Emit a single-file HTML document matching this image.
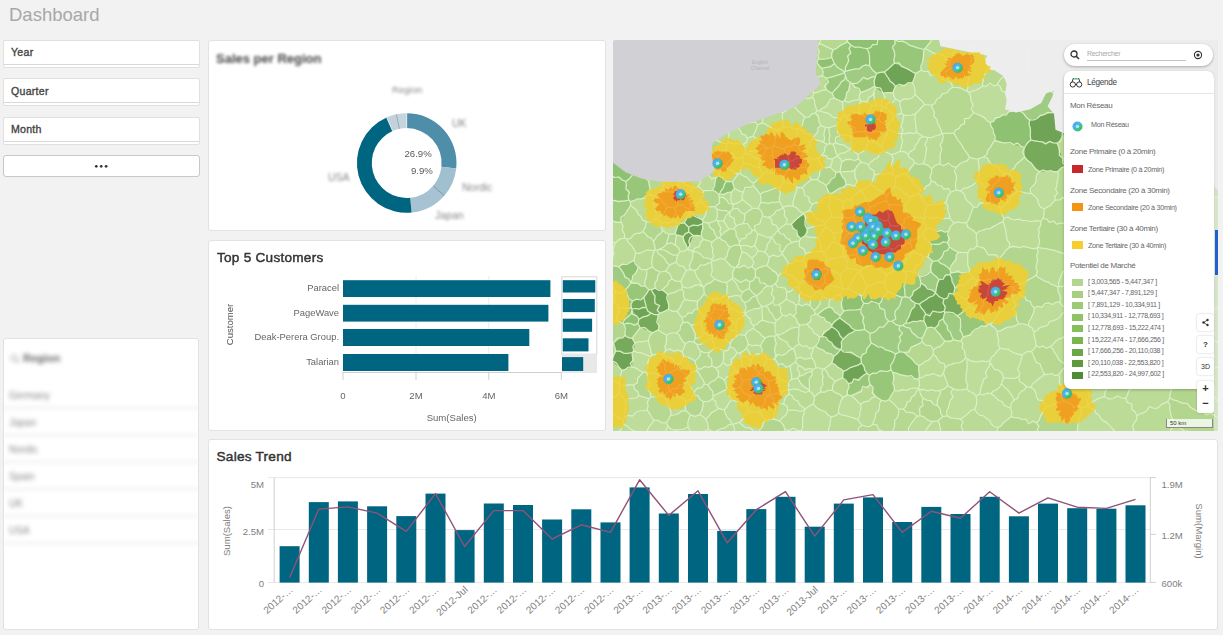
<!DOCTYPE html>
<html><head><meta charset="utf-8">
<style>
*{margin:0;padding:0;box-sizing:border-box}
html,body{width:1223px;height:635px;overflow:hidden;background:#f2f2f2;font-family:"Liberation Sans",sans-serif;position:relative}
.a{position:absolute}
.panel{position:absolute;background:#fff;box-shadow:inset 0 0 0 1px #e2e2e2;border-radius:3px}
.filt{position:absolute;left:3px;width:197px;height:28px;background:#fff;border:1px solid #e0e0e0;border-radius:2px}
.filt .ln{position:absolute;left:0;right:0;top:23px;height:1px;background:#d8d8d8}
.filt span{position:absolute;left:7px;top:5.5px;font-size:10.6px;font-weight:normal;color:#444;-webkit-text-stroke:0.35px #444;letter-spacing:0.25px}
.blur{filter:blur(1.6px)}
.t{position:absolute;white-space:nowrap}
.lg{position:absolute;white-space:nowrap;font-size:8px;color:#666;letter-spacing:-0.3px}
.sw{position:absolute;width:11px;height:8px}
.btn{position:absolute;left:1197px;width:17px;background:#fff;border-radius:2px;box-shadow:0 0 2px rgba(0,0,0,.25);text-align:center;font-weight:bold;color:#333}
</style></head><body>
<div class="t" style="left:9px;top:4px;font-size:18.5px;color:#a8a8a8">Dashboard</div>

<div class="filt" style="top:39.5px"><div class="ln"></div><span>Year</span></div>
<div class="filt" style="top:78px"><div class="ln"></div><span>Quarter</span></div>
<div class="filt" style="top:116.5px"><div class="ln"></div><span>Month</span></div>
<div class="a" style="left:3px;top:154.5px;width:197px;height:22px;background:#fff;border:1px solid #c8c8c8;border-radius:3px"><svg class="a" style="left:0;top:0" width="195" height="20"><g fill="#333"><circle cx="92.3" cy="10.3" r="1.35"/><circle cx="97.2" cy="10.3" r="1.35"/><circle cx="102.1" cy="10.3" r="1.35"/></g></svg></div>

<!-- Region listbox -->
<div class="panel" style="left:3px;top:338px;width:196px;height:292px">
  <div style="filter:blur(1.9px)">
  <svg class="a" style="left:7px;top:16px" width="10" height="10"><circle cx="4" cy="4" r="3" fill="none" stroke="#aaa" stroke-width="1.2"/><line x1="6" y1="6" x2="9" y2="9" stroke="#aaa" stroke-width="1.3"/></svg>
  <div class="t" style="left:20px;top:14px;font-size:11px;font-weight:bold;color:#666">Region</div>
  <div class="t" style="left:6px;top:52px;font-size:10px;color:#8a8a8a">Germany</div>
  <div class="t" style="left:6px;top:79px;font-size:10px;color:#8a8a8a">Japan</div>
  <div class="t" style="left:6px;top:106px;font-size:10px;color:#8a8a8a">Nordic</div>
  <div class="t" style="left:6px;top:133px;font-size:10px;color:#8a8a8a">Spain</div>
  <div class="t" style="left:6px;top:160px;font-size:10px;color:#8a8a8a">UK</div>
  <div class="t" style="left:6px;top:187px;font-size:10px;color:#8a8a8a">USA</div>
  <div class="a" style="left:0;right:0;top:69px;height:2px;background:#ececec"></div>
  <div class="a" style="left:0;right:0;top:96px;height:2px;background:#ececec"></div>
  <div class="a" style="left:0;right:0;top:123px;height:2px;background:#ececec"></div>
  <div class="a" style="left:0;right:0;top:150px;height:2px;background:#ececec"></div>
  <div class="a" style="left:0;right:0;top:177px;height:2px;background:#ececec"></div>
  <div class="a" style="left:0;right:0;top:204px;height:2px;background:#ececec"></div>
  </div>
</div>

<!-- Sales per Region -->
<div class="panel" style="left:208px;top:40px;width:398px;height:191px">
  <div class="blur">
    <div class="t" style="left:8px;top:11px;font-size:13px;font-weight:bold;color:#444">Sales per Region</div>
    <div class="t" style="left:184px;top:44px;font-size:9.6px;color:#888">Region</div>
    <div class="t" style="left:244px;top:77px;font-size:10.5px;color:#888">UK</div>
    <div class="t" style="left:254px;top:141px;font-size:10.5px;color:#888">Nordic</div>
    <div class="t" style="left:227px;top:169px;font-size:10.5px;color:#888">Japan</div>
    <div class="t" style="left:120px;top:131px;font-size:10.5px;color:#888">USA</div>
  </div>
  <svg class="a" style="left:0;top:0" width="399" height="192">
    <g transform="translate(198.7 123)">
      <path id="d" d="" />
    </g>
    <path fill="#4e8ea9" d="M198.70 73.20A49.8 49.8 0 0 1 248.21 128.38L233.40 126.77A34.9 34.9 0 0 0 198.70 88.10Z"/><path fill="#a0bfcf" d="M248.21 128.38A49.8 49.8 0 0 1 236.28 155.67L225.04 145.90A34.9 34.9 0 0 0 233.40 126.77Z"/><path fill="#a7c3d3" d="M236.28 155.67A49.8 49.8 0 0 1 203.65 172.55L202.17 157.73A34.9 34.9 0 0 0 225.04 145.90Z"/><path fill="#006580" d="M203.65 172.55A49.8 49.8 0 0 1 178.60 77.44L184.62 91.07A34.9 34.9 0 0 0 202.17 157.73Z"/><path fill="#c3d1dc" d="M178.60 77.44A49.8 49.8 0 0 1 188.35 74.29L191.44 88.86A34.9 34.9 0 0 0 184.62 91.07Z"/><path fill="#c6d4de" d="M188.35 74.29A49.8 49.8 0 0 1 198.70 73.20L198.70 88.10A34.9 34.9 0 0 0 191.44 88.86Z"/><line x1="225.04" y1="145.90" x2="236.28" y2="155.67" stroke="#6f8a98" stroke-width="0.8"/><line x1="191.44" y1="88.86" x2="188.35" y2="74.29" stroke="#8a9aa6" stroke-width="0.8"/><line x1="184.62" y1="91.07" x2="178.60" y2="77.44" stroke="#e8eef2" stroke-width="0.8"/><line x1="198.70" y1="88.10" x2="198.70" y2="73.20" stroke="#e8eef2" stroke-width="0.8"/>
  </svg>
  <div class="t" style="left:196.5px;top:108px;font-size:9.6px;color:#595959">26.9%</div>
  <div class="t" style="left:203px;top:124.5px;font-size:9.6px;color:#595959">9.9%</div>
</div>

<!-- Top 5 Customers -->
<div class="panel" style="left:208px;top:240px;width:398px;height:191px">
  <div class="t" style="left:9px;top:10px;font-size:13.6px;font-weight:normal;color:#333;-webkit-text-stroke:0.45px #333;letter-spacing:0.25px">Top 5 Customers</div>
  <svg class="a" style="left:0;top:0" width="399" height="192">
    <g stroke="#ececec"><line x1="208" y1="36" x2="208" y2="132"/><line x1="280.8" y1="36" x2="280.8" y2="132"/></g>
    <g fill="#006580">
      <rect x="135" y="40.2" width="207.4" height="16.8"/>
      <rect x="135" y="64.8" width="205.4" height="16.8"/>
      <rect x="135" y="89" width="186.3" height="17"/>
      <rect x="135" y="114" width="165.4" height="17"/>
    </g>
    <g stroke="#cfcfcf"><line x1="135" y1="132.5" x2="353.5" y2="132.5"/><line x1="135" y1="132" x2="135" y2="140"/><line x1="208" y1="132" x2="208" y2="140"/><line x1="280.8" y1="132" x2="280.8" y2="140"/><line x1="353.3" y1="132" x2="353.3" y2="140"/></g>
    <rect x="353.8" y="36.8" width="35" height="77.4" fill="none" stroke="#d8d8d8"/>
    <rect x="354" y="114" width="35" height="19" fill="#e8e8e8"/>
    <g fill="#006580">
      <rect x="354.8" y="40.2" width="32.5" height="12.3"/>
      <rect x="354.8" y="59" width="32" height="13.1"/>
      <rect x="354.8" y="78.7" width="29.3" height="13.1"/>
      <rect x="354.8" y="98.3" width="25.7" height="13.1"/>
      <rect x="354" y="117.1" width="21.2" height="13.9"/>
    </g>
    <g font-size="10" fill="#666" font-family="Liberation Sans">
      <text x="131" y="51" text-anchor="end" font-size="9.4">Paracel</text>
      <text x="131" y="76" text-anchor="end" font-size="9.4">PageWave</text>
      <text x="131" y="100" text-anchor="end" font-size="9.4">Deak-Perera Group.</text>
      <text x="131" y="124.5" text-anchor="end" font-size="9.4">Talarian</text>
      <text x="135" y="158.8" text-anchor="middle" font-size="9.6">0</text>
      <text x="208" y="158.8" text-anchor="middle" font-size="9.6">2M</text>
      <text x="280.8" y="158.8" text-anchor="middle" font-size="9.6">4M</text>
      <text x="353.3" y="158.8" text-anchor="middle" font-size="9.6">6M</text>
      <text x="243.7" y="180.5" text-anchor="middle" font-size="9.6">Sum(Sales)</text>
      <text transform="translate(24.5 84.5) rotate(-90)" text-anchor="middle" font-size="9.6" fill="#555">Customer</text>
    </g>
  </svg>
</div>

<!-- Sales Trend -->
<div class="panel" style="left:208px;top:439px;width:1010px;height:191px">
  <div class="t" style="left:8.5px;top:10px;font-size:13.6px;font-weight:normal;color:#333;-webkit-text-stroke:0.45px #333;letter-spacing:0.25px">Sales Trend</div>
  <svg class="a" style="left:0;top:0" width="1010" height="191">
<g stroke="#e8e8e8" stroke-width="1"><line x1="60" y1="38.6" x2="942" y2="38.6"/><line x1="60" y1="90.5" x2="942" y2="90.5"/><line x1="60" y1="143.5" x2="942" y2="143.5"/></g>
<g stroke="#d0d0d0" stroke-width="1"><line x1="66.2" y1="38.5" x2="66.2" y2="143.5"/><line x1="942.3" y1="38.5" x2="942.3" y2="143.5"/><line x1="942" y1="38.6" x2="948" y2="38.6"/><line x1="942" y1="95.3" x2="948" y2="95.3"/><line x1="942" y1="143.4" x2="948" y2="143.4"/></g>
<g fill="#006580"><rect x="71.6" y="107.2" width="20" height="36.4"/><rect x="100.8" y="63.1" width="20" height="80.5"/><rect x="129.9" y="62.4" width="20" height="81.2"/><rect x="159.1" y="67.3" width="20" height="76.3"/><rect x="188.3" y="77.1" width="20" height="66.5"/><rect x="217.5" y="54.6" width="20" height="89.0"/><rect x="246.6" y="91.1" width="20" height="52.5"/><rect x="275.8" y="64.5" width="20" height="79.1"/><rect x="305.0" y="66.0" width="20" height="77.6"/><rect x="334.1" y="80.5" width="20" height="63.1"/><rect x="363.3" y="70.3" width="20" height="73.3"/><rect x="392.5" y="83.4" width="20" height="60.2"/><rect x="421.6" y="48.4" width="20" height="95.2"/><rect x="450.8" y="74.5" width="20" height="69.1"/><rect x="480.0" y="55.0" width="20" height="88.6"/><rect x="509.2" y="91.9" width="20" height="51.7"/><rect x="538.3" y="70.1" width="20" height="73.5"/><rect x="567.5" y="57.8" width="20" height="85.8"/><rect x="596.7" y="87.7" width="20" height="55.9"/><rect x="625.8" y="64.6" width="20" height="79.0"/><rect x="655.0" y="58.4" width="20" height="85.2"/><rect x="684.2" y="83.0" width="20" height="60.6"/><rect x="713.3" y="67.9" width="20" height="75.7"/><rect x="742.5" y="75.0" width="20" height="68.6"/><rect x="771.7" y="57.8" width="20" height="85.8"/><rect x="800.9" y="77.3" width="20" height="66.3"/><rect x="830.0" y="64.6" width="20" height="79.0"/><rect x="859.2" y="69.2" width="20" height="74.4"/><rect x="888.4" y="69.7" width="20" height="73.9"/><rect x="917.5" y="66.3" width="20" height="77.3"/></g>
<polyline fill="none" stroke="#8f5278" stroke-width="1.4" stroke-linejoin="round" points="81.6,138.7 110.8,70.1 139.9,67.9 169.1,74.1 198.3,92.4 227.5,54.6 256.6,107.5 285.8,71.6 315.0,71.6 344.1,100.0 373.3,85.8 402.5,93.4 431.6,40.8 460.8,76.4 490.0,51.8 519.2,103.8 548.3,70.7 577.5,52.7 606.7,97.1 635.8,60.9 665.0,55.6 694.2,93.4 723.3,72.2 752.5,79.2 781.7,52.7 810.9,74.1 840.0,58.8 869.2,68.2 898.4,69.4 927.5,60.3"/>
<g font-size="10" fill="#808080" font-family="Liberation Sans"><text transform="translate(85.6 151.5) rotate(-42)" text-anchor="end">2012-…</text><text transform="translate(114.8 151.5) rotate(-42)" text-anchor="end">2012-…</text><text transform="translate(143.9 151.5) rotate(-42)" text-anchor="end">2012-…</text><text transform="translate(173.1 151.5) rotate(-42)" text-anchor="end">2012-…</text><text transform="translate(202.3 151.5) rotate(-42)" text-anchor="end">2012-…</text><text transform="translate(231.5 151.5) rotate(-42)" text-anchor="end">2012-…</text><text transform="translate(260.6 151.5) rotate(-42)" text-anchor="end">2012-Jul</text><text transform="translate(289.8 151.5) rotate(-42)" text-anchor="end">2012-…</text><text transform="translate(319.0 151.5) rotate(-42)" text-anchor="end">2012-…</text><text transform="translate(348.1 151.5) rotate(-42)" text-anchor="end">2012-…</text><text transform="translate(377.3 151.5) rotate(-42)" text-anchor="end">2012-…</text><text transform="translate(406.5 151.5) rotate(-42)" text-anchor="end">2012-…</text><text transform="translate(435.6 151.5) rotate(-42)" text-anchor="end">2013-…</text><text transform="translate(464.8 151.5) rotate(-42)" text-anchor="end">2013-…</text><text transform="translate(494.0 151.5) rotate(-42)" text-anchor="end">2013-…</text><text transform="translate(523.2 151.5) rotate(-42)" text-anchor="end">2013-…</text><text transform="translate(552.3 151.5) rotate(-42)" text-anchor="end">2013-…</text><text transform="translate(581.5 151.5) rotate(-42)" text-anchor="end">2013-…</text><text transform="translate(610.7 151.5) rotate(-42)" text-anchor="end">2013-Jul</text><text transform="translate(639.8 151.5) rotate(-42)" text-anchor="end">2013-…</text><text transform="translate(669.0 151.5) rotate(-42)" text-anchor="end">2013-…</text><text transform="translate(698.2 151.5) rotate(-42)" text-anchor="end">2013-…</text><text transform="translate(727.3 151.5) rotate(-42)" text-anchor="end">2013-…</text><text transform="translate(756.5 151.5) rotate(-42)" text-anchor="end">2013-…</text><text transform="translate(785.7 151.5) rotate(-42)" text-anchor="end">2014-…</text><text transform="translate(814.9 151.5) rotate(-42)" text-anchor="end">2014-…</text><text transform="translate(844.0 151.5) rotate(-42)" text-anchor="end">2014-…</text><text transform="translate(873.2 151.5) rotate(-42)" text-anchor="end">2014-…</text><text transform="translate(902.4 151.5) rotate(-42)" text-anchor="end">2014-…</text><text transform="translate(931.5 151.5) rotate(-42)" text-anchor="end">2014-…</text></g>
<g font-size="9.6" fill="#808080" font-family="Liberation Sans"><text x="56" y="48.5" text-anchor="end">5M</text><text x="56" y="96" text-anchor="end">2.5M</text><text x="56" y="147.5" text-anchor="end">0</text>
<text x="953.5" y="48.5">1.9M</text><text x="953.5" y="99.5">1.2M</text><text x="953.5" y="147.5">600k</text>
<text transform="translate(21.5 92) rotate(-90)" text-anchor="middle">Sum(Sales)</text>
<text transform="translate(987.5 92) rotate(90)" text-anchor="middle">Sum(Margin)</text></g>
</svg>
</div>

<!-- Map -->
<div class="a" style="left:613px;top:40px;width:605px;height:391px;overflow:hidden;border-radius:3px 0 0 0;background:#bad997">
<svg width="605" height="391" viewBox="0 0 605 391" style="position:absolute;left:0;top:0">
<rect width="605" height="391" fill="#badb95"/>
<path fill="#bfdd9a" d="M72 14.9L51.5 12.2L49.7 32.5L56.9 40.3L75.9 28.5ZM567.6 172.2L572.6 179.7L591.8 179.6L601 156.7L595.5 150.8L579.4 149.7ZM578.6 283.5L578.7 303.5L605 300.9L605 267.3ZM218.2 376.9L200.2 363.9L192.1 369L191.5 369.7L188.2 390.7L188.5 391L215.5 391ZM474.5 365.5L468.6 368.3L463.3 391L503.1 391ZM409.2 315.1L418.5 311.3L423.1 305.6L420.8 292.1L415.4 285.5L405.8 283.8L384.3 291.4L387.2 308.2ZM334.1 375.9L347.5 379.1L361.9 369.2L363 356.1L353.5 349L340.5 348.9ZM230.7 216.4L230.1 208.6L226.8 204.6L221 202.2L209.5 211.6L213.9 220.6ZM109.9 322.6L118.7 324.7L124 312.6L116.8 306.5L110.2 310.3ZM230.6 177L230.7 162L216.6 156.5L216.2 157L218.3 177.5L228.6 178.5ZM238.5 108.9L224.5 115.7L224.5 115.9L228.9 121.9L245.7 118.8L244.7 114.2L238.7 108.8ZM41.1 380.4L34 370L11.6 377.8L10.5 379.3L10.6 384.5L20.8 391L32.5 391ZM513.1 251.4L542 232.8L541.9 232.1L516.2 216.1L488.4 230.8L488.3 233.1ZM65.2 183.6L61.5 180.4L48 182.9L49.7 190.4L56.2 194.3L62.2 193.6ZM55.2 386.4L53.4 382.5L41.1 380.4L32.5 391L53.2 391ZM6 352.9L6.4 344.3L6 343.6L0 342.7L0 356.5ZM22 303L20.8 310.9L38.2 316.3L39.3 315.3L35.4 300.5ZM170.5 140.7L167.6 145.7L166.6 161.7L169.8 167.3L169.9 167.3L179.8 166.1L184.1 147.6ZM376.9 322.4L390.5 337.8L405.9 336.7L409.2 315.1L387.2 308.2L376.5 321.2ZM79.7 211.6L79.6 211.4L74.5 209.1L67.2 211.4L64.7 214.8L63.2 222.2L73.1 230.7L77.6 229.4ZM102.6 327.8L105.1 336.7L111.4 340.2L123.3 331L118.7 324.7L109.9 322.6ZM33.4 79.7L41.8 83.2L49.5 68.6L38.4 61.1ZM248.1 61L254.1 61.9L261.2 51.5L262.3 47.2L261.7 45.9L247.7 52.6L247 59.7ZM229.5 62.1L221.3 58.1L206.3 70.7L227.3 78.2L230.9 75.8ZM123.3 291.2L125.2 294.5L132.1 295.4L140.5 288.3L140.7 285.7L132.4 273.7L123.1 284.1ZM234.4 354.9L229.9 357.4L225.6 373.1L244.7 379.8L247.6 364.2L238 355.6ZM520.3 88.4L514.9 87.9L509.5 114.5L536.7 117.6L538.4 112.5ZM206.3 70.7L203.6 71.2L202.3 73L207.9 85.7L212.6 87.3L216.2 87.7L223.8 85L227.3 78.2ZM464.6 189.5L460.8 210.9L486.1 226.9L493.3 190.8L476.9 179.5ZM19.1 312.5L19.3 327.1L30.2 332.3L32.8 332.1L38.2 316.3L20.8 310.9ZM446.2 56.2L463.5 41.5L445.9 19.2L421 37L422 42.6ZM431.3 169L442.2 160.1L445 131.3L426.6 131.6L417.7 153.3ZM134.3 98.2L119.6 83.1L115.3 85.8L115.2 102.3L130.5 104.2ZM242 129.9L227.2 132L233.1 144.3L241.7 146ZM44.3 120.4L44.1 117.7L22 112.2L24.2 131.2L33 134ZM206.4 297.3L209.1 296.3L218.7 286.7L218.9 285.2L204.7 274.5L202.4 274.2L193.9 284ZM182.3 33.6L180.1 27L169.6 20L161.7 26.7L159.4 33.7L163.2 41.1L174.2 44.4L180 41.9ZM105.6 368.4L111.2 370L119.1 359.4L117.5 351.1L114.5 349.1L100.1 355.9L99.2 359.1ZM205.8 249.8L205.7 248.4L192.1 240.4L187.3 243.1L185.7 247L187.4 252L197.9 257.6ZM181.1 105.1L170.7 109.1L175.9 121.7L192.9 112.9ZM282.6 59.1L287.1 61.4L302.2 54.6L299.5 42.8L282.4 46.3L280 52.3ZM204.8 118L209.4 126.9L217.2 126.9L219.4 118.9L209.2 115ZM224.5 115.9L219.4 118.9L217.2 126.9L223.2 132.4L227 131.9L228.9 121.9ZM405.4 67.5L405.4 65.9L384.3 44.6L369.7 45.9L356 52.6L360.7 72.7L377.3 82.4ZM139.9 96.2L134.3 98.2L130.5 104.2L131.5 113.8L134.1 113.9L153.5 107.4ZM517.8 22.1L526.2 15.2L524.5 0L486.7 0L484.5 10.9L484.6 11L515.2 22.6ZM278.1 209.1L283.3 228.5L288.5 229.4L300.4 211.1L297.3 202.6ZM282.5 136.9L278.9 133.7L261.2 135.3L258.1 144.4L273.3 155.8L281.8 146.1ZM353.5 349L363 356.1L366.6 354L376.9 322.4L376.5 321.2L354.4 318.9ZM165.3 189.7L154.9 177.3L149.7 176L142 190.3L144.7 193.9L157.9 197.4L158.8 197.1L165.2 189.8ZM53.4 335.6L56.4 351.1L56.8 351.2L73.8 342L75.2 335.2L64.2 329.5ZM414.2 8.1L425.3 0L389.6 0ZM76.9 57.1L58.1 45.6L56 68.3L60.6 71.5L68.8 69.2L76.8 58.1ZM303.8 92.5L302.4 73.8L290.8 74.9L289.2 93.3ZM175.6 349.9L196.5 351L196.3 350.1L184.7 338.2L178.7 339.2L175.1 342.3L175.4 349.6ZM226.8 255.1L229.8 249.7L211.3 243.2L205.7 248.4L205.8 249.8L210.4 256.3L216.8 259.3ZM210.6 102.2L212.6 87.3L207.9 85.7L200 98L200.2 98.5ZM39.9 156.1L42.5 179.2L44.4 179.6L55.2 167.3L43.7 155.4ZM269.9 53L269.3 66.3L270.1 67L272.1 67.2L282.6 59.1L280 52.3ZM211.5 184.8L211.7 183.7L196.4 170.3L190.8 173.3L190.6 173.8L194.1 188.9ZM377.9 353.5L366.6 354L363 356.1L361.9 369.2L384.9 387.7L398.1 376.7L397.6 368.3ZM603.4 195L605 194.8L605 157.1L601 156.7L591.8 179.6ZM345 8.1L359.8 7.2L372.3 0L337.2 0ZM76 90.2L74.4 98.1L79.6 108.4L95.3 102.3L96.3 99.8L94.5 84.7L92.9 83.1L82.1 85.2ZM53.3 295L52.6 310.6L69.2 311.7L72.5 303.7L63.5 292.8ZM257.9 193.7L260.6 209.6L261.7 210.6L275.7 207.6L274.5 190.2L258.8 191.7ZM79.4 147.9L66.4 141L60.8 151.6L64.7 157.9L76.7 152.8ZM450.9 361.3L445.7 334.6L431.6 334.2L418 347.4L433.4 366.6ZM310.2 96.6L303.8 92.5L289.2 93.3L289 93.4L287 111.4L294.9 114.5ZM498.1 143L499.4 129.9L473.3 120.7L461.7 127.7L471.7 152.6ZM180.4 308.9L183.3 318.9L199.1 318L200.4 307.6L186.4 304.1ZM359.8 7.2L353.9 51.2L356 52.6L369.7 45.9L378.6 0L372.3 0ZM337.8 232.9L356 232.9L354.9 212.7L345.3 212.2L336.9 229.6ZM152.6 380.1L147.3 373L134.7 370.3L126.3 382.4L139.4 391L147 391ZM138.9 226.7L138.8 218.1L129 212.1L122.9 227.2ZM375.9 150.1L365.1 141L347.5 151.1L360.4 167.1L378 161.9ZM561.4 386.8L558.2 391L573.5 391ZM149.7 280.1L149.5 266.4L148.6 266.1L132.3 273.2L132.4 273.7L140.7 285.7ZM139.6 168.5L145.2 168.2L147.7 162.5L147.3 154.3L140.5 145.7L130.3 152.2L129.3 159.3ZM248.1 61L245.9 73L254.1 78.4L259.6 65.9L254.1 61.9ZM287.8 185.1L277.7 185.3L274.5 190.2L275.7 207.6L278.1 209.1L297.3 202.6L298.2 200.3ZM120.1 164.4L129.3 159.3L130.3 152.2L121.5 148.3L118.5 151.9L119.9 164.1ZM113.6 242.6L118.7 239L119.9 237.6L121.7 227.9L111.7 219.4L99.1 220.6L98.5 222.2L101.6 239.1ZM211.5 184.8L212 187L220.1 194.4L230.8 189.7L228.6 178.5L218.3 177.5L211.7 183.7ZM585.7 77.9L561.4 96.2L575.2 118.8L602.4 116.3L605 114.3L605 104.1ZM180.4 276.2L169.3 275L163.3 280.4L161.8 283.4L163.4 294.8L164.3 294.9L185.9 287L187 285.2ZM110.7 180.6L116.1 189.3L120.7 188.7L123.2 185.9L116.8 172.2ZM472 322.4L475.3 364.5L492 356.6L498.4 321.1L489.6 317.6ZM95.5 389.2L92.9 379.2L86.7 374.6L77.5 374.8L75 386.7L79.3 391L91.2 391ZM55.2 167.3L44.4 179.6L48 182.9L61.5 180.4L61.4 167.7ZM104.2 43.2L88.8 50.4L101.6 64.6L112.3 60.5L107.7 43.8ZM265.7 78.8L274.5 87.4L280.3 75.3L272.1 67.2L270.1 67ZM108.3 195.1L116.1 189.3L110.7 180.6L104.5 180.8ZM404.5 151.4L396.4 133.6L390.9 133.1L375.9 150.1L378 161.9L388.1 168.1ZM290.8 74.9L288.4 73.4L280.3 75.3L274.5 87.4L274.8 89.4L289 93.4L289.2 93.3ZM592.7 232.1L605 238.5L605 194.8L603.4 195L588.7 216ZM446.5 261.9L421.2 267.9L415.4 285.5L420.8 292.1L453.4 272.4L453.3 272ZM227.5 95.4L222.3 102.7L238.5 108.9L238.7 108.8L238.3 96.7ZM79.6 211.4L90.4 199.4L88.2 196L80.3 195.6L74.5 208.7L74.5 209.1ZM100 21.3L94.1 19L77.4 29.2L82.8 35.3L96 33.2L101.7 23.3ZM106.1 288L105 291.5L117.3 303.5L125.2 294.5L123.3 291.2L106.3 287.9ZM73.1 230.7L67.8 241.3L69.4 246.7L90 246.9L81.6 230.6L77.6 229.4ZM141.8 205.7L127.1 205.8L129 212.1L138.8 218.1L144.9 210.7ZM64.7 157.9L60.8 151.6L48.1 151.7L43.7 155.4L55.2 167.3L61.4 167.7L64.8 165.4ZM137.1 357L133.3 364.7L134.7 370.3L147.3 373L155.2 355.8L142.4 353.9ZM294.9 114.5L287 111.4L278.6 114.7L278.9 133.7L282.5 136.9L293.5 134.6L301.6 123ZM242.9 187.2L239.6 176.9L230.6 177L228.6 178.5L230.8 189.7L236.7 193.1L239.4 193.4ZM227.4 234.2L213.4 228.7L211.3 243.2L229.8 249.7L230.5 249.2ZM187.7 198.4L186.3 201.3L192.5 213.5L209.1 211.4L204.7 198.4L191.5 195.9ZM256.3 169.4L256.9 166.9L247.5 151.3L246.9 151.2L237.9 160.5L243 173.5L249.3 173.1ZM58.1 45.6L56.8 43.6L35.9 56.9L38.4 61.1L49.5 68.6L56 68.3Z"/>
<path fill="#b3d68e" d="M114 103.6L96.3 99.8L95.3 102.3L97.7 111.1L104.8 117.3L113.1 109.9ZM204.2 139.6L213 145.6L223.2 132.4L217.2 126.9L209.4 126.9ZM101 268.3L100 259.3L91.3 253.6L84.6 261.4L85.1 269L92.4 277L94.5 276.8ZM16.6 92.5L4.1 88.3L0 94.2L0 117.2L21.3 110.9L22.4 103.5ZM464.6 189.5L430.1 178.3L427.7 181.3L424.7 207.3L455.6 213.3L460.8 210.9ZM384.3 291.4L405.8 283.8L398.6 253.6L377.4 284.5ZM198.8 331.3L186.2 336.4L184.7 338.2L196.3 350.1ZM154.3 319.3L161.9 318.9L162.1 318.6L161.7 296.2L152.2 297.9L147.3 305.7L148.5 314ZM391.1 178.5L388.1 168.1L378 161.9L360.4 167.1L353.6 182.9L363.4 193.6L389.8 181.7ZM152.6 380.1L147 391L171.2 391L172.1 389.7L166.6 381.1L160.9 379.1ZM49.7 190.4L40.5 201.3L42.3 209.8L43.9 210L46.2 209.3L53.6 204.1L56.2 194.3ZM35.5 56.8L18.7 60.8L25.1 81.1L33.4 79.7L38.4 61.1L35.9 56.9ZM119.9 237.6L136.8 241.9L142.3 236.8L142.5 230L138.9 226.7L122.9 227.2L121.7 227.9ZM421.2 267.9L400.2 247.8L398.6 253.6L405.8 283.8L415.4 285.5ZM561.4 96.2L585.7 77.9L586.5 72.3L581.3 64.3L545.4 59.5L543.9 60.5L542.8 75.8L557.8 95.7ZM514.2 276.4L524.8 283.6L559.4 259.2L559.5 252.2L542 232.8L513.1 251.4ZM127.3 346.7L137.1 357L142.4 353.9L140.2 340.3L130 341ZM238.7 204.5L244.4 212.3L251.1 208.3L245.4 198L241.6 196.6ZM63.4 194.9L62.2 193.6L56.2 194.3L53.6 204.1L62.6 205.5ZM554.8 361.7L561.4 386.8L573.5 391L605 391L605 378.3L556.9 357.7ZM201.1 270.4L210.4 256.3L205.8 249.8L197.9 257.6L197.1 265.8ZM81.1 302.1L84.1 304.6L99 298.1L99.4 296.2L91.3 292L82.1 298.4ZM249.3 173.1L243 173.5L239.6 176.9L242.9 187.2L250.4 185.5ZM165.1 236.4L153.7 225.5L142.5 230L142.3 236.8L154.2 246L158.7 246.1L162.4 243.7ZM210.6 102.2L214.1 104.3L217 103.7L216.2 87.7L212.6 87.3ZM45.1 4.3L51.5 12.2L72 14.9L80.3 1.3L79.9 0L46.1 0ZM400.2 247.5L400.2 247.8L421.2 267.9L446.5 261.9L445 247.2L423 235.2ZM207.9 85.7L202.3 73L191.8 77L186 88.4L200 98ZM301.6 123L293.5 134.6L307.3 150.6L318.3 141L318.7 128.6L310.4 123.6ZM75.2 335.2L83.6 330.5L84.5 328.6L81.9 321.1L70.7 316L64.7 325.1L64.2 329.5ZM113.6 242.6L101.6 239.1L90.7 247.3L91.3 253.6L100 259.3L113.8 255.2ZM141.6 16.8L142.1 16.7L157.7 2.7L156.7 0L132 0L130.2 2.3L130.3 2.6ZM98.9 202.1L104.5 198.1L95.4 183.2L90.1 182.2L89.2 183.7L88.2 196L90.4 199.4ZM417.7 153.3L426.6 131.6L411.7 117L396.4 133.6L404.5 151.4ZM43.1 85.2L41.8 83.2L33.4 79.7L25.1 81.1L16.6 92.5L22.4 103.5L36.7 99.7ZM143.6 255.8L154.2 246L142.3 236.8L136.8 241.9L136.2 248.6L143.1 255.6ZM0.4 303.3L12 295.5L10.8 284.5L9.6 283.2L4.7 281.1L0 282.2L0 303ZM106.1 157.1L102 166.7L103.9 169L116.8 172L119.6 169L120.1 164.4L119.9 164.1ZM505.2 117.4L509.5 114.5L514.9 87.9L503.9 79.8L480.8 90.1ZM423.4 383L426.3 391L463.3 391L468.6 368.3L450.9 361.3L433.4 366.6ZM309.9 358L307 375.6L319.4 381.7L325 380.7L329.9 376.5L324.5 365.6ZM258.8 224.5L273.7 234.7L283.3 228.5L278.1 209.1L275.7 207.6L261.7 210.6ZM254.1 61.9L259.6 65.9L263.7 65.2L261.2 51.5ZM243.2 214.8L244.4 212.3L238.7 204.5L230.1 208.6L230.7 216.4L231.2 216.7ZM105 121.2L85.9 128.5L87.8 133.4L103.4 136.9L105.9 135.7L108.9 126.4ZM88.1 282.8L92.4 277L85.1 269L68.9 277.3L70.1 282.6L78.2 285.4ZM140.2 340.3L145.9 334.4L145.6 332.5L137.3 326.5L129 328.3L124.7 331.4L130 341ZM166.6 161.7L167.6 145.7L147.3 154.3L147.7 162.5ZM31.9 245.8L35.8 249.6L38.4 249.7L42.3 248.2L47.3 232L39.6 227.1L33.5 229.6ZM120.7 188.7L116.1 189.3L108.3 195.1L106.5 197.7L117.2 207.1L126 204.9L126.5 202ZM384.9 387.7L384.3 391L426.3 391L423.4 383L398.1 376.7ZM340.9 93.3L329.6 93.8L326.8 123.9L343.4 127.3L356.6 117.2ZM0 246L0 255.3L0 255.3L2.6 251.9ZM195.4 34.4L199.3 23L191.9 19L180.1 27L182.3 33.6ZM49.7 190.4L48 182.9L44.4 179.6L42.5 179.2L33.3 181.6L29.8 191.5L40.5 201.3ZM130.3 2.6L130.2 2.3L125.7 0L105.9 0L105.1 1.5L105.5 3L117.3 16.7ZM370.6 117L381.8 100.3L377.3 82.4L360.7 72.7L340.9 93.3L356.6 117.2L365.4 118.9ZM105.1 336.7L94.9 344.8L100.1 355.9L114.5 349.1L111.4 340.2ZM238.3 96.7L238.7 108.8L244.7 114.2L255.5 101.5L251.9 91L242.9 91.6ZM78.2 285.4L70.1 282.6L63.5 292.8L72.5 303.7L81.1 302.1L82.1 298.4ZM143.1 255.6L136.2 248.6L129.8 252.1L127.6 256.4L131.6 262.6ZM258.8 224.5L261.7 210.6L260.6 209.6L251.1 208.3L244.4 212.3L243.2 214.8L249.8 228.1ZM161.9 133.4L149.4 133.3L140.6 143.2L140.5 145.7L147.3 154.3L167.6 145.7L170.5 140.7L169.6 137.8ZM105.8 154.6L99.5 150.3L89.9 150.6L89.2 162.4L94.5 167.4L102 166.7L106.1 157.1ZM255.5 101.5L268.5 106.8L273.7 90.6L252.2 90.7L251.9 91ZM170.7 109.1L181.1 105.1L184.2 89.2L169.8 86.1L164 90.2L161.4 106ZM192.1 240.4L195.2 231L189.3 220.8L175.3 223.3L172.2 232.1L187.3 243.1ZM220.3 9.8L206 3.6L205.4 3.9L205.8 19L218.8 17.5ZM122.9 227.2L129 212.1L127.1 205.8L126 204.9L117.2 207.1L111.7 219.4L121.7 227.9ZM385.9 238.2L400.2 247.5L423 235.2L424.2 207.9L396 207.8L385.5 218.9ZM601 156.7L605 157.1L605 114.3L602.4 116.3L595.5 150.8ZM56.9 40.3L49.7 32.5L29.5 32.9L35.5 56.8L35.9 56.9L56.8 43.6ZM130.6 123.9L146.1 127.5L146.7 120.6L134.1 113.9L131.5 113.8L129.3 117.5ZM130.2 2.3L132 0L125.7 0ZM207.8 0L187.2 0L190.6 2.6L205.4 3.9L206 3.6ZM228.9 121.9L227 131.9L227.2 132L242 129.9L247.9 122.2L245.7 118.8ZM117.1 18.7L120.6 23.2L137.7 23.9L141.6 16.8L130.3 2.6L117.3 16.7ZM321.6 288.2L314.2 287.9L309 298.3L309.2 301.7L320.3 309.9L331.9 300.9ZM44.1 117.7L44.3 120.4L50.6 127.4L60.4 127.3L61.8 118.7L48.4 112.5ZM104.8 117.3L97.7 111.1L82.8 123L83.3 126L85.9 128.5L105 121.2ZM553.3 206.6L564.5 203.3L572.6 179.7L567.6 172.2L551 167.2L536.7 173L536.1 188.6ZM132.3 273.2L148.6 266.1L143.6 255.8L143.1 255.6L131.6 262.6L131.5 272.2ZM33.8 333L32.8 332.1L30.2 332.3L20.5 345L26 355.6L35.9 358.7L37.9 357ZM115.2 270.2L116.6 268.8L115.4 257L113.8 255.2L100 259.3L101 268.3L111.4 271ZM80.8 355.1L73 360.9L72.8 370.7L77.5 374.8L86.7 374.6L90.2 361.6ZM175.9 121.7L170.7 109.1L161.4 106L158.7 107.7L161.9 133.4L169.6 137.8L175.1 130.4ZM75.9 169.1L64.8 165.4L61.4 167.7L61.5 180.4L65.2 183.6L71.3 182.8L76.7 172ZM569.3 323.6L558.4 336.2L556.9 357.7L605 378.3L605 361.3ZM185.5 264.1L183.3 265.6L180.4 276.2L187 285.2L193.9 284L202.4 274.2L201.1 270.4L197.1 265.8ZM159.4 33.7L147 37L145.7 52.6L153.1 59.7L163.2 41.1ZM123.1 284.1L132.4 273.7L132.3 273.2L131.5 272.2L116.6 268.8L115.2 270.2L116.1 280.4ZM526.2 15.2L537.2 17.3L568.9 1L568.9 0L524.5 0ZM542 232.8L559.5 252.2L592.7 232.1L588.7 216L564.5 203.3L553.3 206.6L541.9 232.1ZM516.2 216.1L541.9 232.1L553.3 206.6L536.1 188.6L516.3 199.4ZM411.7 117L411.6 107.5L381.8 100.3L370.6 117L390.9 133.1L396.4 133.6Z"/>
<path fill="#78aa5c" d="M30.8 257.3L19.6 261L18.4 267.9L19 269L33.3 267.7ZM227.6 309.7L220.9 316.3L218.8 322.8L230.3 331.3L248.4 323.1L248 318.1L227.9 309.6ZM445 131.3L452.4 125.9L444.1 103.2L417.9 100L411.6 107.5L411.7 117L426.6 131.6ZM344.1 275.8L356.6 266.9L353.4 259.8L340.6 254.2L330.9 259L331.2 271.2L331.8 272.1ZM331.8 272.1L331.2 271.2L312.7 274.1L311 281.2L314.2 287.9L321.6 288.2L330.1 278.8ZM308 243.1L296.6 257.8L302.2 263L306.4 264.1L322.7 253L322.6 252.5ZM312.7 274.1L306.4 264.1L302.2 263L292.8 283.1L311 281.2ZM70.2 196.7L75.8 192.1L75.6 187.2L71.3 182.8L65.2 183.6L62.2 193.6L63.4 194.9ZM26 279.2L24.9 283.3L27.1 287.8L39.5 292.7L45.3 289.9L45.2 274.7L38.2 273.1ZM282.4 46.3L271.3 31.9L263.6 33.4L262.4 36.4L261.7 45.9L262.3 47.2L269.9 53L280 52.3ZM38.2 273.1L45.2 274.7L46.9 273.1L38.4 249.7L35.8 249.6L30.8 257.3L33.3 267.7ZM19.3 298.4L12 295.5L0.4 303.3L2.7 311.2L19.1 312.5L20.8 310.9L22 303Z"/>
<path fill="#98c77a" d="M11.6 250.3L19.6 261L30.8 257.3L35.8 249.6L31.9 245.8L17.8 243.1ZM232.5 35.9L219.1 53.5L221.3 58.1L229.5 62.1L231.3 60.6L237.4 42.7ZM300.3 232.9L292.3 232L292.2 256.6L296.6 257.8L308 243.1L306.6 237ZM11.6 250.3L2.6 251.9L0 255.3L0.9 262.5L5.5 267.8L18.4 267.9L19.6 261ZM375.2 283.8L367.2 271.5L356.6 266.9L344.1 275.8L350.2 297.2ZM232.5 35.9L231.5 32.6L213.4 38.2L213.5 49.9L219.1 53.5ZM247.7 52.6L261.7 45.9L262.4 36.4L239.5 43.5ZM336.4 206.9L334.3 202.5L318.3 204L315.1 217.1L320 221.3L324.9 220.6ZM330.1 278.8L321.6 288.2L331.9 300.9L340.6 299.6ZM256.4 335.2L254.2 333.3L235.5 343.7L234.4 354.9L238 355.6L257 344.3ZM281.4 350.5L279.8 332.4L278 329.9L256.4 335.2L257 344.3L262.8 356.5L268.3 360.2L275.8 359.7ZM223.2 132.4L213 145.6L216.7 153.9L233.1 144.3L227.2 132L227 131.9ZM218.9 285.2L226.6 277.9L227.2 275.6L215.8 267.1L204.7 274.5ZM231 271L227.2 275.6L226.6 277.9L242.5 290.3L251.5 289.4L247.7 269.2ZM24.9 283.3L10.8 284.5L12 295.5L19.3 298.4L27.1 287.8ZM33.3 134.2L33 134L24.2 131.2L13 141.4L15.9 160L17.4 161.7L38.5 155.8ZM311 9.5L283.3 0L281.7 0L281.4 23.3L302.6 33.6L308 30.2ZM221.4 23.5L231.7 31.9L232.2 31.4L238 5.2L234.6 1.8L220.3 9.8L218.8 17.5Z"/>
<path fill="#badb95" d="M173.8 252.1L162.4 243.7L158.7 246.1L159.4 262L166.2 264.5L173.3 259ZM188.2 390.7L172.1 389.7L171.2 391L188.5 391ZM128.6 315.5L137.6 320.4L140.9 316.2L133.4 308.2L126.9 312.9ZM445 247.2L445.6 246.6L455.6 213.3L424.7 207.3L424.2 207.9L423 235.2ZM103.9 23.7L111.9 39.3L118.8 36.9L120.6 23.2L117.1 18.7ZM363.4 193.6L363.7 206.2L385.5 218.9L396 207.8L389.8 181.7ZM189.3 220.8L192.5 213.5L186.3 201.3L178.7 202.8L169.4 212.6L169.1 213.9L175.3 223.3ZM38.5 155.8L17.4 161.7L17.6 165.6L33.3 181.6L42.5 179.2L39.9 156.1ZM198.2 46.4L199.7 39.3L195.4 34.4L182.3 33.6L180 41.9L182.8 44.6ZM61.8 118.7L60.4 127.3L64.9 134.9L83.3 126L82.8 123L78 115.1L65.3 115.5ZM384.9 387.7L361.9 369.2L347.5 379.1L349.5 391L384.3 391ZM81.2 352.2L73.8 342L56.8 351.2L73 360.9L80.8 355.1ZM484.5 10.9L455.1 4.5L446.6 10.8L445.9 19.2L463.5 41.5L472.1 41.3L484.6 11ZM427.7 181.3L430.1 178.3L431.3 169L417.7 153.3L404.5 151.4L388.1 168.1L391.1 178.5ZM472.7 85.2L478.5 47.1L472.1 41.3L463.5 41.5L446.2 56.2L446.1 69.7L458 84.5ZM13.7 34.7L26.1 30.7L29.4 10.6L12.5 0.9L0 12.2L0 18.7ZM256.6 187.6L250.4 185.5L242.9 187.2L239.4 193.4L241.6 196.6L245.4 198L257.9 193.7L258.8 191.7ZM388.4 343.7L390.5 337.8L376.9 322.4L366.6 354L377.9 353.5ZM294.7 176.9L291.7 165.4L276.1 164.3L275 180.1L277.7 185.3L287.8 185.1ZM486.1 226.9L488.4 230.8L516.2 216.1L516.3 199.4L501.7 190.3L493.3 190.8ZM91.6 344L83.6 330.5L75.2 335.2L73.8 342L81.2 352.2ZM512.2 171L535.1 171.7L527.9 149L503.6 151.4L503.3 159.1ZM174.6 370.3L166.6 381.1L172.1 389.7L188.2 390.7L191.5 369.7ZM30.2 332.3L19.3 327.1L8.9 330.3L6 343.6L6.4 344.3L20.5 345ZM213.9 220.6L209.5 211.6L209.1 211.4L192.5 213.5L189.3 220.8L195.2 231L212.9 227.9ZM227.2 275.6L231 271L226.8 255.1L216.8 259.3L215.8 267.1ZM569.4 34.4L552.4 39.4L545.4 59.5L581.3 64.3L582.3 43.3ZM305.7 338.9L279.8 332.4L281.4 350.5L305.6 348.7ZM169.4 10L157.7 2.7L142.1 16.7L161.7 26.7L169.6 20ZM48.4 105.3L48.4 112.5L61.8 118.7L65.3 115.5L61.8 103L55.4 100ZM118.5 151.9L106.3 154.2L105.8 154.6L106.1 157.1L119.9 164.1ZM236.7 193.1L226.8 204.6L230.1 208.6L238.7 204.5L241.6 196.6L239.4 193.4ZM179.8 66L191.8 77L202.3 73L203.6 71.2L199.4 57.1L185.9 57.7L180 63.9ZM0 180.6L0 202.2L2.4 203L11.6 198.2L8.1 182.1ZM234.3 0L233.7 0L234.3 0.2ZM10.6 384.5L5.1 391L20.8 391ZM175.3 223.3L169.1 213.9L156 217.4L153.7 225.5L165.1 236.4L172.2 232.1ZM90 246.9L90.7 247.3L101.6 239.1L98.5 222.2L81.6 230.6ZM10.6 384.5L10.5 379.3L0 374.1L0 391L5.1 391ZM127 133.4L140.6 143.2L149.4 133.3L146.1 127.5L130.6 123.9ZM231.3 60.6L247 59.7L247.7 52.6L239.5 43.5L237.4 42.7ZM157.9 197.4L144.7 193.9L141.8 205.7L144.9 210.7L151.3 212ZM103.9 23.7L117.1 18.7L117.3 16.7L105.5 3L100 21.3L101.7 23.3ZM311 9.5L308 30.2L335 40.5L336.5 20.3L312.2 8.5ZM60.6 71.5L59.4 85.4L76 90.2L82.1 85.2L68.8 69.2ZM4.1 88.3L0 82.4L0 94.2ZM302.4 73.8L311.6 64.5L302.2 54.6L287.1 61.4L288.4 73.4L290.8 74.9ZM112.5 126.3L125.5 133.9L127 133.4L130.6 123.9L129.3 117.5L121.9 117.3ZM103.9 169L102 166.7L94.5 167.4L89.4 180.1L90.1 182.2L95.4 183.2L103.3 180.2ZM39.5 292.7L27.1 287.8L19.3 298.4L22 303L35.4 300.5ZM571.1 319.1L569.3 323.6L605 361.3L605 327.5ZM413.5 346.7L405.9 336.7L390.5 337.8L388.4 343.7L401.2 360.1ZM572.8 142.9L579.4 149.7L595.5 150.8L602.4 116.3L575.2 118.8L572.8 122.8ZM137.6 320.4L137.3 326.5L145.6 332.5L154.3 319.3L148.5 314L140.9 316.2ZM155.2 355.8L147.3 373L152.6 380.1L160.9 379.1L161.8 362.3L155.4 355.7ZM157.7 2.7L169.4 10L183.3 0L156.7 0ZM103 391L120.7 391L119.8 384.3L118.9 384ZM180 41.9L174.2 44.4L171.8 55.5L180 63.9L185.9 57.7L182.8 44.6ZM85.9 128.5L83.3 126L64.9 134.9L64.8 135.4L66.4 141L79.4 147.9L85.2 146.4L87.8 133.4ZM592.6 10.7L571.2 3.5L569.4 34.4L582.3 43.3L598.6 32.7ZM105.5 3L105.1 1.5L88.1 4.3L94.1 19L100 21.3ZM80.3 1.3L88.1 4.3L105.1 1.5L105.9 0L79.9 0ZM176.2 353.9L192.1 369L200.2 363.9L201.3 356.9L196.5 351L175.6 349.9ZM64.8 135.4L49.7 140.5L48.1 151.7L60.8 151.6L66.4 141ZM116.8 172.2L123.2 185.9L130.1 183.7L131.7 174.2L119.6 169L116.8 172ZM572.8 122.8L575.2 118.8L561.4 96.2L557.8 95.7L538.4 112.5L536.7 117.6L539.6 129.7ZM488.4 230.8L486.1 226.9L460.8 210.9L455.6 213.3L445.6 246.6L487.1 234.5L488.3 233.1ZM209.5 211.6L221 202.2L220.1 194.4L212 187L204.7 198.4L209.1 211.4ZM25.2 226.7L17.7 242.6L17.8 243.1L31.9 245.8L33.5 229.6ZM50.6 127.4L44.3 120.4L33 134L33.3 134.2L45.8 135.8ZM526.2 289.2L511.4 320.9L522.7 332.6L558.4 336.2L569.3 323.6L571.1 319.1L571.1 319ZM50.6 313.3L64.7 325.1L70.7 316L69.2 311.7L52.6 310.6ZM39.6 227.1L41.4 210.7L22.6 212.8L20.8 220.5L25.2 226.7L33.5 229.6ZM461.7 127.7L473.3 120.7L480.7 90.1L472.7 85.2L458 84.5L444.1 103.2L452.4 125.9ZM401.2 360.1L388.4 343.7L377.9 353.5L397.6 368.3ZM377.4 284.5L398.6 253.6L400.2 247.8L400.2 247.5L385.9 238.2L379.7 240.6L367.2 271.5L375.2 283.8ZM262.8 356.5L247.6 364.2L244.7 379.8L249 385.2L259.7 384.5L268.3 360.2ZM2.7 311.2L0.4 303.3L0 303L0 318.5ZM2.4 203L0 202.2L0 214.2ZM56 68.3L49.5 68.6L41.8 83.2L43.1 85.2L55.4 88.6L59.4 85.4L60.6 71.5ZM74.5 208.7L70.2 196.7L63.4 194.9L62.6 205.5L67.2 211.4L74.5 209.1ZM149.5 266.4L149.7 280.1L161.8 283.4L163.3 280.4L152.5 266ZM164.3 336.8L165.4 324.3L161.9 318.9L154.3 319.3L145.6 332.5L145.9 334.4L156.5 340.9ZM231.8 76.2L245.9 73L248.1 61L247 59.7L231.3 60.6L229.5 62.1L230.9 75.8ZM314.7 97.3L310.2 96.6L294.9 114.5L301.6 123L310.4 123.6ZM445.6 246.6L445 247.2L446.5 261.9L453.3 272L483.2 249.6L487.1 234.5ZM79.7 211.6L98.6 219.6L98.9 202.1L90.4 199.4L79.6 211.4ZM459.6 281.2L457.8 289.3L470.1 321.7L472 322.4L489.6 317.6L488.2 282.7ZM69.4 246.7L68.6 249.3L71.7 259.3L84.6 261.4L91.3 253.6L90.7 247.3L90 246.9ZM305.7 349L305.6 348.7L281.4 350.5L275.8 359.7L285.8 369.4L290.4 368.9ZM306.4 349.6L309.9 358L324.5 365.6L327.3 350.4ZM234.2 228.1L231.2 216.7L230.7 216.4L213.9 220.6L212.9 227.9L213.4 228.7L227.4 234.2ZM420.8 292.1L423.1 305.6L437.1 306.6L457.8 289.3L459.6 281.2L453.4 272.4ZM33.8 333L37.9 357L52.2 355L56.4 351.1L53.4 335.6L53.3 335.5ZM187.3 243.1L172.2 232.1L165.1 236.4L162.4 243.7L173.8 252.1L185.7 247ZM178.4 184.2L172.9 183.9L165.3 189.7L165.2 189.8L178.7 202.8L186.3 201.3L187.7 198.4ZM311.6 64.5L318.3 65.2L339.7 47.3L335 40.5L308 30.2L302.6 33.6L299.5 42.8L302.2 54.6ZM545.4 59.5L552.4 39.4L537.2 17.3L526.2 15.2L517.8 22.1L528 54.7L543.9 60.5ZM119.6 169L131.7 174.2L139.6 168.5L129.3 159.3L120.1 164.4ZM568.9 1L571.2 3.5L592.6 10.7L605 2.8L605 0L568.9 0ZM237.9 160.5L246.9 151.2L241.7 146L233.1 144.3L216.7 153.9L216.6 156.5L230.7 162ZM422 42.6L421 37L415.4 31.4L394.7 31.1L384.3 44.6L405.4 65.9ZM249 385.2L244.7 379.8L225.6 373.1L218.2 376.9L215.5 391L245.9 391ZM335 40.5L339.7 47.3L353.9 51.2L359.8 7.2L345 8.1L336.5 20.3ZM138.7 31.4L137.7 23.9L120.6 23.2L118.8 36.9L128.2 41.9ZM75 386.7L62.8 390.2L63.1 391L79.3 391ZM196 116.6L192.6 127L198.7 139.5L204.2 139.6L209.4 126.9L204.8 118ZM155.5 355.4L155.4 355.7L161.8 362.3L170.7 363.9L176.2 353.9L175.6 349.9L175.4 349.6ZM126.3 382.4L119.8 384.3L120.7 391L139.4 391ZM111.4 271L101 268.3L94.5 276.8L103.7 283.8ZM106.3 287.9L123.3 291.2L123.1 284.1L116.1 280.4ZM561.4 386.8L554.8 361.7L523.8 375.9L518.9 391L558.2 391ZM190.8 173.3L179.8 166.1L169.9 167.3L172.9 183.9L178.4 184.2L190.6 173.8ZM221.9 341.4L229.6 337.9L230.3 331.3L218.8 322.8L211 328.9Z"/>
<path fill="#bcdb97" d="M85.2 146.4L89.9 150.6L99.5 150.3L103.4 136.9L87.8 133.4ZM129 328.3L137.3 326.5L137.6 320.4L128.6 315.5ZM12.5 0.9L12.4 0L0 0L0 12.2ZM135.2 304.2L147.3 305.7L152.2 297.9L140.5 288.3L132.1 295.4ZM5.9 226.9L20.8 220.5L22.6 212.8L13.8 198.9L11.6 198.2L2.4 203L0 214.2L0 226ZM551 167.2L567.6 172.2L579.4 149.7L572.8 142.9L554.4 146.5ZM88.8 50.4L85.1 49.6L76.9 57.1L76.8 58.1L93.6 76.8L101.6 64.6ZM170.7 363.9L174.6 370.3L191.5 369.7L192.1 369L176.2 353.9ZM468.6 368.3L474.5 365.5L475.3 364.5L472 322.4L470.1 321.7L452.2 326.6L445.7 334.6L450.9 361.3ZM113.1 109.9L104.8 117.3L105 121.2L108.9 126.4L112.5 126.3L121.9 117.3ZM164.3 294.9L163.4 294.8L161.7 296.2L162.1 318.6L179.4 308.8ZM72.5 303.7L69.2 311.7L70.7 316L81.9 321.1L87.4 311.1L84.1 304.6L81.1 302.1ZM0 356.5L0 374.1L10.5 379.3L11.6 377.8L12.7 361L6 352.9ZM455.1 4.5L484.5 10.9L486.7 0L455.6 0ZM258.1 144.4L261.2 135.3L255.3 124.7L247.9 122.2L242 129.9L241.7 146L246.9 151.2L247.5 151.3ZM252.2 90.7L273.7 90.6L274.8 89.4L274.5 87.4L265.7 78.8L254.7 79.6ZM20.5 345L6.4 344.3L6 352.9L12.7 361L26 355.6ZM177.3 325.6L178.7 339.2L184.7 338.2L186.2 336.4L185.4 325.2L182.5 322ZM172.9 183.9L169.9 167.3L169.8 167.3L154.9 177.3L165.3 189.7ZM94.5 84.7L96.3 99.8L114 103.6L115.2 102.3L115.3 85.8ZM120.7 188.7L126.5 202L139.6 190.1L130.1 183.7L123.2 185.9ZM214.1 104.3L210.6 102.2L200.2 98.5L193.6 113.1L196 116.6L204.8 118L209.2 115ZM53.2 391L63.1 391L62.8 390.2L55.2 386.4ZM90.2 361.6L86.7 374.6L92.9 379.2L105.6 368.4L99.2 359.1ZM124.7 331.4L123.3 331L111.4 340.2L114.5 349.1L117.5 351.1L127.3 346.7L130 341ZM26 355.6L12.7 361L11.6 377.8L34 370L35.9 358.7ZM190.6 2.6L187.2 0L183.3 0L169.4 10L169.6 20L180.1 27L191.9 19ZM144.7 193.9L142 190.3L139.6 190.1L126.5 202L126 204.9L127.1 205.8L141.8 205.7ZM480.8 90.1L503.9 79.8L506.1 64.5L494.6 50L478.5 47.1L472.7 85.2L480.7 90.1ZM557.8 95.7L542.8 75.8L520.3 88.4L538.4 112.5ZM216.6 156.5L216.7 153.9L213 145.6L204.2 139.6L198.7 139.5L189.1 147.6L199.4 164.2L216.2 157ZM244.7 114.2L245.7 118.8L247.9 122.2L255.3 124.7L270.7 111.4L268.5 106.8L255.5 101.5ZM347.5 151.1L343.2 149.9L337.7 152.3L332.8 162.7L337 178.4L340.8 183.4L353.6 182.9L360.4 167.1ZM394.7 31.1L415.4 31.4L414.2 8.1L389.6 0L379.7 0ZM200.4 307.6L199.1 318L203 327.6L209.9 329.2L211 328.9L218.8 322.8L220.9 316.3L202.6 306ZM533.3 136.5L527.9 149L535.1 171.7L536.7 173L551 167.2L554.4 146.5L539.3 131ZM318.7 128.6L326.8 123.9L329.6 93.8L328.9 93.5L314.7 97.3L310.4 123.6ZM185.4 325.2L186.2 336.4L198.8 331.3L200 329.6ZM320 221.3L315.1 217.1L310.1 217.1L300.3 232.9L306.6 237L317.9 231.4ZM96 33.2L82.8 35.3L85.1 49.6L88.8 50.4L104.2 43.2ZM133.3 364.7L119.1 359.4L111.2 370L118.9 384L119.8 384.3L126.3 382.4L134.7 370.3ZM396 207.8L424.2 207.9L424.7 207.3L427.7 181.3L391.1 178.5L389.8 181.7ZM99.1 220.6L111.7 219.4L117.2 207.1L106.5 197.7L104.5 198.1L98.9 202.1L98.6 219.6ZM330.5 332.9L306.2 337.9L305.7 338.9L305.6 348.7L305.7 349L306.4 349.6L327.3 350.4L334.7 345.7ZM278.6 114.7L287 111.4L289 93.4L274.8 89.4L273.7 90.6L268.5 106.8L270.7 111.4ZM198.2 46.4L200.9 53.2L213.5 49.9L213.4 38.2L209.4 35.6L199.7 39.3ZM523.8 375.9L512.8 358.2L492 356.6L475.3 364.5L474.5 365.5L503.1 391L518.9 391ZM559.4 259.2L578.6 283.5L605 267.3L605 238.5L592.7 232.1L559.5 252.2ZM578.7 303.5L571.1 319L571.1 319.1L605 327.5L605 300.9ZM115.2 270.2L111.4 271L103.7 283.8L106.1 288L106.3 287.9L116.1 280.4ZM278.9 133.7L278.6 114.7L270.7 111.4L255.3 124.7L261.2 135.3ZM311.3 178.2L313.9 165.1L306.2 153.6L297.4 157.1L291.7 165.4L294.7 176.9L311.2 178.4ZM203 327.6L200 329.6L198.8 331.3L196.3 350.1L196.5 351L201.3 356.9L207.9 351.9L209.9 329.2ZM72.8 370.7L73 360.9L56.8 351.2L56.4 351.1L52.2 355L57.4 375.6ZM116.6 268.8L131.5 272.2L131.6 262.6L127.6 256.4L115.4 257ZM6.7 49.7L13.7 34.7L0 18.7L0 49.1ZM522.7 332.6L512.8 358.2L523.8 375.9L554.8 361.7L556.9 357.7L558.4 336.2ZM200.2 98.5L200 98L186 88.4L184.2 89.2L181.1 105.1L192.9 112.9L193.6 113.1ZM187.4 252L185.7 247L173.8 252.1L173.3 259L183.3 265.6L185.5 264.1ZM127.6 256.4L129.8 252.1L118.7 239L113.6 242.6L113.8 255.2L115.4 257ZM185.9 57.7L199.4 57.1L200.9 53.2L198.2 46.4L182.8 44.6ZM226.8 204.6L236.7 193.1L230.8 189.7L220.1 194.4L221 202.2ZM153.7 225.5L156 217.4L151.3 212L144.9 210.7L138.8 218.1L138.9 226.7L142.5 230ZM231.8 76.2L230.9 75.8L227.3 78.2L223.8 85L227.5 95.4L238.3 96.7L242.9 91.6ZM248.4 256.2L254.4 246L247.6 230.9L233.3 249.3ZM494.6 50L515.2 22.6L484.6 11L472.1 41.3L478.5 47.1ZM169.8 86.1L184.2 89.2L186 88.4L191.8 77L179.8 66L169.3 73ZM197.9 257.6L187.4 252L185.5 264.1L197.1 265.8ZM149.2 82.9L164 90.2L169.8 86.1L169.3 73L153.8 63.2ZM163.2 41.1L153.1 59.7L153.3 60.4L171.8 55.5L174.2 44.4ZM273.3 155.8L273.2 160.8L276.1 164.3L291.7 165.4L297.4 157.1L281.8 146.1ZM183.3 265.6L173.3 259L166.2 264.5L169.3 275L180.4 276.2ZM325 380.7L319.4 381.7L313.6 391L327.6 391ZM514.9 87.9L520.3 88.4L542.8 75.8L543.9 60.5L528 54.7L506.1 64.5L503.9 79.8ZM592.6 10.7L598.6 32.7L605 34.8L605 2.8ZM12.5 0.9L29.4 10.6L45.1 4.3L46.1 0L12.4 0ZM85.1 269L84.6 261.4L71.7 259.3L64.1 271.2L68.9 277.3ZM101.6 64.6L93.6 76.8L92.9 83.1L94.5 84.7L115.3 85.8L119.6 83.1L125.1 72.2L121.1 63.7L112.3 60.5ZM398.1 376.7L423.4 383L433.4 366.6L418 347.4L413.5 346.7L401.2 360.1L397.6 368.3ZM446.6 10.8L428.4 0L425.3 0L414.2 8.1L415.4 31.4L421 37L445.9 19.2ZM175.1 342.3L164.3 336.8L156.5 340.9L155.5 355.4L175.4 349.6ZM564.5 203.3L588.7 216L603.4 195L591.8 179.6L572.6 179.7ZM146.7 120.6L146.1 127.5L149.4 133.3L161.9 133.4L158.7 107.7L155 108ZM89.4 180.1L94.5 167.4L89.2 162.4L78.4 166.1L75.9 169.1L76.7 172ZM578.7 303.5L578.6 283.5L559.4 259.2L524.8 283.6L526.2 289.2L571.1 319ZM192.9 112.9L175.9 121.7L175.1 130.4L192.6 127L196 116.6L193.6 113.1ZM418.5 311.3L409.2 315.1L405.9 336.7L413.5 346.7L418 347.4L431.6 334.2ZM356.6 117.2L343.4 127.3L343.2 149.9L347.5 151.1L365.1 141L365.4 118.9ZM161.7 26.7L142.1 16.7L141.6 16.8L137.7 23.9L138.7 31.4L147 37L159.4 33.7ZM222.3 102.7L219.9 104.1L224.5 115.7L238.5 108.9ZM161.8 362.3L160.9 379.1L166.6 381.1L174.6 370.3L170.7 363.9ZM63.2 222.2L56.7 224.9L52.4 231.1L58.9 238.9L67.8 241.3L73.1 230.7ZM199.4 164.2L189.1 147.6L184.1 147.6L179.8 166.1L190.8 173.3L196.4 170.3ZM187 285.2L185.9 287L186.4 304.1L200.4 307.6L202.6 306L206.4 297.3L193.9 284ZM78.4 166.1L76.7 152.8L64.7 157.9L64.8 165.4L75.9 169.1ZM247.6 230.9L247.6 230.8L234.2 228.1L227.4 234.2L230.5 249.2L233.3 249.3ZM259.6 65.9L254.1 78.4L254.7 79.6L265.7 78.8L270.1 67L269.3 66.3L263.7 65.2ZM328.9 93.5L318.3 65.2L311.6 64.5L302.4 73.8L303.8 92.5L310.2 96.6L314.7 97.3ZM365.1 141L375.9 150.1L390.9 133.1L370.6 117L365.4 118.9ZM99.4 296.2L105 291.5L106.1 288L103.7 283.8L94.5 276.8L92.4 277L88.1 282.8L91.3 292ZM140.9 316.2L148.5 314L147.3 305.7L135.2 304.2L133.4 308.2ZM272.1 67.2L280.3 75.3L288.4 73.4L287.1 61.4L282.6 59.1ZM332.8 162.7L313.9 165.1L311.3 178.2L337 178.4ZM488.2 282.7L489.6 317.6L498.4 321.1L511.4 320.9L526.2 289.2L524.8 283.6L514.2 276.4L491.8 280.1ZM319.4 381.7L307 375.6L304 376.1L295.6 391L313.6 391ZM446.6 10.8L455.1 4.5L455.6 0L428.4 0ZM306.2 153.6L313.9 165.1L332.8 162.7L337.7 152.3L318.3 141L307.3 150.6ZM347.9 300.7L352.8 317.8L354.4 318.9L376.5 321.2L387.2 308.2L384.3 291.4L377.4 284.5L375.2 283.8L350.2 297.2ZM354.9 212.7L363.7 206.2L363.4 193.6L353.6 182.9L340.8 183.4L335.7 191.1L334.3 202.5L336.4 206.9L345.3 212.2ZM527.9 149L533.3 136.5L499.5 129.8L499.4 129.9L498.1 143L503.6 151.4ZM0 255.3L0 263.5L0.9 262.5L0 255.3ZM158.7 246.1L154.2 246L143.6 255.8L148.6 266.1L149.5 266.4L152.5 266L159.4 262ZM79.6 108.4L78 115.1L82.8 123L97.7 111.1L95.3 102.3ZM118.7 324.7L123.3 331L124.7 331.4L129 328.3L128.6 315.5L126.9 312.9L124 312.6ZM320.3 314.3L305.8 325.6L306.2 337.9L330.5 332.9L332.1 327.8ZM437.1 306.6L452.2 326.6L470.1 321.7L457.8 289.3ZM68.9 277.3L64.1 271.2L55.4 269.3L46.9 273.1L45.2 274.7L45.3 289.9L53.3 295L63.5 292.8L70.1 282.6ZM156 217.4L169.1 213.9L169.4 212.6L158.8 197.1L157.9 197.4L151.3 212ZM586.5 72.3L585.7 77.9L605 104.1L605 65.9ZM6 343.6L8.9 330.3L0 321.7L0 342.7ZM312.4 189.4L311.2 178.4L294.7 176.9L287.8 185.1L298.2 200.3L310.1 194.6ZM239.6 176.9L243 173.5L237.9 160.5L230.7 162L230.6 177Z"/>
<path fill="#8fc172" d="M256.6 25.7L254 8.7L238 5.2L232.2 31.4ZM254 8.7L256.6 25.7L263.6 33.4L271.3 31.9L281.4 23.3L281.7 0L265.4 0ZM20.8 220.5L5.9 226.9L17.7 242.6L25.2 226.7ZM273.7 234.7L271.4 242.6L274.9 251.9L289.2 257.3L292.2 256.6L292.3 232L288.5 229.4L283.3 228.5ZM248.4 323.1L254.2 333.3L256.4 335.2L278 329.9L282.5 314.1L258.3 303.1L248 318.1ZM250.8 263.2L266 264.1L274.9 251.9L271.4 242.6L254.4 246L248.4 256.2ZM13 141.4L24.2 131.2L22 112.2L21.3 110.9L0 117.2L0 135.4ZM416.6 80.1L405.4 67.5L377.3 82.4L381.8 100.3L411.6 107.5L417.9 100ZM205.8 19L203.8 22.3L208.7 28.3L221.4 23.5L218.8 17.5ZM121.5 148.3L119.4 142L113.1 141.4L106.3 154.2L118.5 151.9ZM318.3 204L334.3 202.5L335.7 191.1L312.4 189.4L310.1 194.6ZM105.9 135.7L103.4 136.9L99.5 150.3L105.8 154.6L106.3 154.2L113.1 141.4ZM291.1 312.3L286.5 311.7L282.5 314.1L278 329.9L279.8 332.4L305.7 338.9L306.2 337.9L305.8 325.6ZM18.4 267.9L5.5 267.8L4.7 281.1L9.6 283.2L19.1 269.5L19 269ZM336.9 234.6L341.9 248.6L360.1 237.7L356 232.9L337.8 232.9ZM15.9 160L13 141.4L0 135.4L0 160.8ZM230.5 249.2L229.8 249.7L226.8 255.1L231 271L247.7 269.2L250.8 263.2L248.4 256.2L233.3 249.3ZM324.9 220.6L320 221.3L317.9 231.4L326 239.7L336.9 234.6L337.8 232.9L336.9 229.6ZM19.1 269.5L9.6 283.2L10.8 284.5L24.9 283.3L26 279.2ZM234.3 0.2L234.6 1.8L238 5.2L254 8.7L265.4 0L234.3 0Z"/>
<path fill="#b6d891" d="M471.7 152.6L461.7 127.7L452.4 125.9L445 131.3L442.2 160.1L469.4 160.1ZM453.3 272L453.4 272.4L459.6 281.2L488.2 282.7L491.8 280.1L483.2 249.6ZM95.5 389.2L98.6 391L103 391L118.9 384L111.2 370L105.6 368.4L92.9 379.2ZM53.3 335.5L53.4 335.6L64.2 329.5L64.7 325.1L50.6 313.3L49.3 314.2ZM335.7 191.1L340.8 183.4L337 178.4L311.3 178.2L311.2 178.4L312.4 189.4ZM229.9 357.4L234.4 354.9L235.5 343.7L229.6 337.9L221.9 341.4L219.3 350.2ZM98.7 325.9L84.5 328.6L83.6 330.5L91.6 344L94.9 344.8L105.1 336.7L102.6 327.8ZM117.3 303.5L116.8 306.5L124 312.6L126.9 312.9L133.4 308.2L135.2 304.2L132.1 295.4L125.2 294.5ZM334.7 345.7L327.3 350.4L324.5 365.6L329.9 376.5L334.1 375.9L340.5 348.9ZM598.6 32.7L582.3 43.3L581.3 64.3L586.5 72.3L605 65.9L605 34.8ZM52.2 355L37.9 357L35.9 358.7L34 370L41.1 380.4L53.4 382.5L57.4 375.6ZM445.7 334.6L452.2 326.6L437.1 306.6L423.1 305.6L418.5 311.3L431.6 334.2ZM53.4 382.5L55.2 386.4L62.8 390.2L75 386.7L77.5 374.8L72.8 370.7L57.4 375.6ZM336.5 20.3L345 8.1L337.2 0L317.5 0L312.2 8.5ZM238 355.6L247.6 364.2L262.8 356.5L257 344.3ZM219.1 53.5L213.5 49.9L200.9 53.2L199.4 57.1L203.6 71.2L206.3 70.7L221.3 58.1ZM498.4 321.1L492 356.6L512.8 358.2L522.7 332.6L511.4 320.9ZM179.4 308.8L162.1 318.6L161.9 318.9L165.4 324.3L177.3 325.6L182.5 322L183.3 318.9L180.4 308.9ZM219.9 104.1L217 103.7L214.1 104.3L209.2 115L219.4 118.9L224.5 115.9L224.5 115.7ZM80.3 1.3L72 14.9L75.9 28.5L77.4 29.2L94.1 19L88.1 4.3ZM537.2 17.3L552.4 39.4L569.4 34.4L571.2 3.5L568.9 1ZM112.5 126.3L108.9 126.4L105.9 135.7L113.1 141.4L119.4 142L125.5 133.9ZM159.4 262L152.5 266L163.3 280.4L169.3 275L166.2 264.5ZM139.6 190.1L142 190.3L149.7 176L145.2 168.2L139.6 168.5L131.7 174.2L130.1 183.7ZM298.2 200.3L297.3 202.6L300.4 211.1L310.1 217.1L315.1 217.1L318.3 204L310.1 194.6ZM164.3 336.8L175.1 342.3L178.7 339.2L177.3 325.6L165.4 324.3ZM129.3 117.5L131.5 113.8L130.5 104.2L115.2 102.3L114 103.6L113.1 109.9L121.9 117.3ZM247.6 230.8L249.8 228.1L243.2 214.8L231.2 216.7L234.2 228.1ZM155.5 355.4L156.5 340.9L145.9 334.4L140.2 340.3L142.4 353.9L155.2 355.8L155.4 355.7ZM64.9 134.9L60.4 127.3L50.6 127.4L45.8 135.8L49.7 140.5L64.8 135.4ZM25.1 81.1L18.7 60.8L11.1 58.1L0 76.7L0 82.4L4.1 88.3L16.6 92.5ZM46.2 209.3L43.9 210L56.7 224.9L63.2 222.2L64.7 214.8ZM87.4 311.1L81.9 321.1L84.5 328.6L98.7 325.9L96.8 312ZM117.5 351.1L119.1 359.4L133.3 364.7L137.1 357L127.3 346.7ZM234.6 1.8L234.3 0.2L233.7 0L207.8 0L206 3.6L220.3 9.8ZM304 376.1L307 375.6L309.9 358L306.4 349.6L305.7 349L290.4 368.9ZM87.4 311.1L96.8 312L101.2 308.2L99 298.1L84.1 304.6ZM347.5 379.1L334.1 375.9L329.9 376.5L325 380.7L327.6 391L349.5 391ZM274.5 190.2L277.7 185.3L275 180.1L260.4 176.4L256.6 187.6L258.8 191.7ZM81.6 230.6L98.5 222.2L99.1 220.6L98.6 219.6L79.7 211.6L77.6 229.4ZM503.3 159.1L503.6 151.4L498.1 143L471.7 152.6L469.4 160.1L476.9 178.9ZM207.9 351.9L219.3 350.2L221.9 341.4L211 328.9L209.9 329.2ZM304 376.1L290.4 368.9L285.8 369.4L280.1 391L295.6 391ZM539.6 129.7L536.7 117.6L509.5 114.5L505.2 117.4L499.5 129.8L533.3 136.5L539.3 131ZM52.4 231.1L47.3 232L42.3 248.2L49.3 249.9L58.9 238.9ZM297.4 157.1L306.2 153.6L307.3 150.6L293.5 134.6L282.5 136.9L281.8 146.1ZM369.7 45.9L384.3 44.6L394.7 31.1L379.7 0L378.6 0ZM62.6 205.5L53.6 204.1L46.2 209.3L64.7 214.8L67.2 211.4ZM4.7 281.1L5.5 267.8L0.9 262.5L0 263.5L0 282.2ZM165.2 189.8L158.8 197.1L169.4 212.6L178.7 202.8ZM39.3 315.3L49.3 314.2L50.6 313.3L52.6 310.6L53.3 295L45.3 289.9L39.5 292.7L35.4 300.5ZM218.3 177.5L216.2 157L199.4 164.2L196.4 170.3L211.7 183.7ZM82.8 35.3L77.4 29.2L75.9 28.5L56.9 40.3L56.8 43.6L58.1 45.6L76.9 57.1L85.1 49.6ZM101.2 308.2L96.8 312L98.7 325.9L102.6 327.8L109.9 322.6L110.2 310.3ZM130.3 50.8L145.7 52.6L147 37L138.7 31.4L128.2 41.9ZM65.3 115.5L78 115.1L79.6 108.4L74.4 98.1L61.8 103ZM260.4 176.4L256.3 169.4L249.3 173.1L250.4 185.5L256.6 187.6ZM263.7 65.2L269.3 66.3L269.9 53L262.3 47.2L261.2 51.5ZM476.9 179.5L493.3 190.8L501.7 190.3L512.2 171L503.3 159.1L476.9 178.9ZM99 298.1L101.2 308.2L110.2 310.3L116.8 306.5L117.3 303.5L105 291.5L99.4 296.2ZM119.4 142L121.5 148.3L130.3 152.2L140.5 145.7L140.6 143.2L127 133.4L125.5 133.9ZM140.5 288.3L152.2 297.9L161.7 296.2L163.4 294.8L161.8 283.4L149.7 280.1L140.7 285.7ZM469.4 160.1L442.2 160.1L431.3 169L430.1 178.3L464.6 189.5L476.9 179.5L476.9 178.9ZM249 385.2L245.9 391L269.8 391L259.7 384.5ZM136.2 248.6L136.8 241.9L119.9 237.6L118.7 239L129.8 252.1ZM103.3 180.2L95.4 183.2L104.5 198.1L106.5 197.7L108.3 195.1L104.5 180.8ZM501.7 190.3L516.3 199.4L536.1 188.6L536.7 173L535.1 171.7L512.2 171ZM111.9 39.3L103.9 23.7L101.7 23.3L96 33.2L104.2 43.2L107.7 43.8ZM528 54.7L517.8 22.1L515.2 22.6L494.6 50L506.1 64.5ZM36.7 99.7L22.4 103.5L21.3 110.9L22 112.2L44.1 117.7L48.4 112.5L48.4 105.3ZM326.8 123.9L318.7 128.6L318.3 141L337.7 152.3L343.2 149.9L343.4 127.3ZM144.5 85L149.2 82.9L153.8 63.2L153.3 62L126 72.3ZM320.3 314.3L320.3 309.9L309.2 301.7L291.1 312.3L305.8 325.6ZM353.5 349L354.4 318.9L352.8 317.8L332.1 327.8L330.5 332.9L334.7 345.7L340.5 348.9ZM245.4 198L251.1 208.3L260.6 209.6L257.9 193.7ZM155 108L158.7 107.7L161.4 106L164 90.2L149.2 82.9L144.5 85L139.9 96.2L153.5 107.4ZM216.2 87.7L217 103.7L219.9 104.1L222.3 102.7L227.5 95.4L223.8 85ZM201.3 356.9L200.2 363.9L218.2 376.9L225.6 373.1L229.9 357.4L219.3 350.2L207.9 351.9ZM183.3 318.9L182.5 322L185.4 325.2L200 329.6L203 327.6L199.1 318ZM288.5 229.4L292.3 232L300.3 232.9L310.1 217.1L300.4 211.1ZM49.7 32.5L51.5 12.2L45.1 4.3L29.4 10.6L26.1 30.7L29.5 32.9ZM256.3 169.4L260.4 176.4L275 180.1L276.1 164.3L273.2 160.8L256.9 166.9ZM505.2 117.4L480.8 90.1L480.7 90.1L473.3 120.7L499.4 129.9L499.5 129.8ZM204.7 274.5L215.8 267.1L216.8 259.3L210.4 256.3L201.1 270.4L202.4 274.2ZM68.6 249.3L54.6 254.5L55.4 269.3L64.1 271.2L71.7 259.3ZM8.1 182.1L11.6 198.2L13.8 198.9L29.8 191.5L33.3 181.6L17.6 165.6ZM134.1 113.9L146.7 120.6L155 108L153.5 107.4ZM29.5 32.9L26.1 30.7L13.7 34.7L6.7 49.7L11.1 58.1L18.7 60.8L35.5 56.8ZM39.3 315.3L38.2 316.3L32.8 332.1L33.8 333L53.3 335.5L49.3 314.2ZM91.3 292L88.1 282.8L78.2 285.4L82.1 298.4ZM110.7 180.6L116.8 172.2L116.8 172L103.9 169L103.3 180.2L104.5 180.8ZM199.7 39.3L209.4 35.6L208.7 28.3L203.8 22.3L199.3 23L195.4 34.4ZM190.6 2.6L191.9 19L199.3 23L203.8 22.3L205.8 19L205.4 3.9ZM329.6 93.8L340.9 93.3L360.7 72.7L356 52.6L353.9 51.2L339.7 47.3L318.3 65.2L328.9 93.5ZM254.4 246L271.4 242.6L273.7 234.7L258.8 224.5L249.8 228.1L247.6 230.8L247.6 230.9ZM11.1 58.1L6.7 49.7L0 49.1L0 76.7ZM331.9 300.9L320.3 309.9L320.3 314.3L332.1 327.8L352.8 317.8L347.9 300.7L340.6 299.6ZM100.1 355.9L94.9 344.8L91.6 344L81.2 352.2L80.8 355.1L90.2 361.6L99.2 359.1ZM40.5 201.3L29.8 191.5L13.8 198.9L22.6 212.8L41.4 210.7L42.3 209.8ZM112.3 60.5L121.1 63.7L130.3 50.8L128.2 41.9L118.8 36.9L111.9 39.3L107.7 43.8ZM554.4 146.5L572.8 142.9L572.8 122.8L539.6 129.7L539.3 131ZM169.6 137.8L170.5 140.7L184.1 147.6L189.1 147.6L198.7 139.5L192.6 127L175.1 130.4ZM144.5 85L126 72.3L125.1 72.2L119.6 83.1L134.3 98.2L139.9 96.2ZM149.7 176L154.9 177.3L169.8 167.3L166.6 161.7L147.7 162.5L145.2 168.2ZM204.7 198.4L212 187L211.5 184.8L194.1 188.9L191.5 195.9ZM356 232.9L360.1 237.7L364.1 240.1L379.7 240.6L385.9 238.2L385.5 218.9L363.7 206.2L354.9 212.7ZM49.7 140.5L45.8 135.8L33.3 134.2L38.5 155.8L39.9 156.1L43.7 155.4L48.1 151.7ZM251.9 91L252.2 90.7L254.7 79.6L254.1 78.4L245.9 73L231.8 76.2L242.9 91.6ZM153.3 60.4L153.3 62L153.8 63.2L169.3 73L179.8 66L180 63.9L171.8 55.5ZM67.8 241.3L58.9 238.9L49.3 249.9L54.6 254.5L68.6 249.3L69.4 246.7ZM164.3 294.9L179.4 308.8L180.4 308.9L186.4 304.1L185.9 287ZM256.9 166.9L273.2 160.8L273.3 155.8L258.1 144.4L247.5 151.3ZM55.4 100L61.8 103L74.4 98.1L76 90.2L59.4 85.4L55.4 88.6ZM43.1 85.2L36.7 99.7L48.4 105.3L55.4 100L55.4 88.6ZM52.4 231.1L56.7 224.9L43.9 210L42.3 209.8L41.4 210.7L39.6 227.1L47.3 232ZM95.5 389.2L91.2 391L98.6 391ZM212.9 227.9L195.2 231L192.1 240.4L205.7 248.4L211.3 243.2L213.4 228.7ZM68.8 69.2L82.1 85.2L92.9 83.1L93.6 76.8L76.8 58.1ZM78.4 166.1L89.2 162.4L89.9 150.6L85.2 146.4L79.4 147.9L76.7 152.8ZM487.1 234.5L483.2 249.6L491.8 280.1L514.2 276.4L513.1 251.4L488.3 233.1ZM121.1 63.7L125.1 72.2L126 72.3L153.3 62L153.3 60.4L153.1 59.7L145.7 52.6L130.3 50.8ZM275.8 359.7L268.3 360.2L259.7 384.5L269.8 391L280.1 391L285.8 369.4Z"/>
<path fill="#6fa356" d="M194.1 188.9L190.6 173.8L178.4 184.2L187.7 198.4L191.5 195.9ZM19 269L19.1 269.5L26 279.2L38.2 273.1L33.3 267.7ZM80.3 195.6L75.8 192.1L70.2 196.7L74.5 208.7ZM0 318.5L0 321.7L8.9 330.3L19.3 327.1L19.1 312.5L2.7 311.2ZM71.3 182.8L75.6 187.2L89.2 183.7L90.1 182.2L89.4 180.1L76.7 172ZM230.1 299.1L218.7 286.7L209.1 296.3L227.6 309.7L227.9 309.6ZM248.4 323.1L230.3 331.3L229.6 337.9L235.5 343.7L254.2 333.3ZM88.2 196L89.2 183.7L75.6 187.2L75.8 192.1L80.3 195.6ZM42.3 248.2L38.4 249.7L46.9 273.1L55.4 269.3L54.6 254.5L49.3 249.9ZM230.1 299.1L242.5 290.3L226.6 277.9L218.9 285.2L218.7 286.7ZM299.5 42.8L302.6 33.6L281.4 23.3L271.3 31.9L282.4 46.3ZM458 84.5L446.1 69.7L416.6 80.1L417.9 100L444.1 103.2ZM322.7 253L306.4 264.1L312.7 274.1L331.2 271.2L330.9 259ZM341.9 248.6L336.9 234.6L326 239.7L322.6 252.5L322.7 253L330.9 259L340.6 254.2Z"/>
<path fill="#a0cb83" d="M248 318.1L258.3 303.1L256.9 293.3L251.5 289.4L242.5 290.3L230.1 299.1L227.9 309.6ZM367.2 271.5L379.7 240.6L364.1 240.1L353.4 259.8L356.6 266.9ZM364.1 240.1L360.1 237.7L341.9 248.6L340.6 254.2L353.4 259.8ZM208.7 28.3L209.4 35.6L213.4 38.2L231.5 32.6L231.7 31.9L221.4 23.5ZM326 239.7L317.9 231.4L306.6 237L308 243.1L322.6 252.5ZM5.9 226.9L0 226L0 246L2.6 251.9L11.6 250.3L17.8 243.1L17.7 242.6ZM289.2 257.3L274.9 251.9L266 264.1L275.6 281L279.1 281.3ZM289.6 285.3L286.8 285.9L286.5 311.7L291.1 312.3L309.2 301.7L309 298.3ZM311 9.5L312.2 8.5L317.5 0L283.3 0ZM446.1 69.7L446.2 56.2L422 42.6L405.4 65.9L405.4 67.5L416.6 80.1ZM292.8 283.1L289.6 285.3L309 298.3L314.2 287.9L311 281.2ZM8.1 182.1L17.6 165.6L17.4 161.7L15.9 160L0 160.8L0 180.6ZM251.5 289.4L256.9 293.3L275.6 281L266 264.1L250.8 263.2L247.7 269.2ZM239.5 43.5L262.4 36.4L263.6 33.4L256.6 25.7L232.2 31.4L231.7 31.9L231.5 32.6L232.5 35.9L237.4 42.7ZM302.2 263L296.6 257.8L292.2 256.6L289.2 257.3L279.1 281.3L286.8 285.9L289.6 285.3L292.8 283.1ZM282.5 314.1L286.5 311.7L286.8 285.9L279.1 281.3L275.6 281L256.9 293.3L258.3 303.1ZM347.9 300.7L350.2 297.2L344.1 275.8L331.8 272.1L330.1 278.8L340.6 299.6ZM220.9 316.3L227.6 309.7L209.1 296.3L206.4 297.3L202.6 306ZM345.3 212.2L336.4 206.9L324.9 220.6L336.9 229.6Z"/>
<defs><path id="rdg" d="M579.3 393L575.9 391.2L571.9 391.3L568.6 389.1L565.3 386.9L561.4 386.8M561.4 386.8L558.1 389.2L556.7 393M561.4 386.8L560.1 383.3L559.6 379.6L558.2 376.1L557.5 372.5L556.7 368.8L556.9 364.9L554.8 361.7M554.8 361.7L556.9 357.7M607 379.2L603.9 377.2L600.9 375L597.6 373.5L593.1 374.6L590.4 371.7L586.8 371L583 370.6L579.9 368.7L576.7 366.7L574.3 363.3L570.3 363.3L566.9 362.2L563.6 360.6L560 359.8L556.9 357.7M554.8 361.7L551.3 363.1L547.9 364.9L545.1 367.9L541.2 368.5L536.2 366.5L533.9 370.6L530.7 372.8L527 373.7L523.8 375.9M523.8 375.9L523.6 379.6L521.5 382.7L519.6 385.9L520.9 390.1L518.3 393M12.4 -2L12.5 0.9M46.6 -2L45.1 4.3M45.1 4.3L41.5 6.5L37.4 7.8L33.4 9.3L29.4 10.6M29.4 10.6L25.8 9.1L22.8 6.5L19.7 3.9L16 2.5L12.5 0.9M3.4 393L6.6 390.8L9 388L10.6 384.5M10.6 384.5L14.3 386.1L17.1 389L20.8 390.6L23.9 393M537.2 17.3L540.6 16.2L543.4 13.7L546.6 12.2L550.6 12.3L553 9L555.5 6.2L559.5 6L562.7 4.5L565.5 2.2L568.9 1M537.2 17.3L539.3 20.5L540.7 24.2L544.1 26.5L546 29.8L548.6 32.7L549.9 36.4L552.4 39.4M552.4 39.4L555.7 38.3L558.9 36.5L562.5 36.3L566.5 37.1L569.4 34.4M569.4 34.4L567.9 30.4L568.5 26.6L570.4 22.8L568.9 18.9L572.4 15.2L569.3 11.1L569.7 7.3L571.2 3.5M571.2 3.5L568.9 1M-2 161L1.6 160.3L5.2 161.7L8.8 161.2L12.3 160.8L15.9 160M13 141.4L13.3 145.2L12.9 149L16.5 152.3L15 156.3L15.9 160M-2 134.5L1.2 137.5L5.9 137L9.1 140L13 141.4M-2 14L1.7 12.3L4.6 9.7L6.6 6.1L10.8 4.9L12.5 0.9M29.4 10.6L28.2 14.6L27 18.5L28.4 22.9L27.4 26.8L26.1 30.7M-2 16.3L1.2 18.9L1.9 23.6L7.6 24.1L9.8 27.4L10.5 32.2L13.7 34.7M26.1 30.7L21.9 31.9L18.7 36.1L13.7 34.7M-2 48.9L2.4 48.9L6.7 49.7M13.7 34.7L12.2 38.6L9.1 41.7L10.1 46.7L6.7 49.7M-1.8 79.8L-0.4 76.4L2.8 74.1L4.4 70.9L4.8 66.9L7.2 64.1L8 60.4L11.1 58.1M-1.8 79.8L-2 79.8M6.7 49.7L7.7 54.5L11.1 58.1M10.6 384.5L10.5 379.3M-2 373.1L2.3 374.8L5.7 378.4L10.5 379.3M394.7 31.1L393.8 27.5L390.8 24.9L389.9 21.3L389 17.7L387.2 14.5L386.6 10.8L384.7 7.7L382.4 4.8L381.1 1.4L378.9 -1.6M394.7 31.1L398.8 30.5L403 30.7L407.1 31.9L411.3 31.7L415.4 31.4M415.4 31.4L414.2 27.6L415 23.6L414.1 19.8L414.1 15.9L415.7 11.9L414.2 8.1M414.2 8.1L410.5 7.8L407.2 6.4L404.2 4.2L400.6 3.5L397.2 2.3L393.3 2.7L390.4 0.2L386.8 -0.6L383.5 -2M378.9 -1.6L378.9 -2M369.7 45.9L369.7 42.1L370.6 38.5L371.6 34.9L373.4 31.5L375.1 28L374.1 24L376.1 20.6L375.5 16.7L374.7 12.7L376.9 9.4L378.8 5.9L379.6 2.3L378.9 -1.6M384.3 44.6L380.7 45.8L376.8 43.1L373.4 46.3L369.7 45.9M384.3 44.6L386.3 40.8L389.1 37.6L393.2 35.3L394.7 31.1M426.7 -2L426.7 -1M426.7 -1L423.3 0.9L419.9 2.8L418.6 7.5L414.2 8.1M100.5 392.1L104.2 390.5L107.8 388.8L111.9 387.9L115.1 385.2L118.9 384M100.5 392.1L100.6 393M121 393L121.6 388.5L119.8 384.3M119.8 384.3L118.9 384M52.4 393L53.2 389.4L55.2 386.4M63.9 393L62.8 390.2M62.8 390.2L58.4 389.5L55.2 386.4M-2 201.6L2.4 203M2.4 203L6.3 199.2L11.6 198.2M-2 180.3L2.8 182.4L8.1 182.1M11.6 198.2L11.5 194L9.1 190.3L10 185.9L8.1 182.1M4.1 88.3L8.3 89.6L12.5 91L16.6 92.5M4.1 88.3L3.2 92L0.4 94.4L-2 97M16.6 92.5L18.4 96.3L20.3 99.9L22.4 103.5M-2 117.8L1.7 116.2L6.1 116.5L10.1 115.7L13.3 112.5L17.5 112.5L21.3 110.9M21.3 110.9L20.4 107L22.4 103.5M11.1 58.1L14.8 59.9L18.7 60.8M-1.8 79.8L1.9 83.5L4.1 88.3M18.7 60.8L19.9 64.2L20.6 67.6L22.1 70.9L22 74.6L24.7 77.5L25.1 81.1M25.1 81.1L23.3 84.2L20.6 86.6L18.8 89.7L16.6 92.5M13 141.4L16 139.1L18.5 136.2L20.9 133.2L24.2 131.2M22 112.2L21.3 110.9M24.2 131.2L24.4 127.4L23.4 123.6L23.8 119.7L23.8 115.9L22 112.2M455.1 4.5L458.9 5L462.6 5.4L466.2 6.5L469.9 7.1L473.9 6.7L476.8 10.9L480.8 10.6L484.5 10.9M455.1 4.5L455.8 -2M484.5 10.9L487.6 7.1L485.7 2.2L487 -2M446.6 10.8L449.8 9.2L452.5 6.8L455.1 4.5M426.7 -1L430 0.9L432.8 3.8L436.6 4.9L439.9 6.8L443.1 9L446.6 10.8M568.9 1L568.7 -2M526.2 15.2L530.3 13.8L533.6 16L537.2 17.3M526.2 15.2L525.1 11L526.9 6.4L525.3 2.2L524.2 -2M607 1.5L603 3.1L599.4 5.5L596.3 8.5L592.6 10.7M592.6 10.7L589.5 7.9L585.4 8.4L581.5 8.3L578.5 5.3L575.1 3.6L571.2 3.5M446.6 10.8L446.1 15L445.9 19.2M415.4 31.4L417.9 34.5L421 37M421 37L424.7 35.6L428.1 33.8L430.7 30.8L434.4 29.5L436.8 26.1L440.9 25.3L442 20.4L445.9 19.2M462.9 393L464.6 389.7L464.8 386L465.5 382.4L465 378.6L468 375.6L467.7 371.8L468.6 368.3M505.3 393L501.9 391.2L499.3 388.4L496.8 385.6L494.2 382.9L490.8 381.1L488 378.6L486 375.2L482.9 373L481.4 369.1L477.1 368.3L474.5 365.5M468.6 368.3L474.5 365.5M581.3 64.3L582.3 60.9L583.4 57.4L581.7 53.8L583 50.3L582.5 46.8L582.3 43.3M581.3 64.3L583.8 68.4L586.5 72.3M586.5 72.3L590.5 72.6L593 69.1L596.6 68.3L599.6 66L603.6 66.4L607 65.2M582.3 43.3L586.1 42L588.7 38.9L592.5 37.7L594.9 34.3L598.6 32.7M598.6 32.7L602.4 35.2L607 35.5M569.4 34.4L572.6 36.6L576.1 38.5L578.1 42.4L582.3 43.3M545.4 59.5L548.9 60L552.5 61.1L556.1 61.1L559.6 62.1L563.3 62.1L567.1 61.3L570.5 63.2L574.1 63.9L577.7 64.3L581.3 64.3M545.4 59.5L546.4 56.1L549.4 53.4L548.3 49.2L550.2 46.2L551.4 42.9L552.4 39.4M592.6 10.7L594.5 14.1L595.6 17.7L594.9 21.9L595.9 25.6L597.4 29.1L598.6 32.7M586.5 72.3L585.7 77.9M607 106.9L603.7 104.8L602.6 101.2L600.8 98L599 94.9L597.3 91.7L594.6 89.2L592.9 86L591.3 82.7L586 82.1L585.7 77.9M126.3 382.4L129.2 380L130.2 376.1L133 373.6L134.7 370.3M126.3 382.4L119.8 384.3M118.9 384L117.2 380.3L114.3 377.4L112.5 373.9L111.2 370M119.1 359.4L116.1 362.6L114 366.5L111.2 370M119.1 359.4L122.4 361.4L126.3 361.7L129 365.3L133.3 364.7M133.3 364.7L134.7 370.3M190.1 393L188.2 390.7M188.2 390.7L184.2 390.6L180.3 388.1L176.1 390.6L172.1 389.7M172.1 389.7L169.9 393M126.3 382.4L129.2 385L132.2 387.6L136.7 387.8L139.7 390.2L142.5 393M62.8 390.2L67 389.5L71.2 389L75 386.7M75 386.7L77.2 390.8L81.3 393M100.5 392.1L95.5 389.2M86.6 393L91.3 391.6L95.5 389.2M24.2 131.2L28.3 133.6L33 134M44.1 117.7L40.2 117.8L36.7 116.2L33.4 113.6L29.3 114.5L25.7 113.3L22 112.2M44.1 117.7L44.3 120.4M44.3 120.4L43.3 124.2L39.9 125.9L38.6 129.5L34.9 131L33 134M-2 357.7L2.8 356.6L6 352.9M10.5 379.3L11.6 377.8M11.6 377.8L12.2 373.6L12.4 369.4L12.1 365.2L12.7 361M12.7 361L9.8 356.6L6 352.9M41.8 83.2L37.2 82.4L33.4 79.7M41.8 83.2L43.4 79.4L47.5 76.9L46.5 71.7L49.5 68.6M33.4 79.7L33.9 75.8L34.2 71.9L37.6 68.8L37.2 64.8L38.4 61.1M49.5 68.6L45.1 67L41.4 64.5L38.4 61.1M51.5 12.2L50 16.2L50.1 20.3L49.6 24.3L50 28.5L49.7 32.5M45.1 4.3L47.6 8.8L51.5 12.2M26.1 30.7L29.5 32.9M49.7 32.5L45.6 31.3L41.6 32L37.6 34.2L33.6 34.6L29.5 32.9M18.7 60.8L22.6 58.5L27.2 59.1L31 56.4L35.5 56.8M29.5 32.9L31.4 36L31.2 39.7L32.9 42.9L34.1 46.2L32.9 50.2L34.2 53.5L35.5 56.8M25.1 81.1L29.4 81.1L33.4 79.7M38.4 61.1L35.9 56.9M35.5 56.8L35.9 56.9M50.6 127.4L47.4 131.2L45.8 135.8M50.6 127.4L48.5 123L44.3 120.4M33 134L33.3 134.2M33.3 134.2L37.5 134.8L41.7 135.1L45.8 135.8M33.3 181.6L29.5 180.1L27.9 176.5L25 174L23.6 170.3L20.7 167.8L17.6 165.6M33.3 181.6L38.3 181.8L42.5 179.2M42.5 179.2L43.2 175.2L42.8 171.3L41.7 167.6L40.9 163.8L40 160L39.9 156.1M17.4 161.7L17.6 165.6M17.4 161.7L20.9 160.7L24.2 158.8L28.1 159.1L31.5 157.7L34.5 154.9L38.5 155.8M38.5 155.8L39.9 156.1M11.6 198.2L13.8 198.9M8.1 182.1L7.7 177.5L11.3 175.2L13.4 172L15.4 168.8L17.6 165.6M13.8 198.9L17.5 198.6L19.9 195.4L22.9 193.4L26.8 193.3L29.8 191.5M29.8 191.5L32.5 186.9L33.3 181.6M15.9 160L17.4 161.7M33.3 134.2L32.6 138.2L36 141.2L36.2 144.9L37.2 148.5L36.3 152.5L38.5 155.8M22.4 103.5L26.1 103.2L29.5 101.6L33.3 101.3L36.7 99.7M41.8 83.2L43.1 85.2M43.1 85.2L41.8 88.9L40.1 92.5L38.3 96.1L36.7 99.7M97.7 111.1L95 113.9L91.9 116.1L88.5 118L85.6 120.5L82.8 123M97.7 111.1L97.9 106.3L95.3 102.3M78 115.1L79.7 119.5L82.8 123M78 115.1L79.6 108.4M79.6 108.4L83.5 106.8L86.7 103.4L90.9 102.5L95.3 102.3M49.7 32.5L52.4 34.8L54.7 37.5L56.9 40.3M35.9 56.9L38.2 53.9L41.7 52.8L44.9 51.3L47.5 48.8L50.7 47.3L53.8 45.4L56.8 43.6M56.9 40.3L56.8 43.6M356 52.6L353.9 51.2M369.7 45.9L366.6 48.2L363.2 50L359.5 51L356 52.6M375.7 -2L372.4 -0.4L369.9 2.6L367.2 5.2L363.5 6.2L359.8 7.2M353.9 51.2L354.9 47.6L353.3 43.6L356.2 40.3L355.3 36.5L356.5 32.9L356.1 29.1L357.9 25.6L357.9 21.9L358.7 18.3L357 14.3L360 11L359.8 7.2M244.9 393L245.5 388.3L249 385.2M215.2 393L215.6 388.9L217.1 385L217.2 380.9L218.2 376.9M249 385.2L244.7 379.8M244.7 379.8L241.1 378.1L237.1 377L233.3 375.8L229.2 375.2L225.6 373.1M218.2 376.9L222.3 375.9L225.6 373.1M134.7 370.3L138.6 372.2L143.2 371.5L147.3 373M146 393L146.9 389.4L149.5 386.6L150.3 383L152.6 380.1M147.3 373L149.9 376.6L152.6 380.1M111.2 370L105.6 368.4M95.5 389.2L94.9 384L92.9 379.2M105.6 368.4L102.1 370.7L98.4 372.8L95.8 376.2L92.9 379.2M75 386.7L74.8 382.6L75.8 378.6L77.5 374.8M92.9 379.2L90.1 376.5L86.7 374.6M77.5 374.8L82.2 376.5L86.7 374.6M-2 281.9L-1.2 282.5M-1.2 282.5L-2 284.4M20.8 220.5L17.2 222.4L13.7 224.5L9.1 224.1L5.9 226.9M22.6 212.8L21.8 216.7L20.8 220.5M2.4 203L1 206.3L-0 209.7L1.1 213.5L-0.2 216.8L-0.7 220.3L-2 223.6M22.6 212.8L20.8 209.1L18.7 205.6L15.5 202.7L13.8 198.9M5.9 226.9L2 225.8L-2 225.7M-2 342.4L2.2 341.3L6 343.6M6 352.9L6.5 348.6L6.4 344.3M6 343.6L6.4 344.3M-2 321.2L-0.9 320.8M6 343.6L7.2 339.2L7.9 334.7L8.9 330.3M-0.9 320.8L3.4 323L5.8 327L8.9 330.3M39.9 156.1L43.7 155.4M44.4 179.6L42.5 179.2M44.4 179.6L46.3 175.8L50.8 174.3L52.3 170.2L55.2 167.3M55.2 167.3L52.2 164.5L49.4 161.4L46.9 158L43.7 155.4M44.4 179.6L48 182.9M29.8 191.5L32.5 194L34.8 196.8L38.4 198.2L40.5 201.3M48 182.9L47.9 186.9L49.7 190.4M49.7 190.4L47.8 193.5L44.6 195.4L42.6 198.5L40.5 201.3M22.6 212.8L26.4 213.4L30.1 211.8L33.7 210.1L37.5 210L41.4 210.7M41.4 210.7L42.3 209.8M40.5 201.3L41.6 205.5L42.3 209.8M169.4 10L168.3 15.1L169.6 20M169.4 10L165.3 7.9L161.6 5.1L157.7 2.7M157.7 2.7L153.8 4.6L151.8 8.7L148.2 10.9L145.1 13.7L142.1 16.7M142.1 16.7L145.6 17.8L148.5 20.2L151.4 22.6L154.7 24.2L158.6 24.8L161.7 26.7M161.7 26.7L167.4 25.5L169.6 20M185.3 -2L185.3 -1.4M185.3 -1.4L182 0.6L179.1 3.4L176.2 6L173.2 8.5L169.4 10M156 -2L157.7 2.7M234.8 -2L234.3 0.2M229.2 -2L234.3 0.2M268 -2L264.8 -0.4L264.1 4.5L259.7 4.6L257.6 7.6L254 8.7M234.3 0.2L234.6 1.8M234.6 1.8L238 5.2M254 8.7L250 8L246 7L241.8 7.3L238 5.2M83.3 126L82.8 123M64.9 134.9L61.8 131.6L60.4 127.3M64.9 134.9L69.1 134.2L72 130.8L75.9 129.5L79.5 127.5L83.3 126M60.4 127.3L61.8 123.1L61.8 118.7M78 115.1L73.7 114.1L69.5 114.5L65.3 115.5M61.8 118.7L65.3 115.5M44.1 117.7L48.4 112.5M50.6 127.4L55.5 127.8L60.4 127.3M61.8 118.7L58.6 116.7L54.6 116.6L52.2 112.9L48.4 112.5M36.7 99.7L40.8 101.1L44.9 102.6L48.4 105.3M48.4 112.5L48 108.9L48.4 105.3M74.4 98.1L74.4 94L76 90.2M74.4 98.1L70.1 99.4L65.8 100.7L61.8 103M76 90.2L72.2 87.9L67.6 87.9L63.4 87.1L59.4 85.4M61.8 103L58.5 101.8L55.4 100M55.4 100L54.2 96.2L54.6 92.4L55.4 88.6M59.4 85.4L55.4 88.6M65.3 115.5L65.9 110.8L62.3 107.4L61.8 103M79.6 108.4L77.4 105.2L76.6 101.3L74.4 98.1M48.4 105.3L52 102.8L55.4 100M43.1 85.2L47 87L51.5 86.7L55.4 88.6M49.5 68.6L56 68.3M56.8 43.6L58.1 45.6M58.1 45.6L58.8 49.5L56.2 53.1L57.7 57L56.8 60.8L56.2 64.5L56 68.3M59.4 85.4L58 80.6L60 76.1L60.6 71.5M56 68.3L60.6 71.5M281.4 23.3L280.8 19.3L281.9 15.3L281.2 11.4L279.4 7.4L282.3 3.4L281.7 -0.6M281.4 23.3L286 22.8L288.6 26.3L292.3 27.8L295.8 29.6L299.1 31.8L302.6 33.6M281.7 -0.6L285.1 1.5L289.3 1.1L292.9 2.6L296.1 5.1L299.8 6.1L303.4 7.6L307.2 8.5L311 9.5M311 9.5L310.6 13.6L310.3 17.8L309.7 21.9L307.8 25.9L308 30.2M302.6 33.6L308 30.2M345 8.1L341.8 10.4L339.3 13.2L339.5 17.8L336.5 20.3M345 8.1L342.4 5.7L340.1 3.1L337.5 0.7L335.2 -2M336.5 20.3L332.5 19.6L330.4 15.1L326.7 14L322.5 13.8L318.9 12.3L315.7 10.3L312.2 8.5M318.7 -2L317.6 2.1L314.7 5.2L312.2 8.5M353.9 51.2L350.5 49.5L347.2 47.8L343.4 47.5L339.7 47.3M339.7 47.3L338.3 43.2L335 40.5M335 40.5L334.3 36.4L332.5 32.2L337.2 28.5L336.3 24.4L336.5 20.3M359.8 7.2L356.1 7.5L352.3 6.1L348.8 8.8L345 8.1M311 9.5L312.2 8.5M335 40.5L331.3 40.1L328 38.6L325.4 35.2L321.8 34.5L317.5 35.6L315.3 31.3L311.4 31.5L308 30.2M281.7 -0.6L280.7 -2M339.7 47.3L336.4 49.5L334 53L329.4 53.6L327.2 57.2L323.6 59.2L322 63.4L318.3 65.2M318.3 65.2L311.6 64.5M311.6 64.5L308.9 60.8L305.4 57.9L302.2 54.6M302.6 33.6L301.3 38.3L299.5 42.8M299.5 42.8L301.2 46.6L302 50.5L302.2 54.6M289 93.4L285.2 93.5L281.7 92L278.3 90.4L274.8 89.4M289 93.4L288.1 97L289.7 100.8L288.8 104.3L288 107.9L287 111.4M273.7 90.6L274.8 89.4M273.7 90.6L273.9 95.1L271.4 98.8L270.1 102.8L268.5 106.8M287 111.4L282.9 113.3L278.6 114.7M278.6 114.7L274.8 112.7L270.7 111.4M268.5 106.8L270.7 111.4M302.4 73.8L301.9 77.6L302.3 81.3L303 85L303 88.8L303.8 92.5M302.4 73.8L298.6 75L294.8 75.5L290.8 74.9M290.8 74.9L289.9 78.5L289.7 82.2L287.8 85.8L289.8 89.7L289.2 93.3M303.8 92.5L300.2 93.6L296.5 92.6L292.9 93.6L289.2 93.3M287.1 61.4L290.5 58.9L295.1 59.1L299.1 57.9L302.2 54.6M288.4 73.4L290.8 74.9M288.4 73.4L288.3 69.4L286.8 65.4L287.1 61.4M311.6 64.5L308.4 67.5L305.6 70.8L302.4 73.8M274.5 87.4L274.8 89.4M280.3 75.3L279.6 79.9L275.7 83L274.5 87.4M280.3 75.3L284.4 74.6L288.4 73.4M289 93.4L289.2 93.3M169.6 20L172.5 23.3L176.9 24.2L180.1 27M185.3 -1.4L190.6 2.6M190.6 2.6L191 6.7L191.4 10.8L193.3 14.8L191.9 19M180.1 27L184.4 26.9L184.9 21.3L188.4 20.1L191.9 19M184.2 89.2L186 88.4M191.8 77L190.2 80.9L189.3 85.3L186 88.4M169.8 86.1L173.3 87.2L177.1 87.2L180.6 88.5L184.2 89.2M169.8 86.1L169.8 81.8L169.5 77.4L169.3 73M191.8 77L188.9 74.2L185.7 71.6L183.1 68.4L179.8 66M179.8 66L175.9 67.7L173 70.9L169.3 73M164 90.2L160.1 88.8L156.4 86.9L153 84.5L149.2 82.9M149.2 82.9L149.8 78.9L150.7 74.9L150.5 70.7L154.6 67.5L153.8 63.2M169.8 86.1L167.6 89.2L164 90.2M169.3 73L167.1 69.7L163.5 68.5L160.5 66.3L157 65L153.8 63.2M278.9 133.7L275.4 133.5L271.8 134L268.3 134.1L264.7 134.2L261.2 135.3M278.9 133.7L280.3 129.8L277.8 126.1L279.2 122.3L280.2 118.5L278.6 114.7M270.7 111.4L266.7 113.1L265.2 117.5L261.3 119.2L258.2 121.9L255.3 124.7M255.3 124.7L257.1 128.4L261.1 130.7L261.2 135.3M235.5 343.7L239 342.7L240.9 338.9L245.8 340.3L248.2 337.3L251 334.9L254.2 333.3M235.5 343.7L233 340.3L229.6 337.9M229.6 337.9L230.3 331.3M230.3 331.3L234 329.8L237.3 327.6L241.1 326.3L245 325.1L248.4 323.1M248.4 323.1L251 326.1L251.7 330.2L254.2 333.3M229.9 357.4L227.8 361.1L226.8 365L225.6 368.9L225.6 373.1M234.4 354.9L238 355.6M234.4 354.9L229.9 357.4M244.7 379.8L246.7 376.2L246.9 372.1L248.1 368.3L247.6 364.2M247.6 364.2L244.4 361.3L241.5 358.2L238 355.6M249 385.2L252.7 386.3L256.2 386.6L259.7 384.5M272.9 393L269.4 391.1L265.5 389.9L264.1 384.8L259.7 384.5M186.2 336.4L184.7 338.2M184.7 338.2L186.8 342L189.2 345.4L192.7 347.7L196.3 350.1M186.2 336.4L190.5 334.9L194.4 332.5L198.8 331.3M198.8 331.3L199.2 335.2L196.3 338.6L196.3 342.5L196.4 346.3L196.3 350.1M312.3 393L313.8 388.7L316.6 385.2L319.4 381.7M319.4 381.7L325 380.7M325 380.7L326.6 384.6L327.4 388.8L328.2 393M545.4 59.5L543.9 60.5M526.2 15.2L525.2 19.7L520.5 19.7L517.8 22.1M517.8 22.1L517.5 26.2L520.6 29.2L521.2 33L522.1 36.7L524.4 40L524.2 44L526.5 47.2L527.3 51L528 54.7M528 54.7L531.9 56.4L536 57.6L539.9 59.2L543.9 60.5M484.5 10.9L484.6 11M463.5 41.5L467.8 40.5L472.1 41.3M445.9 19.2L447.5 22.4L451.1 24.1L451.8 28.1L455 30.1L457.8 32.4L459.1 35.9L462.1 38.1L463.5 41.5M472.1 41.3L473 37.8L474.8 34.5L477 31.5L478.4 28.2L479.5 24.7L480.2 21L480.4 17.2L483 14.3L484.6 11M517.8 22.1L515.2 22.6M484.6 11L488.1 12L491.4 13.5L495 14.4L498.4 15.7L501.3 18.2L505.5 17.5L508.4 20L511.4 22.5L515.2 22.6M421 37L422 42.6M463.5 41.5L461.1 44.5L458.3 47.1L454.9 49L452.1 51.5L448.9 53.5L446.2 56.2M446.2 56.2L443.4 53.1L439.2 52.4L436.1 49.9L432.1 48.9L428.7 46.9L425.6 44.3L422 42.6M384.3 44.6L387.3 46.8L388.7 50.8L392.5 52.3L394.9 55.2L398.2 57.2L400.4 60.3L403.4 62.5L405.4 65.9M422 42.6L420.3 45.8L419.2 49.4L415.8 51.3L412.3 53.2L413.1 58.2L408.2 59.1L407.6 63L405.4 65.9M523.8 375.9L522.3 371.9L518.6 369.3L518.9 364.2L514.1 362.3L512.8 358.2M474.5 365.5L475.3 364.5M512.8 358.2L508.6 358L504.6 356L500.2 358.5L496 359.2L492 356.6M475.3 364.5L478.6 362.8L481.7 360.6L484.9 358.9L488.3 357.4L492 356.6M607 300.7L603.6 302.4L599.8 300L596.2 300.5L593 303.4L589.3 302.5L585.8 303.3L582.1 302.1L578.7 303.5M607 266.1L604.3 268.7L599.8 268.6L597.5 271.9L594.8 274.5L591.3 275.9L588.3 278.2L583.7 277.8L581.7 281.5L578.6 283.5M578.7 303.5L578.2 299.5L578.7 295.5L580.1 291.5L577.7 287.5L578.6 283.5M427 393L424.2 390.2L425.9 385.9L423.4 383M384.9 387.7L388.6 385.4L391.2 381.9L394.8 379.4L398.1 376.7M383.9 393L384.9 387.7M423.4 383L420.1 381L415.6 383.8L412.9 379L408.9 379.5L405.5 377.8L401.7 377.6L398.1 376.7M607 239.6L604.9 235L599.6 236.4L596.8 233L592.7 232.1M578.6 283.5L574.2 282.1L573.8 277.4L572 273.9L567.8 272.3L565 269.6L564.3 265.2L562.6 261.6L559.4 259.2M559.4 259.2L560.6 255.7L559.5 252.2M592.7 232.1L590 234.5L586.5 235.5L584.4 238.8L579.7 237.9L577.9 241.7L573.9 242L571.7 245.1L568.7 247L564.7 247.2L562.9 251.1L559.5 252.2M592.7 232.1L593 227.8L590.4 224.1L588.9 220.2L588.7 216M607 194.6L603.4 195M603.4 195L602 198.5L598.3 200.3L597.2 204L595.3 207.2L594.2 210.8L589.9 212.3L588.7 216M585.7 77.9L582 79.4L579.4 82.2L576.1 84.1L575.5 89.6L570.8 89.8L567.4 91.5L564.4 93.8L561.4 96.2M543.9 60.5L544.2 64.4L543.1 68.1L543.8 72L542.8 75.8M542.8 75.8L545.5 78.3L548.1 80.7L549.1 84.4L551.9 86.7L553.9 89.7L554.5 93.7L557.8 95.7M561.4 96.2L557.8 95.7M520.3 88.4L523.5 86.5L526.7 84.7L529.2 81.6L532.9 80.7L536.9 80.2L539.9 78.1L542.8 75.8M520.3 88.4L522.5 91.4L525 94.3L527 97.4L529 100.6L531.9 103.2L535.9 104.9L534.6 110.6L538.4 112.5M557.8 95.7L554.3 97.2L552.3 100.6L548.6 101.8L547.6 106.3L543.1 106.7L541.1 109.9L538.4 112.5M520.3 88.4L514.9 87.9M509.5 114.5L511.1 110.9L510.7 106.9L512 103.2L513.2 99.4L514.4 95.7L514.7 91.8L514.9 87.9M509.5 114.5L513.3 115.4L517.3 114.8L521 117.6L525 116.5L528.9 116.5L532.8 116.9L536.7 117.6M536.7 117.6L538.4 112.5M607 157.3L601 156.7M603.4 195L600.1 192.6L598.2 189.3L595.2 186.7L594.3 182.6L591.8 179.6M601 156.7L599.8 160L598.2 163.2L598.2 167L596.2 170L595 173.3L592.2 176L591.8 179.6M588.7 216L584.6 215.5L581.1 213.7L578.9 209.4L575.1 208.4L570.7 208.3L568.6 203.9L564.5 203.3M564.5 203.3L567.1 200.4L567.9 196.9L566 192.5L569.3 189.8L569.5 186.1L571.2 183L572.6 179.7M591.8 179.6L588 181.2L584.1 177.9L580.3 180.4L576.5 179.4L572.6 179.7M164.3 336.8L167.5 339.4L171.2 341L175.1 342.3M178.7 339.2L175.1 342.3M178.7 339.2L178.6 334.6L177.4 330.2L177.3 325.6M164.3 336.8L164.9 332.7L164.8 328.4L165.4 324.3M177.3 325.6L173.1 327.4L169.5 323.7L165.4 324.3M165.4 324.3L161.9 318.9M161.9 318.9L158.1 319.7L154.3 319.3M154.3 319.3L152.6 322.9L150.3 326.1L149 330L145.6 332.5M145.6 332.5L145.9 334.4M164.3 336.8L160.9 339.9L156.5 340.9M145.9 334.4L150.4 335L152.7 339.1L156.5 340.9M172.1 389.7L170.4 384.7L166.6 381.1M152.6 380.1L156.7 379.7L160.9 379.1M166.6 381.1L160.9 379.1M91.6 344L94.9 344.8M91.6 344L88.8 347.7L83.9 348.4L81.2 352.2M94.9 344.8L96.9 348.4L99.8 351.5L100.1 355.9M81.2 352.2L80.8 355.1M80.8 355.1L85 355.7L87 359.5L90.2 361.6M90.2 361.6L95.1 361.7L99.2 359.1M100.1 355.9L99.2 359.1M75.2 335.2L79.2 332.5L83.6 330.5M83.6 330.5L86.2 333.5L87.9 337.1L90.3 340.2L91.6 344M73.8 342L76.7 345.1L78.5 348.9L81.2 352.2M73.8 342L75.2 335.2M73.8 342L70.7 344.5L66.6 344.8L64.1 348.4L59.8 348.7L56.8 351.2M56.8 351.2L59.9 353.4L63.5 354.7L66.7 356.7L70 358.6L73 360.9M73 360.9L77.9 359.3L80.8 355.1M77.5 374.8L72.8 370.7M72.8 370.7L72.1 365.7L73 360.9M86.7 374.6L89 370.5L90 366.2L90.2 361.6M105.6 368.4L103.2 365.5L102.7 361.3L99.2 359.1M119.1 359.4L116 355.7L117.5 351.1M117.5 351.1L114.5 349.1M114.5 349.1L110.8 350.6L107.3 352.4L103.7 354.2L100.1 355.9M126 204.9L126.5 202M126 204.9L121.4 205.2L117.2 207.1M108.3 195.1L112 191.9L116.1 189.3M116.1 189.3L120.7 188.7M117.2 207.1L114.4 204.9L112.6 201.5L109.1 200.1L106.5 197.7M106.5 197.7L108.3 195.1M120.7 188.7L123.1 191.6L123.1 195.6L125.2 198.6L126.5 202M157.9 197.4L156.8 201.3L154.1 204.5L153.7 208.7L151.3 212M157.9 197.4L153.2 197.2L149 195.3L144.7 193.9M144.7 193.9L144 197.9L142.8 201.8L141.8 205.7M141.8 205.7L144.9 210.7M144.9 210.7L151.3 212M169.4 212.6L169.1 213.9M156 217.4L160 215.1L165.2 216.7L169.1 213.9M156 217.4L154.2 214.3L151.3 212M158.8 197.1L157.9 197.4M158.8 197.1L160.8 200.3L162.8 203.5L167.2 205L166.5 210.1L169.4 212.6M139.6 190.1L137.7 193.2L134 194.5L132.6 198.1L128.5 198.9L126.5 202M142 190.3L144.7 193.9M142 190.3L139.6 190.1M127.1 205.8L126 204.9M127.1 205.8L130.8 205.3L134.5 205.5L138.2 207.2L141.8 205.7M138.8 218.1L142.6 215L144.9 210.7M129 212.1L133 212.9L135.9 215.5L138.8 218.1M129 212.1L127.1 205.8M114.5 349.1L113.1 344.6L111.4 340.2M94.9 344.8L98.2 341.9L102.2 340L105.1 336.7M105.1 336.7L108.6 337.9L111.4 340.2M45.8 135.8L49.7 140.5M43.7 155.4L48.1 151.7M49.7 140.5L51 144.5L49.6 148.1L48.1 151.7M64.9 134.9L64.8 135.4M49.7 140.5L53.4 139.1L57.4 138.5L61.2 137.4L64.8 135.4M43.9 210L46.2 209.3M43.9 210L45.5 213.8L48.9 216.1L51.8 218.8L53.6 222.4L56.7 224.9M56.7 224.9L63.2 222.2M63.2 222.2L63.8 218.5L64.7 214.8M46.2 209.3L50 210L53.7 211.1L57 213.5L60.6 215.2L64.7 214.8M238 5.2L235.9 8.6L237.9 13L234.5 16.2L235.8 20.4L234.2 24L232.4 27.5L232.2 31.4M254 8.7L256 12.8L256.5 17L256.7 21.4L256.6 25.7M256.6 25.7L252.7 24.9L249.3 26.3L246.3 29L242.6 28.8L239.1 29.6L235.6 30.3L232.2 31.4M74.1 -2L79.8 -0.5M80 -2L79.8 -0.5M153.8 63.2L153.3 62M153.3 62L150.1 63.9L145.9 63.2L143.2 66.2L139.4 66.4L136.9 70L132.7 69.4L129.4 70.9L126 72.3M149.2 82.9L144.5 85M144.5 85L142.2 81.8L136.9 82.9L135.6 78.2L132.7 75.9L129 74.7L126 72.3M252.2 90.7L255.7 92L259.3 92.7L262.9 91.5L266.5 91.4L270.1 91.9L273.7 90.6M252.2 90.7L253.4 87.1L255.1 83.5L254.7 79.6M274.5 87.4L272 84.1L268.1 82.1L265.7 78.8M265.7 78.8L262.1 80.1L258.3 78.1L254.7 79.6M145.7 52.6L149 56.6L153.1 59.7M145.7 52.6L145.4 48.7L146.4 44.8L148.1 41L147 37M153.1 59.7L153.3 55.8L155.7 53.1L158.8 50.7L160.6 47.7L160.5 43.6L163.2 41.1M147 37L150.9 34.9L155.3 34.9L159.4 33.7M159.4 33.7L160.1 38L163.2 41.1M138.7 31.4L138.2 27.7L137.7 23.9M141.6 16.8L141.7 21.5L137.7 23.9M138.7 31.4L142.3 35.1L147 37M161.7 26.7L160.6 30.2L159.4 33.7M142.1 16.7L141.6 16.8M231.5 32.6L231.7 31.9M231.7 31.9L227.9 29.5L224.1 27.2L221.4 23.5M213.4 38.2L209.4 35.6M209.4 35.6L210.2 31.9L208.7 28.3M213.4 38.2L217.1 37.4L220.8 36.4L224.4 35.2L228 34.2L231.5 32.6M208.7 28.3L213.2 27.5L217.7 26.7L221.4 23.5M199.4 57.1L201.5 60.3L201.6 64.1L203 67.5L203.6 71.2M202.3 73L203.6 71.2M191.8 77L195.9 77.2L198.7 74.1L202.3 73M199.4 57.1L195 58.9L190.4 57.5L185.9 57.7M179.8 66L180 63.9M185.9 57.7L183.5 61.3L180 63.9M153.3 62L153.3 60.4M153.3 60.4L156.9 58.7L160.6 58L164.1 56.2L167.6 54.6L171.8 55.5M180 63.9L178.7 59.8L174.5 58.4L171.8 55.5M163.2 41.1L167.1 41.3L170.3 43.9L174.2 44.4M153.3 60.4L153.1 59.7M171.8 55.5L173.9 52.1L171.7 47.7L174.2 44.4M198.2 46.4L198.5 42.8L199.7 39.3M198.2 46.4L194.4 45.7L190.4 46.4L186.7 44.6L182.8 44.6M199.7 39.3L195.4 34.4M195.4 34.4L191 35.4L186.6 34.5L182.3 33.6M182.3 33.6L181.3 37.8L180 41.9M180 41.9L182.8 44.6M209.4 35.6L204.4 37.1L199.7 39.3M200.9 53.2L205.1 52.1L209.1 50.3L213.5 49.9M200.9 53.2L199.2 49.9L198.2 46.4M213.5 49.9L211.4 46L215.6 42.1L213.4 38.2M199.4 57.1L200.9 53.2M185.9 57.7L184.5 53.4L183.6 49L182.8 44.6M199.3 23L197.7 26.7L196.2 30.4L195.4 34.4M199.3 23L203.8 22.3M203.8 22.3L206 25.5L208.7 28.3M180.1 27L182.3 33.6M191.9 19L195.9 20.4L199.3 23M174.2 44.4L180 41.9M231.5 32.6L232.5 35.9M213.5 49.9L219.1 53.5M232.5 35.9L231.6 39.8L228.2 41.9L226.4 45.2L224 48L221.3 50.5L219.1 53.5M206.3 70.7L203.6 71.2M206.3 70.7L209.4 68.3L213.1 66.6L215.2 63L217.2 59.2L221.3 58.1M219.1 53.5L221.3 58.1M287.1 61.4L282.6 59.1M280.3 75.3L278 72.2L275.5 69.2L272.1 67.2M272.1 67.2L274.6 63.2L279.5 62.3L282.6 59.1M265.7 78.8L267.3 74.9L268.1 70.7L270.1 67M272.1 67.2L270.1 67M271.3 31.9L267.4 32.4L263.6 33.4M271.3 31.9L273.2 35L275.3 38L277.1 41.2L280.2 43.4L282.4 46.3M269.9 53L275 52.6L280 52.3M269.9 53L267.6 48.2L262.3 47.2M261.7 45.9L262.3 47.2M261.7 45.9L261 41L262.4 36.4M263.6 33.4L262.4 36.4M282.4 46.3L280 52.3M281.4 23.3L278.2 26.3L274.9 29.3L271.3 31.9M256.6 25.7L259.5 30.1L263.6 33.4M299.5 42.8L295 42.6L291.2 45.9L286.4 44.3L282.4 46.3M270.1 67L269.3 66.3M269.3 66.3L268.3 61.8L272.3 57.5L269.9 53M282.6 59.1L280.7 55.9L280 52.3M167.6 145.7L166.2 149.7L167.4 153.7L166.1 157.7L166.6 161.7M167.6 145.7L164.5 147.8L160.7 148.5L157.4 150L154 151.4L150.3 152.1L147.3 154.3M166.6 161.7L162.8 162.3L159 162.4L155.3 163.5L151.5 162.5L147.7 162.5M147.3 154.3L148 158.4L147.7 162.5M169.8 167.3L166.6 161.7M154.9 177.3L158.4 176.1L161.2 173.9L163.4 170.7L167.1 169.7L169.8 167.3M154.9 177.3L149.7 176M149.7 176L148.6 171.4L145.2 168.2M147.7 162.5L145.2 168.2M149.7 176L148 179.6L146.9 183.7L141.8 185.5L142 190.3M145.2 168.2L139.6 168.5M139.6 168.5L135.3 170.9L131.7 174.2M139.6 190.1L136.8 187.4L134.7 183.7L130.1 183.7M131.7 174.2L131.7 179.1L130.1 183.7M120.7 188.7L123.2 185.9M130.1 183.7L126.6 184.5L123.2 185.9M164 90.2L165.2 94.5L162.2 98.1L161.7 102L161.4 106M184.2 89.2L184.2 93.3L183.5 97.3L182.1 101.1L181.1 105.1M181.1 105.1L177.7 106.6L173.6 106.3L170.7 109.1M170.7 109.1L166 107.8L161.4 106M140.5 145.7L142.9 148.5L145.1 151.3L147.3 154.3M140.6 143.2L140.5 145.7M149.4 133.3L147.6 137.7L143.9 140.3L140.6 143.2M149.4 133.3L153.5 132L157.7 133.5L161.9 133.4M167.6 145.7L170.5 140.7M161.9 133.4L166.8 133.7L169.6 137.8M170.5 140.7L169.6 137.8M169.8 167.3L169.9 167.3M169.9 167.3L171.7 171.3L171.2 175.7L174.3 179.4L172.9 183.9M154.9 177.3L158.7 179.4L159.3 184.1L163.7 185.7L165.3 189.7M172.9 183.9L169.1 186.8L165.3 189.7M158.8 197.1L162.2 193.7L165.2 189.8M165.3 189.7L165.2 189.8M169.4 212.6L171.7 208.6L174.4 204.9L178.7 202.8M165.2 189.8L166.9 193.5L171 194.6L173 198L176.6 199.6L178.7 202.8M170.5 140.7L173.7 142.8L177.9 143L181.3 144.7L184.1 147.6M169.9 167.3L174.7 165.7L179.8 166.1M179.8 166.1L180 162.3L180.9 158.6L182 155L183.6 151.4L184.1 147.6M247.6 364.2L251.2 361.8L255.6 361.1L258.7 357.8L262.8 356.5M238 355.6L241.5 354.3L245 352.9L248.4 351.4L249.6 346.3L254.7 347.6L257 344.3M262.8 356.5L259.3 353.2L260.2 347.7L257 344.3M259.7 384.5L260.9 381L262.5 377.6L262.5 373.7L265.5 370.9L266.5 367.4L266.6 363.5L268.3 360.2M262.8 356.5L268.3 360.2M254.2 333.3L256.4 335.2M234.4 354.9L234.2 351.1L236 347.5L235.5 343.7M256.4 335.2L255.7 339.8L257 344.3M229.9 357.4L226.8 354.4L222.6 352.9L219.3 350.2M229.6 337.9L225.7 339.6L221.9 341.4M221.9 341.4L219.7 345.5L219.3 350.2M200.2 363.9L202.7 366.7L205.5 369.1L209.1 370.5L212.6 372L215 375L218.2 376.9M200.2 363.9L201.2 360.5L201.3 356.9M201.3 356.9L204.3 354L207.9 351.9M219.3 350.2L215.4 350.3L211.8 352.1L207.9 351.9M349.8 393L349.5 389.5L348.1 386.2L350.2 382.2L347.5 379.1M325 380.7L329.9 376.5M329.9 376.5L334.1 375.9M334.1 375.9L338.3 378.1L343 378.3L347.5 379.1M384.9 387.7L381.2 386.5L378.3 384.1L376.7 380.3L373.3 378.6L370.7 375.9L366.6 375.1L363.8 372.7L361.9 369.2M347.5 379.1L351.1 376.7L354.6 374L357.5 370.6L361.9 369.2M472.1 41.3L475.8 43.6L478.5 47.1M515.2 22.6L512.3 25.2L511 29L507.9 31.4L504.8 33.8L503.5 37.6L501.4 40.8L499.7 44.3L496 46.2L494.6 50M494.6 50L490.3 50.7L486.4 49.6L482.5 47.8L478.5 47.1M528 54.7L525 57.7L520.3 57.1L517.3 60.2L513.2 60.8L509.8 63.2L506.1 64.5M494.6 50L497.1 52.8L499.2 55.8L503 57.5L504.6 61L506.1 64.5M514.9 87.9L511 85.6L508.9 80.7L503.9 79.8M506.1 64.5L504.7 68.3L504.3 72.1L505.5 76.2L503.9 79.8M473.3 120.7L475.1 117.1L476.4 113.3L476.8 109.4L479.5 106L476.6 101.3L477.8 97.5L479.5 93.9L480.7 90.1M473.3 120.7L477.4 121.1L480.8 123.4L484.3 125.1L488.2 126L491.9 127.4L495.5 129L499.4 129.9M505.2 117.4L503.3 114.2L499.8 112.4L497.3 109.7L496.3 105.7L492.7 104L489.9 101.6L488.3 98.1L485.4 95.8L483.3 92.8L480.8 90.1M505.2 117.4L503.3 121.6L500.8 125.4L499.5 129.8M480.8 90.1L480.7 90.1M499.4 129.9L499.5 129.8M503.9 79.8L500.2 80.5L497.6 83.6L494.5 85.4L490 84.3L487.7 87.8L484.7 90.1L480.8 90.1M509.5 114.5L505.2 117.4M478.5 47.1L479.8 50.8L477.5 54L477.5 57.6L478.2 61.2L476.8 64.6L476.4 68L473.8 71.2L474 74.8L473.7 78.3L474.4 81.9L472.7 85.2M472.7 85.2L476.8 87.5L480.7 90.1M446.2 56.2L445.5 60.7L446 65.2L446.1 69.7M405.4 67.5L407.4 71.3L410.9 73.8L413.3 77.4L416.6 80.1M405.4 65.9L405.4 67.5M446.1 69.7L442.2 70.6L438.9 72.9L434.6 72.4L431.2 74.6L427.4 75.4L424.3 78.5L420.6 79.8L416.6 80.1M472.7 85.2L469 85.2L465.3 85.7L461.7 84L458 84.5M446.1 69.7L448.2 72.9L449.9 76.4L452.8 78.9L456.5 80.8L458 84.5M452.2 326.6L450.8 323.2L447.4 321.3L445.1 318.5L443.6 315.2L441.4 312.4L440 308.9L437.1 306.6M452.2 326.6L456.5 328.3L459.5 325L463.3 325L466.5 322.5L470.1 321.7M437.1 306.6L440.2 304.4L442.6 301.3L445.7 298.9L449.8 297.8L452.2 294.6L455.1 292.2L457.8 289.3M470.1 321.7L468 318.4L468.9 313.9L465.8 311L464 307.6L463.2 303.7L462.5 299.9L461.2 296.3L460.5 292.4L457.8 289.3M418 347.4L421.1 349.5L422.8 352.6L423.4 356.6L425.1 359.8L429.5 360.7L431.3 363.8L433.4 366.6M418 347.4L419.7 343.6L422.9 341.5L425.6 338.8L428.8 336.8L431.6 334.2M445.7 334.6L442.2 335.7L438.7 333.5L435.2 334.4L431.6 334.2M445.7 334.6L446.7 338.4L446.3 342.4L448.2 346L449.9 349.7L449.4 353.7L448 357.9L450.9 361.3M450.9 361.3L447.4 362.3L443.8 363L440.5 364.7L437 365.8L433.4 366.6M405.9 336.7L407 333.2L404.4 329.1L406.3 325.7L407.5 322.2L408.4 318.7L409.2 315.1M418.5 311.3L413.3 311.9L409.2 315.1M405.9 336.7L406.5 341.5L410.5 343.8L413.5 346.7M418.5 311.3L420 314.8L421.6 318.2L422.8 321.9L426.9 323.9L428.3 327.4L429.6 331L431.6 334.2M413.5 346.7L418 347.4M452.2 326.6L448.7 330.4L445.7 334.6M437.1 306.6L433.4 308.3L430.1 305.7L426.4 307.4L423.1 305.6M418.5 311.3L421.3 308.9L423.1 305.6M468.6 368.3L465.4 366.1L460.7 367.6L458.2 363.6L454.5 362.5L450.9 361.3M470.1 321.7L472 322.4M475.3 364.5L474.4 361L475.7 357.4L476.5 353.8L474.7 350.4L472.8 347L472.2 343.5L472.2 340L472.1 336.5L474 332.8L472.9 329.4L472.3 325.9L472 322.4M423.4 383L426.2 380.2L427.4 376.4L429.4 373.2L430.7 369.5L433.4 366.6M356 52.6L357.6 56.5L357.9 60.6L360 64.4L358.2 69L360.7 72.7M405.4 67.5L402.2 69L399.4 71.3L395.6 71.6L393.4 75L389.3 74.9L386.6 77.4L382.7 77.5L380.7 81.3L377.3 82.4M360.7 72.7L364.3 74.3L367.8 75.8L371.3 77.4L373.9 80.7L377.3 82.4M340.9 93.3L342.6 90L346.1 88.4L347.9 85.1L351.6 83.7L351.5 78.6L356.1 78.1L358.3 75.3L360.7 72.7M318.3 65.2L319.6 68.7L321.5 72.1L320.7 76.4L324 79.2L324.5 83.1L326.5 86.4L327.9 89.9L328.9 93.5M340.9 93.3L337.2 93.4L333.3 93L329.6 93.8M329.6 93.8L328.9 93.5M311.3 178.2L311.1 173.6L312.5 169.4L313.9 165.1M311.3 178.2L315 176.8L318.7 178.6L322.3 177.4L326 177.6L329.6 179L333.3 178.4L337 178.4M313.9 165.1L317.7 165L321.4 164L325.3 164.1L329 163.3L332.8 162.7M332.8 162.7L335 166.3L334.7 170.6L336.3 174.4L337 178.4M607 112.8L602.4 116.3M561.4 96.2L563.6 99.3L565.1 102.8L567.8 105.6L570.2 108.6L570.2 113L571.6 116.5L575.2 118.8M602.4 116.3L598.5 117L594.5 115.9L590.7 117L586.9 118.4L583 119L579.1 118.8L575.2 118.8M601 156.7L598 154.1L595.5 150.8M602.4 116.3L602.1 119.8L601.2 123.2L601.5 126.9L598.8 129.9L600.1 133.8L599.4 137.2L596.7 140.3L596.2 143.8L594.8 147.1L595.5 150.8M567.6 172.2L570 176L572.6 179.7M567.6 172.2L568.7 168.7L572 166.3L572.6 162.5L574.2 159.3L575.3 155.7L578.1 153.1L579.4 149.7M595.5 150.8L591.3 152.9L587.5 149.7L583.3 152L579.4 149.7M178.7 339.2L184.7 338.2M186.2 336.4L186.8 332.6L184.1 329.1L185.4 325.2M177.3 325.6L182.5 322M185.4 325.2L182.5 322M198.8 331.3L200 329.6M185.4 325.2L188.9 327L192 329.8L196.4 328.3L200 329.6M138.9 226.7L142.5 230M138.9 226.7L134.9 228.1L130.9 225.1L126.9 227.6L122.9 227.2M142.5 230L142.3 236.8M142.3 236.8L140.3 240.2L136.8 241.9M136.8 241.9L132.9 239.6L127.6 242.5L123.7 240.1L119.9 237.6M119.9 237.6L119.5 232.5L121.7 227.9M122.9 227.2L121.7 227.9M156 217.4L155.5 221.7L153.7 225.5M138.8 218.1L140.9 222.4L138.9 226.7M153.7 225.5L149.7 226.3L145.9 227.6L142.5 230M129 212.1L127.6 215.9L126.4 219.8L125.9 224L122.9 227.2M117.2 207.1L115 211L114.2 215.6L111.7 219.4M111.7 219.4L114.7 222.7L117.7 225.8L121.7 227.9M137.1 357L142.4 353.9M137.1 357L134.6 354.4L130.6 353.3L129 349.9L127.3 346.7M142.4 353.9L143 349.2L141.2 344.8L140.2 340.3M140.2 340.3L135 339.3L130 341M127.3 346.7L130 341M147.3 373L146.8 368.6L150.3 366L151.9 362.6L152.1 358.5L155.2 355.8M133.3 364.7L134.6 360.5L137.1 357M155.2 355.8L151.1 354.2L146.7 354L142.4 353.9M117.5 351.1L120.5 349.1L124.1 348.4L127.3 346.7M145.6 332.5L142.2 328.6L137.3 326.5M124.7 331.4L127.4 334L128 337.9L130 341M124.7 331.4L129 328.3M145.9 334.4L142.3 336.6L140.2 340.3M129 328.3L133 326.7L137.3 326.5M123.3 331L119.5 332.3L117.4 335.7L113.7 337L111.4 340.2M124.7 331.4L123.3 331M188.2 390.7L189.7 387.3L189.6 383.7L189.6 380.1L189.8 376.6L191.1 373.2L191.5 369.7M166.6 381.1L169.5 377.6L173.1 374.7L174.6 370.3M174.6 370.3L178.9 370L183.1 370.3L187.4 371.5L191.5 369.7M200.2 363.9L196 366.2L192.1 369M191.5 369.7L192.1 369M161.8 362.3L166.2 363.5L170.7 363.9M161.8 362.3L159.7 357.9L155.4 355.7M155.5 355.4L155.4 355.7M155.5 355.4L159.5 354.3L163.6 353.4L167.7 352.6L171.4 350.6L175.4 349.6M170.7 363.9L171.5 360L173.1 356.5L176.2 353.9M176.2 353.9L175.6 349.9M175.6 349.9L175.4 349.6M160.9 379.1L160.9 374.9L162.5 370.8L162.6 366.6L161.8 362.3M174.6 370.3L174 366.2L170.7 363.9M155.2 355.8L155.4 355.7M156.5 340.9L155.4 344.5L156.7 348.2L157.2 351.9L155.5 355.4M175.1 342.3L175.8 345.9L175.4 349.6M192.1 369L189.2 366.7L186.3 364.5L184.8 360.8L181 359.5L179.3 356L176.2 353.9M201.3 356.9L199.5 353.5L196.5 351M196.5 351L192.3 352.5L188.1 351L184 349.1L179.8 349.3L175.6 349.9M196.3 350.1L196.5 351M8.9 330.3L12.4 329.3L15.5 327.1L19.3 327.1M19.3 327.1L23.2 328.2L26.5 330.6L30.2 332.3M6.4 344.3L9.9 345.7L13.4 345.1L17 344.7L20.5 345M30.2 332.3L27.6 335.3L24.7 338.2L24.3 342.9L20.5 345M12.7 361L15.7 358.7L19.4 358.3L23.1 358L26 355.6M20.5 345L21.4 349L24.9 351.7L26 355.6M52.2 355L48.6 355.5L45.1 356.8L41.5 356.9L37.9 357M52.2 355L52.9 358.5L54.3 361.8L55.3 365.2L56.8 368.4L58.1 371.8L57.4 375.6M34 370L36.6 373.4L38.6 377L41.1 380.4M34 370L35.2 366.3L34.4 362.3L35.9 358.7M35.9 358.7L37.9 357M41.1 380.4L45.3 380.4L49.1 383L53.4 382.5M53.4 382.5L55.7 379.2L57.4 375.6M56.4 351.1L52.2 355M56.8 351.2L56.4 351.1M72.8 370.7L68.6 371.1L65.2 373.7L61.4 375L57.4 375.6M11.6 377.8L15 375.4L19.4 376.1L22.4 372.8L26 371L30.1 370.6L34 370M30.9 393L34.4 390.6L36 386.7L38.7 383.7L41.1 380.4M26 355.6L30.9 357.2L35.9 358.7M30.2 332.3L32.8 332.1M32.8 332.1L33.8 333M33.8 333L34.6 337L35.4 341L37.2 344.8L34.9 349.3L37.4 353L37.9 357M55.2 386.4L53.4 382.5M-2 265.7L0.9 262.5M-2 255.3L0 255.3M0.9 262.5L1.7 258.8L0 255.3M-1.2 282.5L4.7 281.1M4.7 281.1L3.4 276.6L5.8 272.3L5.5 267.8M0.9 262.5L4.1 264.4L5.5 267.8M-2 241.4L0.7 244.4L0.8 248.5L2.6 251.9M0 255.3L2.6 251.9M42.3 209.8L43.9 210M41.4 210.7L39.9 214.7L39.1 218.7L38.7 222.8L39.6 227.1M56.7 224.9L54.8 228.1L52.4 231.1M52.4 231.1L47.3 232M39.6 227.1L43 230.2L47.3 232M53.4 335.6L53.3 335.5M53.4 335.6L56.7 333L60.3 331.1L64.2 329.5M53.3 335.5L52.9 331.9L51.9 328.4L52.1 324.7L48.8 321.7L51.1 317.6L49.3 314.2M64.7 325.1L64.2 329.5M64.7 325.1L61.5 323.2L60 319.3L56.9 317.2L52.7 316.6L50.6 313.3M50.6 313.3L49.3 314.2M56.4 351.1L55.6 347.3L55.5 343.2L53.4 339.6L53.4 335.6M33.8 333L37.8 332.8L41.7 333.7L45.4 335.2L49.3 335.9L53.3 335.5M75.2 335.2L71.3 333.7L68.2 330.7L64.2 329.5M38.2 316.3L35.5 319.8L34.6 323.9L34.8 328.4L32.8 332.1M38.2 316.3L39.3 315.3M39.3 315.3L44.2 313.9L49.3 314.2M81.9 321.1L83 325L84.5 328.6M81.9 321.1L78.5 318.7L74.6 317.4L70.7 316M70.7 316L69 319.3L67.4 322.6L64.7 325.1M83.6 330.5L84.5 328.6M50.6 313.3L52.6 310.6M70.7 316L69.2 311.7M69.2 311.7L65.1 310.2L60.9 311.3L56.9 309L52.6 310.6M-2 301.7L0.4 303.3M10.8 284.5L9.6 283.2M4.7 281.1L9.6 283.2M10.8 284.5L12.4 288L12 291.8L12 295.5M12 295.5L9.5 298L5.2 297.8L2.6 300.3L0.4 303.3M-0.9 320.8L0.4 315.8L2.7 311.2M19.3 327.1L17.3 323.5L20.4 319.8L19.3 316.1L19.1 312.5M19.1 312.5L14.9 313.3L10.8 313.3L6.8 311.1L2.7 311.2M38.2 316.3L34.6 315.4L31.3 314L27.9 312.7L24.1 312.3L20.8 310.9M19.1 312.5L20.8 310.9M0.4 303.3L1.8 307.1L2.7 311.2M136.8 241.9L136.2 248.6M143.6 255.8L143.1 255.6M154.2 246L151.1 248L149 251L146.5 253.6L143.6 255.8M154.2 246L151.6 243.2L147.1 243L146.1 238.1L142.3 236.8M136.2 248.6L139.3 252.4L143.1 255.6M118.7 239L119.9 237.6M118.7 239L122.1 241.8L124.4 245.4L126.1 249.6L129.8 252.1M136.2 248.6L132.7 249.9L129.8 252.1M64.7 157.9L61.3 155.6L60.8 151.6M64.7 157.9L68.3 155.2L72.8 154.7L76.7 152.8M60.8 151.6L64.3 148.9L65.2 144.9L66.4 141M66.4 141L69.8 142.5L72.7 144.9L76.2 146.2L79.4 147.9M79.4 147.9L76.7 152.8M48.1 151.7L52.4 151.4L56.6 152L60.8 151.6M64.8 135.4L66.4 141M85.2 146.4L89.9 150.6M89.2 162.4L87.3 158.4L90.7 154.6L89.9 150.6M78.4 166.1L82.2 165.4L85.4 163.2L89.2 162.4M78.4 166.1L77 161.8L76.1 157.4L76.7 152.8M85.2 146.4L79.4 147.9M71.3 182.8L65.2 183.6M71.3 182.8L73.3 179.3L75 175.7L76.7 172M61.5 180.4L65.2 183.6M61.5 180.4L61.6 176.2L63.1 172L61.4 167.7M61.4 167.7L64.8 165.4M64.8 165.4L69.1 164.6L72.4 167.2L75.9 169.1M75.9 169.1L76.7 172M89.2 183.7L84.9 185.6L79.9 185.1L75.6 187.2M75.6 187.2L71.3 182.8M90.1 182.2L89.2 183.7M89.4 180.1L90.1 182.2M89.4 180.1L86.1 178.3L82.6 176.8L80 173.9L76.7 172M48 182.9L52.6 182.5L57.3 182.8L61.5 180.4M55.2 167.3L61.4 167.7M64.7 157.9L64.5 161.7L64.8 165.4M78.4 166.1L75.9 169.1M94.5 167.4L91.6 165.2L89.2 162.4M94.5 167.4L93.3 171.8L91.9 176.2L89.4 180.1M49.7 190.4L52.7 192.8L56.2 194.3M46.2 209.3L50.4 207.4L53.6 204.1M53.6 204.1L54.7 199.1L56.2 194.3M65.2 183.6L63.8 188.7L62.2 193.6M56.2 194.3L62.2 193.6M111.7 219.4L107.4 218.4L103.3 220.1L99.1 220.6M104.5 198.1L98.9 202.1M106.5 197.7L104.5 198.1M99.1 220.6L98.6 219.6M98.9 202.1L98.4 205.6L99.9 209.1L99.3 212.6L100.8 216.1L98.6 219.6M51.5 12.2L55.8 11.4L59.6 13.7L63.6 15.1L67.9 14.1L72 14.9M79.8 -0.5L80.3 1.3M80.3 1.3L79.2 5.3L76.1 8.1L73.1 10.9L72 14.9M56.9 40.3L60 38.2L63.7 37.2L66.4 34.4L68.9 31.4L72.3 29.7L75.9 28.5M72 14.9L73.2 18.3L71.8 22.4L74.4 25.3L75.9 28.5M80.3 1.3L84.3 2.6L88.1 4.3M77.4 29.2L80.9 27.4L84.2 25.3L87.2 22.7L90.7 21L94.1 19M75.9 28.5L77.4 29.2M94.1 19L92.3 15.4L91.7 11.4L91 7.4L88.1 4.3M96.3 99.8L97.2 95.9L95.1 92.3L95.5 88.4L94.5 84.7M96.3 99.8L100 99.9L103.6 100.3L106.9 102.1L110.4 103.4L114 103.6M114 103.6L115.2 102.3M115.2 102.3L115.2 98.2L116.1 94.1L116.1 89.9L115.3 85.8M94.5 84.7L98.6 85.7L102.8 85L107.1 84L111.1 87.4L115.3 85.8M77.4 29.2L80.4 32L82.8 35.3M58.1 45.6L60.8 48.2L64.1 49.9L67.7 51.1L69.7 54.8L73.4 55.8L76.9 57.1M76.9 57.1L79.6 54.6L82.1 51.8L85.1 49.6M82.8 35.3L84.3 38.8L85.2 42.3L84 46.1L85.1 49.6M144.5 85L143.4 88.9L141.8 92.6L139.9 96.2M119.6 83.1L121.9 79.7L123 75.7L125.1 72.2M126 72.3L125.1 72.2M119.6 83.1L121.6 86L125 87.7L127.3 90.3L128.8 93.8L132.4 95.2L134.3 98.2M134.3 98.2L139.9 96.2M115.2 102.3L119 103.4L122.8 103.8L126.6 103.7L130.5 104.2M115.3 85.8L119.6 83.1M134.3 98.2L133.8 102.1L130.5 104.2M259.6 65.9L263.7 65.2M259.6 65.9L254.1 61.9M263.7 65.2L261.6 60.8L261 56.2L261.2 51.5M254.1 61.9L255.4 57.7L259.6 55.4L261.2 51.5M254.1 78.4L254.7 79.6M269.3 66.3L263.7 65.2M254.1 78.4L255.2 73.9L256.6 69.6L259.6 65.9M245.9 73L250.3 75.3L254.1 78.4M248.1 61L254.1 61.9M245.9 73L246.6 69L245.8 64.7L248.1 61M262.3 47.2L261.2 51.5M205.8 19L210.2 19.1L214.6 18.7L218.8 17.5M205.8 19L205.1 15.2L206.4 11.4L204 7.7L205.4 3.9M205.4 3.9L206 3.6M206 3.6L209.8 4.7L213.2 6.6L216.7 8.3L220.3 9.8M220.3 9.8L218.5 13.4L218.8 17.5M203.8 22.3L205.8 19M221.4 23.5L218.8 17.5M190.6 2.6L194.4 2.6L198.1 2.3L201.7 3.8L205.4 3.9M208.8 -2L206 3.6M234.6 1.8L231 3.7L227.3 5.4L224.1 8.1L220.3 9.8M232.2 31.4L231.7 31.9M210.6 102.2L207.2 100.8L203.5 100.2L200.2 98.5M210.6 102.2L211.6 98.5L210.9 94.7L211.5 91L212.6 87.3M207.9 85.7L212.6 87.3M207.9 85.7L204.9 88.1L204.6 92.2L202 94.9L200 98M200 98L200.2 98.5M216.2 87.7L215.9 91.7L216.9 95.7L215.9 99.8L217 103.7M214.1 104.3L217 103.7M216.2 87.7L212.6 87.3M214.1 104.3L210.6 102.2M186 88.4L189.8 90.3L192.4 94L197.4 94.3L200 98M202.3 73L205.4 76.7L206 81.5L207.9 85.7M247.7 52.6L246 56L247 59.7M247.7 52.6L246.2 48.5L241.6 47.1L239.5 43.5M247 59.7L243.1 60L239.2 60.7L235.4 62.5L231.3 60.6M231.3 60.6L233.2 57.3L233.4 53.3L236.2 50.3L236.4 46.3L237.4 42.7M239.5 43.5L237.4 42.7M248.1 61L247 59.7M261.7 45.9L258.4 48L255 49.8L251.3 51.1L247.7 52.6M262.4 36.4L258.5 37.1L254.9 39.2L250.2 37.3L247.1 40.9L243.7 43.4L239.5 43.5M229.5 62.1L225.4 60L221.3 58.1M232.5 35.9L234 40L237.4 42.7M229.5 62.1L231.3 60.6M103.9 169L108.1 170.4L112.5 170.7L116.8 172M103.9 169L104.3 172.8L104.2 176.5L103.3 180.2M110.7 180.6L104.5 180.8M110.7 180.6L112.8 175.7L116.8 172.2M116.8 172.2L116.8 172M103.3 180.2L104.5 180.8M94.5 167.4L98.2 166.6L102 166.7M95.4 183.2L90.1 182.2M95.4 183.2L99.4 182L103.3 180.2M102 166.7L103.9 169M108.3 195.1L106.8 191.7L107.9 187.6L105.8 184.3L104.5 180.8M116.1 189.3L113.1 185.2L110.7 180.6M123.2 185.9L121.5 182.5L121.3 178.4L116.8 176.3L116.8 172.2M131.7 174.2L127.8 172.3L124.7 168.3L119.6 169M119.6 169L116.8 172M95.4 183.2L96.9 187.5L100.7 190.2L102.1 194.5L104.5 198.1M99.5 150.3L94.7 150.7L89.9 150.6M102 166.7L106.6 163L106.1 157.1M99.5 150.3L103 151.9L105.8 154.6M105.8 154.6L106.1 157.1M95.3 102.3L96.3 99.8M97.7 111.1L101.4 114L104.8 117.3M114 103.6L113.1 109.9M104.8 117.3L107.3 114.6L109.4 111.3L113.1 109.9M103.4 136.9L98.8 139.2L95.5 135.4L91.8 133.8L87.8 133.4M103.4 136.9L105.9 135.7M105.9 135.7L107 130.9L108.9 126.4M85.9 128.5L89.9 127.5L93.8 126.3L97.6 124.7L100.6 121.1L105 121.2M85.9 128.5L87.8 133.4M105 121.2L108.9 126.4M85.2 146.4L87.5 142.3L87.8 137.9L87.8 133.4M99.5 150.3L101.6 146L102.1 141.4L103.4 136.9M104.8 117.3L105 121.2M83.3 126L85.9 128.5M297.4 157.1L294.3 154.9L290.9 153.1L288.3 150.1L285.4 147.5L281.8 146.1M297.4 157.1L301.6 154.8L306.2 153.6M306.2 153.6L307.3 150.6M307.3 150.6L305.6 147.4L302.3 145.6L300.8 142.2L297.9 140L296.4 136.7L293.5 134.6M293.5 134.6L289.4 133.5L286.1 135.9L282.5 136.9M282.5 136.9L282.6 141.5L281.8 146.1M273.3 155.8L273.2 160.8M273.2 160.8L276.1 164.3M291.7 165.4L287.7 165.5L283.9 164.2L280 165.1L276.1 164.3M291.7 165.4L295.3 161.8L297.4 157.1M273.3 155.8L276.3 152.8L279.6 149.9L281.8 146.1M332.8 162.7L334 159L335.3 155.3L337.7 152.3M318.3 141L321.9 142.2L324.6 145.1L328.4 146L330.9 149.1L335.5 148.6L337.7 152.3M313.9 165.1L310.8 161.7L308.6 157.5L306.2 153.6M318.3 141L316.7 144.8L313.2 146.2L311 149.3L307.3 150.6M278.9 133.7L282.5 136.9M261.2 135.3L259.7 139.9L258.1 144.4M258.1 144.4L261.3 146.5L263.8 149.6L267.7 150.6L271.2 152.2L273.3 155.8M274.9 251.9L278.7 252.8L282 254.8L285.6 256.1L289.2 257.3M274.9 251.9L272.6 254.9L269.5 257.3L268.5 261.3L266 264.1M289.2 257.3L288 260.8L287.1 264.5L285.4 267.8L282.5 270.6L281.7 274.3L282.9 278.8L279.1 281.3M266 264.1L266.9 268.1L271.6 269.9L272.1 274.1L272.8 278.1L275.6 281M275.6 281L279.1 281.3M227.2 132L230.9 131.6L234.7 131.5L238.4 131.3L242 129.9M227.2 132L228.9 136.2L232.2 139.7L233.1 144.3M242 129.9L241.6 133.9L242.5 138L244.1 142.1L241.7 146M233.1 144.3L237.4 144.9L241.7 146M216.7 153.9L220.3 152.5L223.3 150.2L226.5 148.2L230.7 147.7L233.1 144.3M213 145.6L214.6 149.9L216.7 153.9M213 145.6L216.3 142.8L218.3 139.2L221.9 136.7L223.2 132.4M227.2 132L227 131.9M223.2 132.4L227 131.9M260.4 176.4L264.1 177L267.4 179.4L270.9 180.9L275 180.1M276.1 164.3L276.2 168.3L274.5 172.1L276.6 176.2L275 180.1M273.2 160.8L269.1 162L264.8 163.2L261.3 166.2L256.9 166.9M260.4 176.4L256.8 173.8L256.3 169.4M256.3 169.4L256.9 166.9M258.1 144.4L254.5 146.7L251.2 149.3L247.5 151.3M256.9 166.9L255.2 163.7L253.4 160.5L252 157.1L250.7 153.6L247.5 151.3M255.3 124.7L251.7 123L247.9 122.2M241.7 146L245.3 147.6L246.9 151.2M247.9 122.2L244.4 125.6L242 129.9M246.9 151.2L247.5 151.3M192.6 127L189 127.3L185.5 128.2L181.8 127.5L178.5 129.4L175.1 130.4M192.6 127L193.4 123.5L195.3 120.2L196 116.6M196 116.6L193.6 113.1M175.9 121.7L177.1 126.2L175.1 130.4M175.9 121.7L179.8 120.8L182.7 118.3L186.9 117.9L189.8 115.3L192.9 112.9M192.9 112.9L193.6 113.1M198.7 139.5L195.3 141.9L192.2 144.8L189.1 147.6M198.7 139.5L195.6 135.9L194.6 131.2L192.6 127M169.6 137.8L172.6 134.3L175.1 130.4M184.1 147.6L189.1 147.6M161.4 106L158.7 107.7M161.9 133.4L162.4 129.6L161.4 126L161.2 122.3L160.7 118.6L159.1 115.1L159.5 111.4L158.7 107.7M170.7 109.1L172.6 113.3L175.3 117.1L175.9 121.7M181.1 105.1L184.9 105.8L186.5 109.7L189.2 112.1L192.9 112.9M200.2 98.5L197.2 101.5L197.6 106.1L193.9 108.8L193.6 113.1M268.3 360.2L272.2 361.5L275.8 359.7M278 329.9L279.8 332.4M278 329.9L274.5 331.5L270.7 331.2L266.8 330.9L263.6 333.3L259.7 333.1L256.4 335.2M279.8 332.4L280.7 335.9L280.7 339.6L279.9 343.3L281.2 346.8L281.4 350.5M281.4 350.5L279.4 353.5L277.6 356.6L275.8 359.7M305.7 338.9L301.7 338.9L298.6 335.6L294.5 336.2L290.8 335.4L287.1 334.6L283.5 333.2L279.8 332.4M305.7 338.9L306.5 343.8L305.6 348.7M281.4 350.5L285.5 351.1L289.5 349.6L293.6 350.4L297.5 348.5L301.5 348L305.6 348.7M309.9 358L307.4 354.1L306.4 349.6M309.9 358L313.5 360.1L317.8 360.7L320.4 364.5L324.5 365.6M306.4 349.6L310.6 349.4L314.7 350.8L319 349.7L323.1 351.1L327.3 350.4M324.5 365.6L324.2 361.6L324.9 357.8L327.2 354.3L327.3 350.4M329.9 376.5L327.6 373.1L327.2 368.8L324.5 365.6M319.4 381.7L315 380.2L311.4 377.1L307 375.6M307 375.6L306.8 372L306.5 368.3L310.2 365.3L309.2 361.5L309.9 358M304 376.1L301.1 373.4L297.3 372.3L293 372.2L290.4 368.9M304 376.1L301.9 378.9L299.6 381.7L297.7 384.7L295.6 387.6L295.3 391.5M295.3 391.5L291.1 391.8L287.1 393M279.5 393L280.5 389L281.7 385.1L281.6 380.9L284.5 377.4L285.5 373.5L285.8 369.4M285.8 369.4L290.4 368.9M307 375.6L304 376.1M305.7 349L306.4 349.6M305.7 349L303.2 351.6L301.9 355.1L298.6 357.1L297.4 360.7L293.8 362.4L293 366.4L290.4 368.9M298.3 393L295.3 391.5M275.8 359.7L279.5 362.6L282.7 365.9L285.8 369.4M305.6 348.7L305.7 349M405.8 283.8L403.9 280.3L403.2 276.5L402.8 272.5L399.9 269.3L403.2 264.4L400.8 261L399.8 257.3L398.6 253.6M400.2 247.8L398.6 253.6M405.8 283.8L410.8 283.8L415.4 285.5M400.2 247.8L402.7 250.4L405.5 252.8L408 255.4L411.7 256.8L413.4 260.3L417.3 261.5L418.7 265.3L421.2 267.9M421.2 267.9L420.9 271.7L419.5 275.1L418 278.5L415.8 281.7L415.4 285.5M275 180.1L277.7 185.3M277.7 185.3L282.8 186.4L287.8 185.1M291.7 165.4L292.6 169.2L294.7 172.8L294.7 176.9M294.7 176.9L291.2 178.7L291.1 183.3L287.8 185.1M311.3 178.2L311.2 178.4M294.7 176.9L298.9 176.7L302.9 177.4L307.1 177.3L311.2 178.4M381.8 100.3L382.2 96.4L380.4 93.1L380.1 89.3L377.9 86.1L377.3 82.4M416.6 80.1L416 84.1L417.2 88L417.5 92L417.3 96L417.9 100M381.8 100.3L385.4 101.6L389.1 102.7L393 102.8L397 102.5L400.5 104.5L404.7 103.1L407.9 106.3L411.6 107.5M411.6 107.5L414.1 103.2L417.9 100M458 84.5L455 87.1L455.5 92.3L449.5 92.6L449 97.1L447.7 101L444.1 103.2M417.9 100L421.6 100.9L425.3 101.4L429.1 101.8L432.6 103.9L436.7 101.4L440.3 103L444.1 103.2M420.8 292.1L424.2 290.2L427 287.5L430.8 286.4L434.5 285.3L436.7 281.5L440.6 280.6L444.2 279.1L447.3 276.9L449.4 273L453.4 272.4M423.1 305.6L422.6 301L421.2 296.6L420.8 292.1M457.8 289.3L459.9 285.5L459.6 281.2M459.6 281.2L457.4 278.3L457.1 274.2L453.4 272.4M415.4 285.5L419.1 288L420.8 292.1M446.5 261.9L442.8 262.3L439.5 264.5L435.3 262.8L431.7 263.8L428.7 267.1L424.7 266.3L421.2 267.9M446.5 261.9L448.8 265.2L452.4 267.7L453.3 272M453.4 272.4L453.3 272M492 356.6L491.6 352.9L493.4 349.5L494.4 346L494.2 342.3L495.5 338.9L496.2 335.4L496.8 331.8L496 328L497.9 324.7L498.4 321.1M472 322.4L475.7 321.9L478.7 319.1L483 321L486.5 320L489.6 317.6M498.4 321.1L494.1 319.2L489.6 317.6M459.6 281.2L463.1 283.4L466.8 280.8L470.4 280.8L473.9 281.3L477.5 281.4L481 284.1L484.6 282.5L488.2 282.7M489.6 317.6L489.4 313.7L489.6 309.8L490.7 305.9L489.1 302.1L488.4 298.2L488.9 294.3L489.8 290.4L488.2 286.5L488.2 282.7M473.3 120.7L468.7 121.8L465.4 125.1L461.7 127.7M444.1 103.2L445.7 106.9L446.4 110.9L446.4 115.2L449.9 118.2L449.7 122.6L452.4 125.9M461.7 127.7L457.2 126.2L452.4 125.9M400.2 247.5L403.5 245.9L406.7 244.1L410.3 243L413.5 241L416.6 239L420 237.5L423 235.2M400.2 247.5L396.2 245.9L392.7 243.4L388.9 241.3L385.9 238.2M385.9 238.2L385.5 234.3L385.5 230.5L385.3 226.7L386.1 222.8L385.5 218.9M424.2 207.9L420.6 208.8L417.1 208.1L413.6 207L410.1 206.2L406.6 207.8L403.1 206.6L399.5 206.4L396 207.8M424.2 207.9L425 211.8L423.6 215.7L424.7 219.6L423.8 223.5L422.9 227.4L424.4 231.3L423 235.2M396 207.8L393 210.2L390.8 213.5L388.3 216.3L385.5 218.9M400.2 247.8L400.2 247.5M445 247.2L444.9 250.9L446.6 254.5L447.8 258.1L446.5 261.9M445 247.2L441.9 245.5L438.4 244.4L435.5 242.2L431.9 241.3L428.8 239.4L425.6 237.8L423 235.2M445.6 246.6L445 247.2M445.6 246.6L445.5 242.6L447 239L448.2 235.3L450.1 231.8L454.1 229L451.7 224.2L451.9 220.2L455 217.1L455.6 213.3M455.6 213.3L451.5 213.7L447.7 212.6L443.9 211.3L440.2 210.2L436.3 209.4L432.5 208.5L428.6 208.1L424.7 207.3M424.7 207.3L424.2 207.9M455.6 213.3L460.8 210.9M424.7 207.3L426.2 203.7L426.4 199.9L425.5 196.1L426.2 192.4L425.5 188.6L427.9 185.1L427.7 181.3M430.1 178.3L433.7 179.2L436.5 182.3L440.7 181L443.5 184.2L447.7 183L451.3 183.4L454.5 185.3L457.6 187.6L460.8 189.3L464.6 189.5M427.7 181.3L430.1 178.3M464.6 189.5L464.8 193.2L462.4 196.5L463.2 200.3L462.5 203.9L461.7 207.4L460.8 210.9M310.2 96.6L314.7 97.3M310.2 96.6L306.5 98.5L305 102.5L302.4 105.4L301.2 109.5L297.4 111.4L294.9 114.5M314.7 97.3L313.8 101L311.9 104.5L313.7 108.7L312.9 112.4L312.5 116.2L311.6 119.9L310.4 123.6M294.9 114.5L296.6 117.7L300 119.7L301.6 123M301.6 123L305.9 124.5L310.4 123.6M303.8 92.5L307 94.5L310.2 96.6M328.9 93.5L325.6 95.3L322 96L318.6 97.6L314.7 97.3M287 111.4L291.5 111.6L294.9 114.5M326.8 123.9L322.2 125.3L318.7 128.6M318.7 128.6L315 125.4L310.4 123.6M329.6 93.8L330.2 97.7L329.3 101.4L327 104.9L328.9 108.9L327.6 112.6L327 116.3L327.4 120.1L326.8 123.9M293.5 134.6L295.3 131.6L297.2 128.6L299.6 125.9L301.6 123M318.3 141L316.9 136.8L318.6 132.7L318.7 128.6M572.8 142.9L572.9 138.9L571.5 134.8L573.2 130.8L571.9 126.8L572.8 122.8M572.8 142.9L569.6 146.2L565.8 146.2L561.7 145L558 145.2L554.4 146.5M572.8 122.8L569.2 124L565.7 125.7L561.8 125.3L557.9 125L554.4 126.7L551 128.9L546.9 127.8L543.3 129.2L539.6 129.7M554.4 146.5L551.7 144L549.4 141.3L547.2 138.4L544.2 136.3L541.1 134.3L539.3 131M539.6 129.7L539.3 131M575.2 118.8L572.8 122.8M579.4 149.7L576 146.4L572.8 142.9M567.6 172.2L563.5 170.9L559.6 168.6L554.8 169.6L551 167.2M551 167.2L551.5 163L551.5 158.7L553.2 154.8L553.1 150.5L554.4 146.5M536.7 117.6L540.6 120.9L537.7 125.9L539.6 129.7M551 167.2L547.7 169.3L544.3 171.1L540.9 172.9L536.7 173M527.9 149L528.7 144.4L530.3 140.1L533.3 136.5M533.3 136.5L536.2 133.6L539.3 131M527.9 149L529 152.8L530.4 156.5L531.2 160.4L533.5 163.9L533.4 168.1L535.1 171.7M536.7 173L535.1 171.7M533.3 136.5L529.6 135.9L525.9 134.6L522.2 133.7L518.2 133.9L514.8 131.6L510.9 131.3L506.9 131.7L503.6 128.9L499.5 129.8M553.3 206.6L550.2 209.6L551.4 214.5L550.4 218.4L547.3 221.4L544.7 224.6L542.7 228.1L541.9 232.1M553.3 206.6L551.3 203.6L548.4 201.5L546.6 198.3L544 195.9L540.7 194.1L538.7 191.1L536.1 188.6M541.9 232.1L539.2 229.2L535.1 228.6L531.9 226.6L528.6 224.8L526.6 220.9L523 219.6L519.8 217.4L516.2 216.1M536.1 188.6L533 190.7L529.5 192.2L525.7 193L523 196L519 196.6L516.3 199.4M516.2 216.1L516.2 211.9L516.2 207.7L516.8 203.6L516.3 199.4M559.5 252.2L557.6 248.9L555.7 245.5L551.7 244.1L550.7 240L546.4 238.9L543.8 236.1L542 232.8M564.5 203.3L561.4 206.5L556.8 204.7L553.3 206.6M542 232.8L541.9 232.1M536.7 173L535.2 176.8L537.6 180.8L536.6 184.7L536.1 188.6M161.9 318.9L162.1 318.6M161.7 296.2L162.1 299.9L163.4 303.6L161.9 307.4L161.7 311.1L162.6 314.8L162.1 318.6M152.2 297.9L156.8 296L161.7 296.2M152.2 297.9L149.7 301.7L147.3 305.7M154.3 319.3L151.8 316.2L148.5 314M147.3 305.7L149.3 309.7L148.5 314M5.5 267.8L9.8 267.7L14.1 268.4L18.4 267.9M11.6 250.3L7.6 253.8L2.6 251.9M11.6 250.3L14 254L15.6 258.4L19.6 261M18.4 267.9L17.8 264.2L19.6 261M38.4 249.7L42.3 248.2M42.3 248.2L45.5 250.3L49.3 249.9M55.4 269.3L51.2 271.5L46.9 273.1M55.4 269.3L55.8 265.6L54.8 261.9L53.7 258.2L54.6 254.5M46.9 273.1L44.1 270.3L46.6 265.6L42 263.5L41.7 259.8L42.1 255.9L39.9 253L38.4 249.7M54.6 254.5L52.1 252.1L49.3 249.9M42.3 248.2L41.6 243.6L44.2 239.9L44.8 235.7L47.3 232M52.4 231.1L57 233.8L58.9 238.9M49.3 249.9L52 247.3L54.7 244.9L55.9 241.1L58.9 238.9M31.9 245.8L31.6 241.7L33.1 237.8L33.9 233.7L33.5 229.6M31.9 245.8L28.2 246.2L25.1 243.3L21.5 242.9L17.8 243.1M17.8 243.1L17.7 242.6M17.7 242.6L19.2 239.4L19.8 235.7L22.7 233.3L24.3 230.1L25.2 226.7M25.2 226.7L28.8 229.7L33.5 229.6M35.8 249.6L38.4 249.7M35.8 249.6L31.9 245.8M39.6 227.1L33.5 229.6M19.6 261L23.2 259.2L27.6 260L30.8 257.3M35.8 249.6L33.6 253.7L30.8 257.3M11.6 250.3L15.1 247L17.8 243.1M5.9 226.9L8.3 229.9L10.6 233.2L11.9 237.1L15.9 239L17.7 242.6M20.8 220.5L22.4 224L25.2 226.7M19.3 298.4L22 303M19.3 298.4L21.7 294.7L24.4 291.3L27.1 287.8M22 303L26.3 301.5L30.9 301.5L35.4 300.5M27.1 287.8L32 287.6L35.5 290.8L39.5 292.7M39.5 292.7L36.6 296.1L35.4 300.5M12 295.5L15.4 297.7L19.3 298.4M20.8 310.9L19.8 306.7L22 303M10.8 284.5L14.2 283.1L17.8 283.5L21.5 285.4L24.9 283.3M24.9 283.3L27.1 287.8M39.3 315.3L37.9 311.7L37.3 307.9L36.1 304.3L35.4 300.5M45.3 289.9L49.1 292.7L53.3 295M45.3 289.9L39.5 292.7M52.6 310.6L51.9 306.7L53.2 302.8L53.6 298.9L53.3 295M84.5 328.6L88.3 328.9L91.5 326.4L95.3 327.5L98.7 325.9M105.1 336.7L105.6 331.8L102.6 327.8M98.7 325.9L102.6 327.8M98.7 325.9L99 322.4L98.4 318.9L94.9 315.8L96.8 312M81.9 321.1L84.9 318.4L87.2 315.4L87.4 311.1M87.4 311.1L92 312.8L96.8 312M98.5 222.2L99.1 220.6M118.7 239L113.6 242.6M98.5 222.2L98.8 226.5L99.3 230.8L97.9 235.4L101.6 239.1M113.6 242.6L109.4 242.1L105.5 240.7L101.6 239.1M75.8 192.1L75.6 187.2M75.8 192.1L72.3 193.6L70.2 196.7M62.2 193.6L63.4 194.9M70.2 196.7L66.9 195.6L63.4 194.9M53.6 204.1L58.4 202.7L62.6 205.5M63.4 194.9L62.9 198.4L62.5 201.9L62.6 205.5M64.7 214.8L67.2 211.4M62.6 205.5L65.6 207.9L67.2 211.4M88.2 196L84.2 195.4L80.3 195.6M88.2 196L90.4 199.4M90.4 199.4L87.5 202.2L86.3 206.6L81.9 208.1L79.6 211.4M80.3 195.6L76.9 198L75.8 201.5L77 205.9L74.5 208.7M79.6 211.4L74.5 209.1M74.5 208.7L74.5 209.1M89.2 183.7L90.2 187.9L88.5 191.9L88.2 196M75.8 192.1L80.3 195.6M98.9 202.1L94.7 200.5L90.4 199.4M79.7 211.6L84 212L87.6 214.1L90.5 217.7L94.8 218.2L98.6 219.6M79.7 211.6L79.6 211.4M70.2 196.7L70.7 201L73.1 204.7L74.5 208.7M67.2 211.4L71.2 211.2L74.5 209.1M133.5 -2L130.2 2.3M141.6 16.8L138.9 14.3L136.6 11.5L134 8.9L131 6.6L130.3 2.6M130.2 2.3L130.3 2.6M130.2 2.3L125.8 0.5L121.8 -2M88.1 4.3L92.1 2.3L96.5 2.4L100.8 2.3L105.1 1.5M107 -2L105.1 1.5M92.9 83.1L93.6 76.8M92.9 83.1L89.3 83.7L85.6 84.2L82.1 85.2M93.6 76.8L90.9 74.4L88.7 71.5L87.2 68L83.8 66.2L81.6 63.4L77.4 62.4L76.8 58.1M82.1 85.2L78.6 82.7L77.6 78.1L73.4 76.2L70.6 73.1L68.8 69.2M68.8 69.2L72.2 66.1L73.1 61.1L76.8 58.1M76 90.2L79.7 88.5L82.1 85.2M94.5 84.7L92.9 83.1M60.6 71.5L64.7 70.2L68.8 69.2M76.9 57.1L76.8 58.1M125.1 72.2L122.5 68.2L121.1 63.7M145.7 52.6L141.6 54.2L138.2 50.4L133.9 53.1L130.3 50.8M121.1 63.7L122.4 59.8L126.3 57.7L127 53.3L130.3 50.8M138.7 31.4L135.8 33.7L133.5 36.7L131 39.5L128.2 41.9M137.7 23.9L133.4 24.8L129.2 24.2L124.9 23.1L120.6 23.2M120.6 23.2L121 27.9L118.8 32.2L118.8 36.9M118.8 36.9L121.8 38.7L124.8 40.7L128.2 41.9M130.3 50.8L129.5 46.3L128.2 41.9M146.7 120.6L143.8 118.4L140.5 116.9L137.6 114.9L134.1 113.9M146.7 120.6L149.1 117.6L151.1 114.5L152.2 110.6L155 108M134.1 113.9L137.4 110.9L141.9 111.3L146 110.9L149.3 107.8L153.5 107.4M155 108L153.5 107.4M158.7 107.7L155 108M146.1 127.5L146.7 120.6M149.4 133.3L146.1 127.5M131.5 113.8L134.1 113.9M130.5 104.2L132.6 108.8L131.5 113.8M139.9 96.2L142.9 98L145.1 100.9L147.5 103.5L151 104.9L153.5 107.4M105.9 135.7L110.2 137.6L113.1 141.4M105.8 154.6L106.3 154.2M106.3 154.2L107.9 151L110.3 148.1L111.3 144.6L113.1 141.4M130.3 152.2L128.8 155.6L129.3 159.3M130.3 152.2L125.6 150.7L121.5 148.3M121.5 148.3L118.5 151.9M118.5 151.9L118.1 156L117.8 160.2L119.9 164.1M129.3 159.3L126.7 161.8L123.6 163.4L120.1 164.4M120.1 164.4L119.9 164.1M140.5 145.7L136.8 147.3L132 147.4L130.3 152.2M139.6 168.5L136.5 165.1L132.7 162.4L129.3 159.3M119.4 142L113.1 141.4M106.3 154.2L110.6 154.7L114.4 152.5L118.5 151.9M119.4 142L121.5 148.3M106.1 157.1L110.3 157.4L113.4 159.7L115.8 163.5L119.9 164.1M119.6 169L120.1 164.4M112.5 126.3L114.5 122.1L117.8 119.3L121.9 117.3M112.5 126.3L115.4 128.9L118.9 130.2L121.6 133.1L125.5 133.9M127 133.4L125.5 133.9M127 133.4L127.8 128.3L130.6 123.9M130.6 123.9L129.3 117.5M129.3 117.5L125.6 118.2L121.9 117.3M108.9 126.4L112.5 126.3M113.1 109.9L116.3 112.1L119.8 113.8L121.9 117.3M119.4 142L122.2 137.8L125.5 133.9M140.6 143.2L137.1 140.9L134.3 137.6L130.4 135.9L127 133.4M146.1 127.5L142.1 127L138.4 125.2L134.7 123.8L130.6 123.9M131.5 113.8L129.3 117.5M288.5 229.4L283.3 228.5M288.5 229.4L292.3 232M292.2 256.6L289.2 257.3M271.4 242.6L272.2 247.6L274.9 251.9M271.4 242.6L272.8 238.8L273.7 234.7M292.2 256.6L291.8 253.1L291.7 249.6L290.9 246.1L292.3 242.6L292.2 239.1L293.9 235.6L292.3 232M273.7 234.7L277 232.8L280.5 231.2L283.3 228.5M256.3 169.4L252.2 170.1L249.3 173.1M237.9 160.5L239.5 156.1L243.4 153.9L246.9 151.2M237.9 160.5L239.8 164.7L241.2 169.2L243 173.5M243 173.5L249.3 173.1M230.8 189.7L236.7 193.1M230.8 189.7L227.7 192.3L223.3 192.1L220.1 194.4M236.7 193.1L233.6 195.4L231.4 198.5L228.8 201.3L226.8 204.6M220.1 194.4L221.7 198.2L221 202.2M226.8 204.6L221 202.2M221 202.2L217.4 203.7L215.6 207.4L213.6 210.7L209.5 211.6M204.7 198.4L207.2 194.7L209.9 191L212 187M212 187L215.2 189L218.5 190.7L220.1 194.4M204.7 198.4L207.3 202.3L207.8 207L209.1 211.4M209.5 211.6L209.1 211.4M162.1 318.6L164.3 314.4L169.5 315.5L173 313.6L175.9 310.6L179.4 308.8M161.7 296.2L163.4 294.8M163.4 294.8L164.3 294.9M164.3 294.9L166.6 298.5L170.5 300.3L174.1 302.4L176 306.5L179.4 308.8M182.5 322L183.3 318.9M183.3 318.9L182.4 313.8L180.4 308.9M179.4 308.8L180.4 308.9M286.8 285.9L282.5 284.4L279.1 281.3M286.5 311.7L285.1 308L285.6 304.3L287.8 300.7L286.3 297L289.5 293.3L286.1 289.6L286.8 285.9M282.5 314.1L286.5 311.7M282.5 314.1L279.3 312L275.7 310.7L272 309.6L269 307.1L264.8 307L261.7 304.7L258.3 303.1M275.6 281L273.1 284.1L270.5 287L266.2 287.1L263.7 290.2L260.7 292.4L256.9 293.3M256.9 293.3L257 298.3L258.3 303.1M282.5 314.1L281.5 318.1L279.9 321.9L277.5 325.5L278 329.9M248.4 323.1L248 318.1M258.3 303.1L256.1 306L253.8 308.8L253.1 312.8L249.3 314.6L248 318.1M292.2 256.6L296.6 257.8M296.6 257.8L298.8 261L302.2 263M302.2 263L301.6 266.8L298.5 269.4L297.2 272.9L296.1 276.5L294.3 279.7L292.8 283.1M286.8 285.9L289.6 285.3M289.6 285.3L292.8 283.1M286.5 311.7L291.1 312.3M309.2 301.7L309 298.3M291.1 312.3L295.9 312.2L298 307.4L301.8 305.6L305.6 303.9L309.2 301.7M289.6 285.3L292.9 287.3L297 288.1L298.9 292.3L302 294.7L304.8 297.5L309 298.3M219.4 118.9L218.9 123L217.2 126.9M219.4 118.9L215.6 118.8L212.8 115.7L209.2 115M217.2 126.9L213.3 127.9L209.4 126.9M209.4 126.9L207.1 122.5L204.8 118M204.8 118L209.2 115M223.2 132.4L219.9 129.9L217.2 126.9M204.2 139.6L207 141.8L210.3 143.2L213 145.6M204.2 139.6L206.5 135.7L206.8 130.8L209.4 126.9M204.2 139.6L198.7 139.5M196 116.6L200 119.6L204.8 118M214.1 104.3L211.8 107.5L211.4 111.7L209.2 115M216.6 156.5L220.5 157L223.7 159.1L227.3 160.2L230.7 162M216.6 156.5L216.2 157M216.2 157L217.5 161L215.7 165.4L216.5 169.4L219 173.3L218.3 177.5M230.7 162L230.1 165.8L230.6 169.5L229.8 173.3L230.6 177M218.3 177.5L223.5 177.4L228.6 178.5M230.6 177L228.6 178.5M216.7 153.9L216.6 156.5M237.9 160.5L233.8 159.2L230.7 162M189.1 147.6L191.1 151L191.6 155.3L195.7 157.3L196.2 161.6L199.4 164.2M199.4 164.2L202.7 162.6L206.8 162.8L209.4 159.7L212.5 157.5L216.2 157M239.6 176.9L243 173.5M239.6 176.9L235.1 178.1L230.6 177M179.8 166.1L183.8 168L186.8 171.4L190.8 173.3M199.4 164.2L196.4 170.3M190.8 173.3L196.4 170.3M218.3 177.5L214.7 180.4L211.7 183.7M196.4 170.3L199.4 173.1L201.8 176.5L204.5 179.6L209.3 180.3L211.7 183.7M230.8 189.7L231 185.8L231.6 181.8L228.6 178.5M212 187L211.5 184.8M211.5 184.8L211.7 183.7M405.8 283.8L402.4 285.7L398.8 286.9L394.9 287.2L391.4 288.6L388 290.6L384.3 291.4M398.6 253.6L396.5 256.7L393 258.8L391.5 262.3L390.8 266.4L389.4 270L386.8 272.7L383.6 275.1L382.3 278.7L380.2 281.9L377.4 284.5M384.3 291.4L381.3 287.4L377.4 284.5M409.2 315.1L405.5 314.2L401.8 313.2L398.3 311.5L395 309.1L391 309.1L387.2 308.2M384.3 291.4L384.3 295.7L385.7 299.8L385 304.3L387.2 308.2M405.9 336.7L402.2 338.2L398.3 338.4L394.4 338.1L390.5 337.8M390.5 337.8L389.3 333.4L386.2 330.7L381.5 329.3L379.3 325.8L376.9 322.4M376.9 322.4L376.5 321.2M387.2 308.2L384.1 311.1L381.8 314.6L378.5 317.4L376.5 321.2M300.3 232.9L301.8 229.5L302.8 225.7L306.7 223.8L309.2 220.9L310.1 217.1M292.3 232L296.5 230.9L300.3 232.9M288.5 229.4L288.9 225.3L292.1 223.1L292.9 219.2L296.8 217.5L297.4 213.5L300.4 211.1M310.1 217.1L307.3 214.5L303.5 213.4L300.4 211.1M278.1 209.1L279 213L279.6 217.1L281.4 220.7L283.3 224.4L283.3 228.5M278.1 209.1L282.2 208.7L285.3 205.1L290.1 206.5L293.3 203.3L297.3 202.6M300.4 211.1L298.4 207L297.3 202.6M278.1 209.1L275.7 207.6M274.5 190.2L274.4 194.5L274.7 198.9L274.9 203.2L275.7 207.6M277.7 185.3L274.5 190.2M287.8 185.1L291.1 187.3L292.7 190.7L293.8 194.4L295.8 197.4L298.2 200.3M297.3 202.6L298.2 200.3M308 243.1L311.7 245.4L314.6 248.9L319 250L322.6 252.5M308 243.1L306.6 237M306.6 237L310.8 236L314.6 234.2L317.9 231.4M317.9 231.4L320.4 234.4L323.5 236.8L326 239.7M326 239.7L324.2 243.8L323.3 248.1L322.6 252.5M296.6 257.8L299.3 255.2L300.4 251.4L303.8 249.3L306.9 247L308 243.1M306.4 264.1L302.2 263M306.4 264.1L309.5 261.7L313 259.8L316.1 257.3L320 256L322.7 253M322.7 253L322.6 252.5M300.3 232.9L304.6 233.2L306.6 237M310.1 217.1L315.1 217.1M320 221.3L315.1 217.1M320 221.3L317.4 226L317.9 231.4M411.7 117L414.3 120.3L417.8 122.7L420.4 126L422.8 129.5L426.6 131.6M411.7 117L408.9 119.5L406.1 122.1L403.2 124.5L401.4 128L398.4 130.3L396.4 133.6M426.6 131.6L423.7 134.7L423.1 138.6L422.7 142.7L420 145.8L417.3 148.9L417.7 153.3M396.4 133.6L398.3 137L399.2 140.9L400.8 144.4L402 148.2L404.5 151.4M417.7 153.3L413.3 153.1L408.9 152L404.5 151.4M411.6 107.5L409.7 112.3L411.7 117M452.4 125.9L448.3 128L445 131.3M445 131.3L441.3 131.9L437.6 130.6L433.9 131.4L430.2 130L426.6 131.6M370.6 117L374.4 118.1L376.3 121.7L378.6 124.7L382.9 125.3L385.5 128L387.7 131.2L390.9 133.1M390.9 133.1L396.4 133.6M381.8 100.3L379.5 103.6L377.5 107.2L374.8 110.2L373.9 114.5L370.6 117M442.2 160.1L441.7 156.5L444.6 153.1L442.6 149.3L444 145.7L443.9 142.1L445.1 138.6L445 134.9L445 131.3M431.3 169L434.2 167.1L437.5 165.5L439.7 162.6L442.2 160.1M431.3 169L427.3 166.9L425.4 163.1L424.2 158.6L421.2 155.7L417.7 153.3M522.7 332.6L519.7 329.8L515.9 327.8L513.7 324.3L511.4 320.9M522.7 332.6L526 335L529.7 334.5L533.3 334.9L537.1 332.5L540.7 333.1L544.1 334.2L547.8 333.8L551.2 335.6L554.9 334.8L558.4 336.2M511.4 320.9L513.3 317.9L514.1 314.4L515.3 311.1L517.9 308.5L519.2 305.2L520.4 301.9L521.4 298.5L523.2 295.5L523 291.5L526.2 289.2M526.2 289.2L530.2 289.5L532.5 292.6L535.1 295.2L537.2 298.6L540.9 299.4L544.7 300.3L547.4 302.7L550.8 304L553.1 307L556.1 309L559.1 311L561.9 313.2L564.5 315.9L567.7 317.6L571.1 319M558.4 336.2L560.2 332.3L564.5 330.4L565.8 326.1L569.3 323.6M569.3 323.6L571.1 319.1M571.1 319.1L571.1 319M512.8 358.2L514.5 354.7L515.7 351L518.6 347.9L518.3 343.6L519.8 339.9L521 336.2L522.7 332.6M498.4 321.1L502.7 321.9L507 321.3L511.4 320.9M556.9 357.7L556.9 354.1L558.2 350.6L559.7 347.1L559.5 343.5L559.6 339.9L558.4 336.2M524.8 283.6L526.2 289.2M559.4 259.2L556.8 261.7L553.7 263.3L550.6 265.2L548.8 268.7L544 268L542.9 272.6L539 273.1L537 276.5L533.4 277.4L530.1 278.9L527.4 281.2L524.8 283.6M578.7 303.5L577.5 307.8L575.4 311.5L572.1 314.7L571.1 319M607 363.5L604.5 360.8L602.1 358L600.1 354.8L595.2 354.5L594.6 350L592.8 346.6L590.7 343.6L587.4 341.7L583.9 340L582.6 336.2L580.7 332.9L576.4 332L573.8 329.4L571.7 326.3L569.3 323.6M607 328L603.3 327.5L599.3 328.1L595.7 327.5L592.3 325.6L588.9 324.1L585.5 322.2L581.7 322.2L578.3 320.7L575 318.6L571.1 319.1M514.2 276.4L510 274.1L506.6 276.8L503.1 279.2L499.1 277.9L495.5 279.4L491.8 280.1M514.2 276.4L514.4 272.8L514.8 269.2L514.5 265.7L512.3 262.2L512.3 258.6L513.5 255L513.1 251.4M491.8 280.1L491.5 276.5L491.9 272.7L489.5 269.7L487.6 266.6L486.6 263.2L485.4 259.9L483.9 256.7L482.9 253.3L483.2 249.6M513.1 251.4L509.7 249.5L506.9 246.7L503.3 245.1L500.7 242.2L497.4 240.2L494.4 237.9L491.1 235.7L488.3 233.1M483.2 249.6L484.5 245.9L485.2 242.1L483.6 237.7L487.1 234.5M487.1 234.5L488.3 233.1M488.2 282.7L491.8 280.1M524.8 283.6L521.4 281L517.8 278.7L514.2 276.4M542 232.8L539.1 235.4L535.5 236.8L532.7 239.6L529.1 240.9L526.4 243.8L522.3 244.6L519.3 247L517 250.5L513.1 251.4M453.3 272L455.9 269.2L459.7 268.1L462.5 265.6L465.4 263.1L467.6 259.9L470.9 258L474.3 256.4L477.4 254.3L480.2 251.8L483.2 249.6M488.4 230.8L491.1 228.5L494.5 227.4L497.4 225.5L500.2 223.3L503.3 221.7L506.6 220.3L509.3 218.1L513.3 218.1L516.2 216.1M488.4 230.8L488.3 233.1M445.6 246.6L449.3 246.4L452.7 245.5L455.8 242.9L459.2 241.9L463 241.8L466.2 240.2L469.7 239.3L473.2 238.3L476.3 236.1L480.5 237.8L483.3 234.2L487.1 234.5M488.4 230.8L486.1 226.9M486.1 226.9L482.1 226.2L480.2 222.2L476 221.8L474 218L470.4 216.6L467.3 214.6L463.7 213.2L460.8 210.9M388.4 343.7L386.7 347.1L384 349.4L380.5 351L377.9 353.5M388.4 343.7L391.1 346.9L394.5 349.5L397 352.8L399.3 356.3L401.2 360.1M377.9 353.5L380.7 355.5L383.3 358.1L385.8 360.5L389.4 361.7L391.1 365.2L394.4 366.7L397.6 368.3M401.2 360.1L398.1 363.6L397.6 368.3M390.5 337.8L388.4 343.7M376.9 322.4L376.5 326.2L374.1 329.3L372.4 332.6L373.9 337L370.3 339.7L369.6 343.3L368 346.7L367.6 350.4L366.6 354M366.6 354L370.4 354.9L374.1 353.2L377.9 353.5M413.5 346.7L411.4 349.7L408.1 351.6L405.6 354.3L404.6 358.3L401.2 360.1M363 356.1L366.6 354M361.9 369.2L363.4 364.9L363.8 360.5L363 356.1M398.1 376.7L398.9 372.4L397.6 368.3M365.1 141L364.5 137.3L366.5 133.7L365.8 130L366.2 126.3L365.3 122.6L365.4 118.9M365.1 141L361.8 143.4L358.4 145.7L354.8 147.6L350.6 148.3L347.5 151.1M347.5 151.1L343.2 149.9M343.2 149.9L342.5 146.1L342.7 142.4L343.6 138.6L343.1 134.8L341.4 131L343.4 127.3M343.4 127.3L346.3 124.3L349.8 122L354.2 120.9L356.6 117.2M356.6 117.2L360.9 118.7L365.4 118.9M370.6 117L365.4 118.9M390.9 133.1L389.1 136.6L386.7 139.5L383.7 141.9L380.8 144.3L379 147.7L375.9 150.1M375.9 150.1L373.5 147.5L369.7 146.6L368 143L365.1 141M337.7 152.3L343.2 149.9M326.8 123.9L330.7 125.8L335.6 123.1L339.2 126.4L343.4 127.3M340.9 93.3L342.7 96.4L344.5 99.5L346.7 102.3L348.8 105.2L350.5 108.4L352.6 111.3L354.6 114.2L356.6 117.2M379.7 240.6L385.9 238.2M379.7 240.6L376.9 243.5L376 247.1L374.7 250.6L374.7 254.5L373.2 257.9L370.4 260.8L370.9 265L367.7 267.7L367.2 271.5M377.4 284.5L375.2 283.8M367.2 271.5L370.3 273.8L369.5 278.7L372.2 281.3L375.2 283.8M360.1 237.7L356 232.9M360.1 237.7L357.4 240L354.3 241.8L352 244.9L348 245L344.3 245.8L341.9 248.6M356 232.9L352.3 232.3L348.7 233.2L345.1 230.9L341.5 232.4L337.8 232.9M341.9 248.6L341 245L339.1 241.7L338.7 237.9L336.9 234.6M336.9 234.6L337.8 232.9M385.5 218.9L383.6 214.9L379.5 214.9L375.3 214.9L373.2 211.5L370.9 208.2L367.4 207L363.7 206.2M364.1 240.1L368 239.7L371.9 240.7L375.9 239L379.7 240.6M364.1 240.1L360.1 237.7M356 232.9L356.4 228.8L354.7 224.9L354.8 220.8L354.6 216.7L354.9 212.7M363.7 206.2L361.2 208.9L356.9 209.2L354.9 212.7M527.9 149L523.7 148L519.8 150.1L515.8 150.1L511.6 149L507.7 151.2L503.6 151.4M499.4 129.9L499.4 134.4L499.3 138.8L498.1 143M498.1 143L499.6 148L503.6 151.4M461.7 127.7L463 131.3L464.6 134.8L466.4 138.2L468.3 141.6L468 145.8L471 148.7L471.7 152.6M498.1 143L495 144.7L492.1 147L488.6 147.6L485.1 148.3L481.8 149.5L478.8 151.6L475.2 152L471.7 152.6M442.2 160.1L446.1 160L449.9 157.6L453.8 160.7L457.7 159.9L461.6 158.8L465.5 159.9L469.4 160.1M471.7 152.6L470.2 156.2L469.4 160.1M501.7 190.3L503.4 187.1L505.2 183.9L507 180.7L509.2 177.7L509.3 173.6L512.2 171M501.7 190.3L497.6 191.2L493.3 190.8M493.3 190.8L490.2 188.3L486.8 186.3L482.9 184.9L480 182L476.9 179.5M512.2 171L509.4 168.4L507.8 165L504.3 163L503.3 159.1M503.3 159.1L501.4 162.6L498.3 164.6L494.6 165.8L490.2 166L488.1 169.3L485 171.3L482.8 174.5L478.9 175.4L476.9 178.9M476.9 179.5L476.9 178.9M535.1 171.7L531.3 171.2L527.5 171.4L523.7 170.3L519.8 172.4L516 173.2L512.2 171M516.3 199.4L512 198.1L509.7 193.7L505.8 191.9L501.7 190.3M486.1 226.9L487 223.3L487.3 219.6L488.1 216L489.3 212.5L488.9 208.7L491.1 205.4L490.2 201.5L493.1 198.3L492.3 194.4L493.3 190.8M464.6 189.5L467.1 186.3L470.5 184.3L473.2 181.3L476.9 179.5M503.6 151.4L503.6 155.2L503.3 159.1M469.4 160.1L472.5 163.2L472.8 167.4L473.8 171.4L475.1 175.2L476.9 178.9M431.3 169L431.1 173.7L430.1 178.3M137.6 320.4L133.7 316.9L128.6 315.5M137.6 320.4L140.9 316.2M140.9 316.2L137.2 314.7L135.7 311L133.4 308.2M133.4 308.2L130.4 311L126.9 312.9M128.6 315.5L126.9 312.9M129 328.3L128.9 324L128.5 319.8L128.6 315.5M137.3 326.5L137.6 320.4M148.5 314L144.3 313.8L140.9 316.2M135.2 304.2L133.4 308.2M147.3 305.7L143.3 305.2L139.1 305.6L135.2 304.2M19.1 269.5L19.4 274.1L23.7 275.9L26 279.2M19.1 269.5L19 269M19 269L22.6 268.5L26.2 269.2L29.7 267.4L33.3 267.7M26 279.2L30 276.9L34.5 275.9L38.2 273.1M38.2 273.1L34.9 271.2L33.3 267.7M9.6 283.2L11.6 279.5L15.1 276.8L18.1 273.9L19.1 269.5M24.9 283.3L26 279.2M18.4 267.9L19 269M30.8 257.3L31.7 260.8L32.6 264.2L33.3 267.7M45.3 289.9L46.3 286.1L43.8 282.3L44.6 278.5L45.2 274.7M45.2 274.7L41.5 274.7L38.2 273.1M45.2 274.7L46.9 273.1M118.7 324.7L113.8 325.6L109.9 322.6M118.7 324.7L117.9 319.5L121.8 316.5L124 312.6M109.9 322.6L110.8 318.5L110.7 314.4L110.2 310.3M124 312.6L121.2 308.6L116.8 306.5M116.8 306.5L114.8 310.7L110.2 310.3M123.3 331L120.9 328L118.7 324.7M102.6 327.8L107 326.2L109.9 322.6M126.9 312.9L124 312.6M96.8 312L101.2 308.2M101.2 308.2L105.9 308.4L110.2 310.3M68.6 249.3L70.9 252.2L70.4 256.1L71.7 259.3M54.6 254.5L58.1 253.2L61.8 252.4L65.1 250.5L68.6 249.3M55.4 269.3L59.5 271.4L64.1 271.2M64.1 271.2L66.5 268.5L68.1 265.4L69.4 262.1L71.7 259.3M143.1 255.6L138.9 257.4L135.8 260.9L131.6 262.6M129.8 252.1L127.6 256.4M127.6 256.4L128.8 260L131.6 262.6M143.6 255.8L144.3 259.7L146.1 263L148.6 266.1M148.6 266.1L145.8 268.6L141.9 268.5L138.7 270L135.2 271L132.3 273.2M132.3 273.2L131.5 272.2M131.6 262.6L133.1 267.4L131.5 272.2M113.6 242.6L114.3 246.8L113.8 251L113.8 255.2M90.7 247.3L91.3 253.6M91.3 253.6L94.9 257.6L100 259.3M101.6 239.1L98.3 242.3L93.8 243.9L90.7 247.3M100 259.3L103.4 258.4L107.4 259L110.4 256.5L113.8 255.2M131.5 272.2L127.4 272.9L124 270.8L120.4 269.4L116.6 268.8M127.6 256.4L123.4 255.4L119.4 256.2L115.4 257M116.6 268.8L115.9 264.9L114.5 261.1L115.4 257M113.8 255.2L115.4 257M67.8 241.3L69.4 246.7M67.8 241.3L69.6 237.8L71.2 234.2L73.1 230.7M69.4 246.7L73.6 248L77.7 247.6L81.8 245.4L86 244.5L90 246.9M90 246.9L88 243.8L86.9 240.3L84.1 237.6L82.9 234.1L81.6 230.6M73.1 230.7L77.6 229.4M81.6 230.6L77.6 229.4M58.9 238.9L63.1 241.2L67.8 241.3M68.6 249.3L69.4 246.7M63.2 222.2L66 225.6L70.9 226.6L73.1 230.7M71.7 259.3L75.9 260.3L80.3 260.9L84.6 261.4M91.3 253.6L88.1 257.7L84.6 261.4M90.7 247.3L90 246.9M98.5 222.2L94.9 223.4L91.5 225.1L87.3 225.1L84.9 228.7L81.6 230.6M79.7 211.6L80 215.3L79.4 218.8L77.8 222.2L76.2 225.6L77.6 229.4M149.5 266.4L149 271L149.1 275.6L149.7 280.1M149.7 280.1L146.6 281.8L144 284.2L140.7 285.7M148.6 266.1L149.5 266.4M132.3 273.2L132.4 273.7M132.4 273.7L134.4 276.7L137.5 279L138 283.1L140.7 285.7M149.7 280.1L153.6 281.6L157.7 282.5L161.8 283.4M163.4 294.8L162 291.1L162.1 287.2L161.8 283.4M152.2 297.9L148.9 295.9L146.5 292.9L143.2 290.9L140.5 288.3M140.5 288.3L140.7 285.7M135.2 304.2L134 299.6L132.1 295.4M140.5 288.3L137.1 290L134.1 292.1L132.1 295.4M117.3 303.5L116.8 306.5M117.3 303.5L119.2 299.8L122.3 297.3L125.2 294.5M132.1 295.4L125.2 294.5M105.5 3L108.7 5L109.3 9.3L113.2 10.7L113.9 14.8L117.3 16.7M105.5 3L104.9 6.8L102.4 10L102.7 14.1L101.3 17.7L100 21.3M103.9 23.7L101.7 23.3M103.9 23.7L107.2 22.5L110.5 21.2L113.8 19.8L117.1 18.7M117.1 18.7L117.3 16.7M100 21.3L101.7 23.3M130.3 2.6L127.2 5L124.2 7.5L121.9 10.5L120.2 14.2L117.3 16.7M105.1 1.5L105.5 3M94.1 19L100 21.3M120.6 23.2L117.1 18.7M111.9 39.3L108.7 37L108.8 33L104.6 31.2L106.1 26.5L103.9 23.7M118.8 36.9L115.2 37.5L111.9 39.3M82.8 35.3L87 33.5L91.7 34.5L96 33.2M96 33.2L97.3 29.6L100.9 27.2L101.7 23.3M88.8 50.4L92.3 47.9L96.1 46.1L100.1 44.4L104.2 43.2M88.8 50.4L91.2 53.4L94.7 55.4L94.8 60.4L99.3 61.5L101.6 64.6M101.6 64.6L105.8 64.8L108.6 61.6L112.3 60.5M112.3 60.5L110.8 56.4L109.3 52.3L108.1 48.2L107.7 43.8M104.2 43.2L107.7 43.8M85.1 49.6L88.8 50.4M96 33.2L98.4 36.8L100.5 40.6L104.2 43.2M93.6 76.8L95.7 73.8L96.8 70.2L99.7 67.8L101.6 64.6M121.1 63.7L116.4 62.8L112.3 60.5M111.9 39.3L107.7 43.8M219.9 104.1L222.3 102.7M222.3 102.7L222.7 97.5L227.5 95.4M216.2 87.7L220.1 86.5L223.8 85M217 103.7L219.9 104.1M227.5 95.4L224.6 92.5L224.4 88.6L223.8 85M206.3 70.7L209.8 72L213.4 72.8L216.9 74.2L219.8 77.1L223.5 77.8L227.3 78.2M223.8 85L226.9 82.2L227.3 78.2M229.5 62.1L229.8 66.7L230.2 71.3L230.9 75.8M227.3 78.2L230.9 75.8M245.9 73L242 72.1L239 75.2L235.3 75.1L231.8 76.2M231.8 76.2L230.9 75.8M275.7 207.6L272.2 208.2L268.6 208.8L265.1 209.3L261.7 210.6M273.7 234.7L270.8 232.6L268.2 230L264.3 229.3L262.1 226.2L258.8 224.5M258.8 224.5L258.5 220.9L261.3 217.8L261.9 214.3L261.7 210.6M242.9 187.2L246.6 186.1L250.4 185.5M242.9 187.2L241.6 190.5L239.4 193.4M245.4 198L249.6 196.6L253.9 195.7L257.9 193.7M245.4 198L241.6 196.6M250.4 185.5L256.6 187.6M241.6 196.6L239.4 193.4M256.6 187.6L258.8 191.7M257.9 193.7L258.8 191.7M239.6 176.9L242.1 179.9L242.8 183.4L242.9 187.2M249.3 173.1L248.8 177.3L250.3 181.3L250.4 185.5M236.7 193.1L239.4 193.4M251.1 208.3L256 207.7L260.6 209.6M260.6 209.6L257.7 206L258.8 201.7L256.9 198L257.9 193.7M251.1 208.3L249.3 204.8L247.2 201.5L245.4 198M238.7 204.5L241.8 201.1L241.6 196.6M238.7 204.5L242.5 207.7L244.4 212.3M251.1 208.3L247.4 209.8L244.4 212.3M260.4 176.4L260.2 180.5L258.8 184.2L256.6 187.6M230.1 208.6L226.8 204.6M238.7 204.5L234.5 206.8L230.1 208.6M274.5 190.2L270.7 191.4L266.5 189.2L262.8 191.4L258.8 191.7M260.6 209.6L261.7 210.6M178.7 202.8L182.4 201.3L186.3 201.3M186.3 201.3L186.4 206.4L191.2 209.1L192.5 213.5M169.1 213.9L171.5 216.8L173.5 220L175.3 223.3M192.5 213.5L191.6 217.4L189.3 220.8M189.3 220.8L185.7 220.8L182.1 220.9L179.1 223.9L175.3 223.3M153.7 225.5L156.9 227.9L159.7 230.6L163.2 232.6L165.1 236.4M165.1 236.4L168 233.1L172.2 232.1M175.3 223.3L174.2 227.8L172.2 232.1M154.2 246L158.7 246.1M165.1 236.4L164.6 240.4L162.4 243.7M158.7 246.1L162.4 243.7M195.2 231L193.5 227.5L191.9 223.8L189.3 220.8M195.2 231L193.5 235.7L192.1 240.4M172.2 232.1L175.1 234.5L178.8 235.7L181.7 238.2L184.1 241.2L187.3 243.1M192.1 240.4L187.3 243.1M230.3 331.3L227.7 328.7L224.5 327.1L222 324.5L218.8 322.8M221.9 341.4L218.9 338.5L215.6 335.9L213.9 331.8L211 328.9M218.8 322.8L215.2 326.2L211 328.9M200 329.6L203 327.6M183.3 318.9L187.2 317L191.3 319.2L195.2 318.6L199.1 318M203 327.6L201.7 322.6L199.1 318M207.9 351.9L207.7 348L210 344.4L209.3 340.6L210.1 336.8L208.9 332.9L209.9 329.2M203 327.6L206.5 328L209.9 329.2M211 328.9L209.9 329.2M230.1 299.1L228.2 302.3L228.7 306.1L227.9 309.6M230.1 299.1L227.2 296L225.4 291.9L222.3 289.1L218.7 286.7M218.7 286.7L215.4 289.8L211 291.8L209.1 296.3M209.1 296.3L213 297.3L215.3 300.7L218.7 302.5L220.6 306.4L223.7 308.7L227.6 309.7M227.6 309.7L227.9 309.6M256.9 293.3L251.5 289.4M251.5 289.4L247 290.4L242.5 290.3M242.5 290.3L239.3 292.4L235.8 294L232.9 296.5L230.1 299.1M248 318.1L244.7 316.5L241.6 314.4L238.6 312.2L234.6 312.4L230.8 312L227.9 309.6M226.6 277.9L229.9 280.3L233 282.8L236.4 285L238.9 288.3L242.5 290.3M218.9 285.2L218.7 286.7M226.6 277.9L223.6 279.9L220.9 282.1L218.9 285.2M218.8 322.8L220.9 316.3M220.9 316.3L224.5 313.3L227.6 309.7M292.8 283.1L296.5 282.9L300 281.3L303.7 281.6L307.3 280.7L311 281.2M309 298.3L311 294.9L312.3 291.3L314.2 287.9M314.2 287.9L312.6 284.6L311 281.2M306.4 264.1L308.1 267.7L310.8 270.6L312.7 274.1M312.7 274.1L310.9 277.5L311 281.2M178.4 184.2L180 188.3L183.9 190.8L184.4 195.5L187.7 198.4M178.4 184.2L181.2 181.3L184 178.4L187.3 176.1L190.6 173.8M190.6 173.8L192.7 177.3L192 181.4L192.1 185.4L194.1 188.9M194.1 188.9L194.2 192.9L191.5 195.9M187.7 198.4L191.5 195.9M172.9 183.9L178.4 184.2M186.3 201.3L187.7 198.4M190.8 173.3L190.6 173.8M211.5 184.8L207.9 185.3L204.4 186L200.9 186.7L197.4 187.5L194.1 188.9M204.7 198.4L200.4 197.2L195.8 197.2L191.5 195.9M209.1 211.4L204.8 211.1L200.8 212.2L196.6 212.2L192.5 213.5M291.1 312.3L293.9 315.1L297.2 317.4L300 320.2L302.5 323.4L305.8 325.6M320.3 309.9L320.3 314.3M309.2 301.7L312.3 305.2L317.7 305.7L320.3 309.9M320.3 314.3L318.2 317.5L315.5 320.1L311.9 321.5L309.1 323.9L305.8 325.6M305.7 338.9L306.2 337.9M306.2 337.9L306.2 333.8L305.6 329.7L305.8 325.6M353.5 349L354.9 345.2L353.1 341.4L353.1 337.7L353.2 333.9L353.8 330.2L354.3 326.4L353.8 322.7L354.4 318.9M353.5 349L349.2 349.9L344.8 350.2L340.5 348.9M330.5 332.9L332.1 327.8M330.5 332.9L331.8 337.2L333.8 341.3L334.7 345.7M332.1 327.8L335.2 325.3L338.9 324.2L342.6 323L346.8 322.8L350 320.8L352.8 317.8M354.4 318.9L352.8 317.8M334.7 345.7L340.5 348.9M376.5 321.2L372.7 321.7L369.1 320.9L365.3 321.9L361.6 321.6L357.9 321.1L354.4 318.9M363 356.1L360.3 353L356.6 351.5L353.5 349M334.1 375.9L333.6 371.7L335.3 368L336.3 364.2L337.1 360.3L340 356.9L337.7 352.3L340.5 348.9M320.3 314.3L323 316.7L324.9 319.8L327.1 322.7L331.4 323.7L332.1 327.8M306.2 337.9L309.7 337.3L312.9 335.2L316.5 335.1L319.8 333.5L323.7 335L327.7 336.4L330.5 332.9M327.3 350.4L331.5 348.8L334.7 345.7M318.3 204L315.3 201.1L311.6 198.9L310.1 194.6M318.3 204L322.4 204.4L326.4 204.3L330.2 201.8L334.3 202.5M335.7 191.1L334.4 194.8L336.5 198.9L334.3 202.5M335.7 191.1L331.8 192.1L328 190.4L324 191.6L320.2 189.3L316.4 188.4L312.4 189.4M312.4 189.4L310.1 194.6M315.1 217.1L316.2 212.8L317.7 208.5L318.3 204M298.2 200.3L302.8 199.7L306.4 196.9L310.1 194.6M340.8 183.4L337.3 186.6L335.7 191.1M337 178.4L340.8 183.4M311.2 178.4L310.3 182.2L313 185.6L312.4 189.4M353.6 182.9L354.5 186.9L357.7 189L360.9 191L363.4 193.6M353.6 182.9L356 179.2L357.2 175.1L358.9 171.1L360.4 167.1M363.4 193.6L366.3 191.2L369.9 190.2L373.2 188.8L377 188.6L380.1 186.6L383.4 185L386.5 183.1L389.8 181.7M360.4 167.1L364.2 167.2L366.8 162.8L370.7 163.1L374.7 163.8L378 161.9M378 161.9L381.6 163.6L384.5 166.5L388.1 168.1M388.1 168.1L387.7 172L389.4 175.2L391.1 178.5M391.1 178.5L389.8 181.7M340.8 183.4L345 181.8L349.3 182.8L353.6 182.9M347.5 151.1L350.9 153.6L352.3 157.8L354.5 161.3L358 163.8L360.4 167.1M363.7 206.2L364.1 201.9L363.3 197.8L363.4 193.6M396 207.8L396.9 203.6L394.4 200.3L393.6 196.6L393 192.8L392.5 188.9L391.3 185.3L389.8 181.7M375.9 150.1L376.7 154L377.3 157.9L378 161.9M404.5 151.4L401.4 153.8L398.6 156.5L396.6 160L394 162.9L391 165.5L388.1 168.1M427.7 181.3L424.1 180.6L420.4 181.2L416.7 181.5L413.1 180.5L409.4 180.4L405.8 179.1L402.1 179.8L398.4 179.5L394.9 177L391.1 178.5M336.4 206.9L340.7 209.9L345.3 212.2M336.4 206.9L334.8 210.2L330.9 211.6L329.8 215.3L327.8 218.4L324.9 220.6M345.3 212.2L343.1 215.4L343.2 219.8L340.3 222.7L338.1 225.9L336.9 229.6M324.9 220.6L327.5 223.4L331.2 224.7L334.2 226.9L336.9 229.6M334.3 202.5L336.4 206.9M354.9 212.7L350.1 212.5L345.3 212.2M320 221.3L324.9 220.6M337.8 232.9L336.9 229.6M326 239.7L330.2 239.1L332.6 234.8L336.9 234.6M84.6 261.4L84.1 265.2L85.1 269M64.1 271.2L66.3 274.4L68.9 277.3M85.1 269L81.3 269.5L79.1 273.2L74.9 273L72.5 276.3L68.9 277.3M101 268.3L104.4 269.5L108 269.8L111.4 271M101 268.3L100.6 272.5L96.7 274L94.5 276.8M111.4 271L109.2 274L106.8 277L106.1 280.9L103.7 283.8M94.5 276.8L98.2 278.2L100.2 282L103.7 283.8M100 259.3L100.8 263.8L101 268.3M115.2 270.2L116.6 268.8M115.2 270.2L111.4 271M85.1 269L86.8 272.3L88.9 275.2L92.4 277M92.4 277L94.5 276.8M123.3 291.2L123 287.6L123.1 284.1M123.3 291.2L119 290.5L114.7 290.2L110.2 290.6L106.3 287.9M123.1 284.1L119.6 282.2L116.1 280.4M106.3 287.9L110 286L113.5 283.7L116.1 280.4M132.4 273.7L129.3 277.2L124.8 279.4L123.1 284.1M125.2 294.5L123.3 291.2M105 291.5L106.1 288M106.1 288L106.3 287.9M117.3 303.5L113.9 300.9L111.1 297.5L107.7 294.9L105 291.5M115.2 270.2L116.1 275.2L116.1 280.4M106.1 288L103.7 283.8M227 131.9L227.7 126.9L228.9 121.9M219.4 118.9L224.5 115.9M224.5 115.9L227.2 118.5L228.9 121.9M219.9 104.1L221.8 107.9L222.7 112L224.5 115.7M224.5 115.9L224.5 115.7M222.3 102.7L226.3 104.4L230.8 104.9L234.3 107.8L238.5 108.9M224.5 115.7L227.7 113.3L231.7 112.7L235 110.7L238.5 108.9M247.9 122.2L245.7 118.8M228.9 121.9L232.8 119.4L237.1 119.4L241.7 120.5L245.7 118.8M258.8 224.5L254.5 226.9L249.8 228.1M244.4 212.3L243.2 214.8M243.2 214.8L245.4 217.9L246.8 221.3L248 224.9L249.8 228.1M227.2 275.6L231 271M226.6 277.9L227.2 275.6M251.5 289.4L251.3 285.3L249.7 281.4L250.8 277L248 273.4L247.7 269.2M231 271L235.2 270.2L239.4 270L243.6 269.8L247.7 269.2M266 264.1L262.3 262.5L258.5 261.4L254.6 263.7L250.8 263.2M250.8 263.2L247.7 269.2M149.5 266.4L152.5 266M161.8 283.4L163.3 280.4M163.3 280.4L161 277.6L159.5 274.3L156.7 271.8L155.3 268.4L152.5 266M158.7 246.1L159.9 250L158.2 254.1L161.3 257.9L159.4 262M152.5 266L156.2 264.4L159.4 262M163.3 280.4L166.8 278.2L169.3 275M159.4 262L162 265.5L166.2 264.5M169.3 275L167.4 271.7L167.9 267.8L166.2 264.5M209.1 296.3L206.4 297.3M220.9 316.3L217.5 313.6L213.1 312.9L210 309.8L205.9 308.7L202.6 306M206.4 297.3L205.5 302L202.6 306M199.1 318L198.1 314.4L199.8 311.1L200.4 307.6M200.4 307.6L202.6 306M180.4 308.9L182.8 305.7L186.4 304.1M200.4 307.6L196.4 308.6L193.5 305.6L189.5 306.5L186.4 304.1M164.3 294.9L168.1 294.3L171.6 292.5L174.8 290.3L178.2 288.2L182 287.5L185.9 287M186.4 304.1L185 299.9L185.8 295.6L185.7 291.3L185.9 287M312.7 274.1L316.8 275.9L319.8 271L323.7 271.8L327.6 272.3L331.2 271.2M322.7 253L326.2 256.8L330.9 259M331.2 271.2L332.4 267.1L330 263.1L330.9 259M341.9 248.6L340.6 254.2M330.9 259L334.4 258.1L336.2 253.3L340.6 254.2M364.1 240.1L362.5 243.5L359.8 246.3L358.2 249.6L358.2 253.9L355.9 256.9L353.4 259.8M340.6 254.2L345.7 254.2L349.4 257.3L353.4 259.8M367.2 271.5L363.1 271.1L360.3 268.2L356.6 266.9M353.4 259.8L355.7 263L356.6 266.9M331.2 271.2L331.8 272.1M356.6 266.9L353.2 268.6L350.4 271.4L347.4 273.8L344.1 275.8M344.1 275.8L340.5 272.9L336.2 272.2L331.8 272.1M375.2 283.8L372.7 286.6L368.3 285.9L365.5 288.2L362.1 289.4L359.4 291.8L357.3 295.4L353.5 295.9L350.2 297.2M344.1 275.8L347.4 278.7L347.5 282.6L347.8 286.3L347 290.4L349.2 293.7L350.2 297.2M352.8 317.8L352 314.3L351.5 310.7L349 307.8L349.9 303.8L347.9 300.7M347.9 300.7L350.2 297.2M69.2 311.7L71 307.8L72.5 303.7M53.3 295L58.2 293L63.5 292.8M72.5 303.7L69.8 301.3L67.8 298.4L66.2 295.1L63.5 292.8M68.9 277.3L70.1 282.6M63.5 292.8L66.9 290.1L67.6 285.8L70.1 282.6M244.7 114.2L241.6 111.7L238.7 108.8M244.7 114.2L248.8 112.2L252.5 109.9L254.2 105.8L255.5 101.5M238.7 108.8L238.8 104.8L238.1 100.7L238.3 96.7M255.5 101.5L255 97.8L253.4 94.4L251.9 91M238.3 96.7L242.9 91.6M251.9 91L247.5 92L242.9 91.6M245.7 118.8L244.7 114.2M238.5 108.9L238.7 108.8M268.5 106.8L264.7 103.8L260.8 101L255.5 101.5M227.5 95.4L231.2 95L234.8 95.5L238.3 96.7M252.2 90.7L251.9 91M231.8 76.2L234.5 79L237.3 81.6L237.9 85.9L241.9 87.7L242.9 91.6M230.1 208.6L229.8 212.6L230.7 216.4M243.2 214.8L239.1 215.1L235.1 215.4L231.2 216.7M230.7 216.4L231.2 216.7M209.5 211.6L213 215.4L213.9 220.6M230.7 216.4L226.5 217.3L222.2 218.2L217.9 218.7L213.9 220.6M195.2 231L198.8 230.7L202.2 229.2L206 230.2L209.6 229.8L212.9 227.9M213.9 220.6L212.1 224.1L212.9 227.9M192.1 240.4L195.9 241.8L198.7 244.9L202.8 245.6L205.7 248.4M211.3 243.2L208.6 245.9L205.7 248.4M211.3 243.2L212.6 239.7L211 235.8L215.6 232.7L213.4 228.7M212.9 227.9L213.4 228.7M229.8 249.7L226.8 255.1M226.8 255.1L223 255.4L220.4 258.6L216.8 259.3M205.8 249.8L205.7 248.4M211.3 243.2L215.2 244L218.7 245.7L222.5 246.9L226.5 247.3L229.8 249.7M205.8 249.8L208.2 253L210.4 256.3M210.4 256.3L216.8 259.3M231 271L228.5 267.5L228.3 263.2L229.5 258.6L226.8 255.1M227.2 275.6L224.3 273.5L221.3 271.6L219.6 268L215.8 267.1M216.8 259.3L216 263.2L215.8 267.1M218.9 285.2L216.4 282.5L212.9 281.3L211.1 277.9L207.4 276.9L204.7 274.5M215.8 267.1L211.7 268.8L208.1 271.5L204.7 274.5M271.4 242.6L266.9 241.8L262.8 243.4L258.7 245.2L254.4 246M250.8 263.2L248.6 260L248.4 256.2M254.4 246L252.7 249.6L251 253.2L248.4 256.2M162.4 243.7L164.4 247L168.4 247.5L172.3 248.2L173.8 252.1M166.2 264.5L170 262L173.3 259M173.8 252.1L173.3 259M187.3 243.1L185.7 247M173.8 252.1L178.1 251.1L181.4 247.8L185.7 247M321.6 288.2L325 285.5L326.3 281.1L330.1 278.8M321.6 288.2L324 291.5L326.9 294.4L329.1 297.9L331.9 300.9M330.1 278.8L331.5 282.5L334.2 285.4L334.6 289.6L337.5 292.4L338.7 296.2L340.6 299.6M331.9 300.9L336.4 301.6L340.6 299.6M314.2 287.9L318 287.1L321.6 288.2M331.8 272.1L330.1 278.8M320.3 309.9L323.2 307.7L327.1 306.6L329.8 304.1L331.9 300.9M347.9 300.7L344.1 300.8L340.6 299.6M87.4 311.1L85.2 308.1L84.1 304.6M101.2 308.2L100.6 303L99 298.1M99 298.1L95.6 300.3L91.5 301.3L88.4 304.2L84.1 304.6M105 291.5L101.8 293.4L99.4 296.2M99 298.1L99.4 296.2M72.5 303.7L76.5 301.3L81.1 302.1M84.1 304.6L81.1 302.1M88.1 282.8L83.1 284L78.2 285.4M88.1 282.8L89.1 287.6L91.3 292M78.2 285.4L80.2 289.5L82.3 293.6L82.1 298.4M91.3 292L89 295.2L86.3 297.8L82.1 298.4M92.4 277L88.8 278.8L88.1 282.8M70.1 282.6L74.8 282.2L78.2 285.4M99.4 296.2L94.8 295.3L91.3 292M81.1 302.1L82.1 298.4M247.6 230.8L243.2 229.6L238.7 229L234.2 228.1M247.6 230.8L247.6 230.9M247.6 230.9L244.4 233.3L241.8 236.2L240.1 239.8L238.1 243.2L236.1 246.6L233.3 249.3M234.2 228.1L230.9 231.3L227.4 234.2M227.4 234.2L227.3 238.1L228.4 241.8L229.1 245.6L230.5 249.2M230.5 249.2L233.3 249.3M249.8 228.1L247.6 230.8M231.2 216.7L233.8 220.1L233.9 224.1L234.2 228.1M254.4 246L252.1 242.5L250.5 238.7L248.3 235.1L247.6 230.9M248.4 256.2L244.9 253.9L241.3 251.8L237.8 249.4L233.3 249.3M213.4 228.7L217.1 229.6L220.4 231.4L223.9 232.9L227.4 234.2M229.8 249.7L230.5 249.2M173.3 259L176.7 261.2L180.4 262.7L183.3 265.6M169.3 275L172.9 276.2L176.9 273.8L180.4 276.2M183.3 265.6L182.8 269.2L183.2 273.2L180.4 276.2M210.4 256.3L207.6 259.5L206.9 264.2L204.4 267.6L201.1 270.4M204.7 274.5L202.4 274.2M201.1 270.4L202.4 274.2M206.4 297.3L203.8 294.6L200.6 292.7L199.1 289.1L196.1 286.9L193.9 284M202.4 274.2L198.1 276.2L197.7 281.5L193.9 284M185.9 287L187 285.2M180.4 276.2L183.3 278.7L184.3 282.5L187 285.2M187 285.2L190.5 284.7L193.9 284M187.4 252L186.3 255.9L186.4 260.1L185.5 264.1M187.4 252L190.5 254.7L194.3 256L197.9 257.6M185.5 264.1L189.2 266L193.4 263.9L197.1 265.8M197.9 257.6L197.3 261.6L197.1 265.8M185.7 247L187.4 252M183.3 265.6L185.5 264.1M205.8 249.8L203.3 252.5L200.3 254.7L197.9 257.6M201.1 270.4L197.1 265.8"/></defs><use href="#rdg" fill="none" stroke="#d6eebf" stroke-width="1.25" stroke-opacity="0.95" stroke-linejoin="round"/>
<path fill="#ededee" d="M325.9 0L327.5 6.3L374.7 15.8L367 25.2L374.7 31.5L381 30L390.5 36.2L393.7 44.1L392 53.6L393.7 59.9L392 69.3L403 72.5L417.3 69.3L428.3 63L433 53.6L441 50.4L439.3 56.7L434.6 66.2L441 74L442.5 89.8L450.4 93L560 110L605 150L605 0Z"/><path fill="#e9d03b" d="M378 27L376.2 28.8L379.8 30.6L376.2 32.4L374.4 32.4L370.8 34.2L372.6 36L372.6 37.8L372.6 39.6L367.2 37.8L369 41.4L369 43.2L365.4 43.2L363.6 43.2L360 43.2L360 45L358.2 46.8L356.4 45L354.6 46.8L352.8 48.6L351 48.6L349.2 46.8L347.4 45L343.8 45L342 45L340.2 43.2L338.4 41.4L336.6 43.2L336.6 41.4L333 41.4L331.2 43.2L327.6 43.2L325.8 41.4L324 39.6L325.8 37.8L322.2 37.8L324 36L320.4 36L318.6 34.2L318.6 32.4L316.8 32.4L316.8 30.6L315 28.8L315 27L315 25.2L316.8 25.2L313.2 23.4L318.6 21.6L313.2 19.8L313.2 18L316.8 18L318.6 16.2L320.4 14.4L322.2 14.4L324 12.6L325.8 12.6L327.6 10.8L327.6 9L331.2 10.8L331.2 7.2L334.8 9L336.6 9L338.4 9L340.2 9L342 9L345.6 10.8L345.6 12.6L347.4 12.6L349.2 10.8L351 12.6L352.8 12.6L354.6 12.6L356.4 12.6L358.2 12.6L360 12.6L361.8 12.6L365.4 12.6L367.2 12.6L367.2 14.4L370.8 14.4L370.8 16.2L370.8 18L372.6 19.8L372.6 21.6L372.6 23.4L374.4 25.2ZM286.2 86.4L286.2 88.2L286.2 90L284.4 91.8L286.2 95.4L284.4 97.2L284.4 99L284.4 100.8L280.8 102.6L282.6 106.2L280.8 108L279 108L277.2 109.8L273.6 108L273.6 111.6L271.8 113.4L270 113.4L268.2 113.4L266.4 115.2L262.8 113.4L261 113.4L259.2 113.4L257.4 113.4L255.6 111.6L253.8 109.8L252 111.6L250.2 109.8L248.4 111.6L246.6 113.4L244.8 111.6L243 111.6L239.4 111.6L237.6 109.8L237.6 108L237.6 104.4L237.6 102.6L234 102.6L232.2 102.6L230.4 100.8L230.4 97.2L226.8 97.2L226.8 95.4L225 93.6L225 91.8L223.2 88.2L223.2 86.4L223.2 84.6L225 82.8L223.2 79.2L225 77.4L225 75.6L225 72L226.8 72L230.4 70.2L232.2 68.4L234 66.6L235.8 66.6L235.8 64.8L241.2 66.6L243 66.6L243 63L244.8 63L248.4 64.8L248.4 63L250.2 63L252 63L253.8 63L255.6 61.2L257.4 61.2L259.2 61.2L261 59.4L262.8 59.4L266.4 57.6L268.2 59.4L270 57.6L273.6 59.4L275.4 59.4L275.4 63L279 61.2L279 66.6L282.6 64.8L282.6 66.6L284.4 70.2L282.6 72L284.4 73.8L282.6 77.4L284.4 79.2L286.2 81L286.2 82.8L288 84.6ZM208.8 117L212.4 118.8L210.6 122.4L212.4 124.2L212.4 127.8L208.8 129.6L205.2 131.4L201.6 131.4L199.8 133.2L198 135L196.2 136.8L196.2 138.6L192.6 140.4L190.8 142.2L189 142.2L187.2 142.2L185.4 144L183.6 145.8L181.8 149.4L180 151.2L178.2 151.2L174.6 153L172.8 154.8L169.2 151.2L167.4 151.2L163.8 149.4L162 147.6L160.2 147.6L158.4 144L156.6 145.8L154.8 142.2L151.2 145.8L147.6 144L147.6 142.2L144 142.2L145.8 136.8L142.2 136.8L140.4 135L138.6 133.2L136.8 129.6L135 129.6L131.4 126L129.6 124.2L133.2 120.6L131.4 118.8L131.4 117L129.6 113.4L131.4 111.6L133.2 108L135 106.2L135 104.4L136.8 102.6L138.6 100.8L142.2 99L144 97.2L147.6 97.2L149.4 97.2L153 97.2L154.8 97.2L153 91.8L154.8 90L154.8 86.4L158.4 88.2L158.4 81L162 84.6L163.8 81L167.4 81L169.2 79.2L172.8 81L174.6 79.2L176.4 81L178.2 86.4L183.6 81L185.4 84.6L187.2 84.6L189 86.4L190.8 88.2L192.6 88.2L194.4 91.8L196.2 93.6L199.8 93.6L199.8 95.4L201.6 99L203.4 100.8L205.2 102.6L201.6 106.2L205.2 108L203.4 109.8L203.4 111.6L207 113.4ZM95.4 163.8L95.4 165.6L97.2 169.2L95.4 169.2L93.6 171L91.8 172.8L91.8 174.6L86.4 174.6L81 172.8L82.8 174.6L81 176.4L79.2 176.4L77.4 178.2L73.8 178.2L72 178.2L72 181.8L68.4 180L68.4 181.8L66.6 185.4L64.8 185.4L63 185.4L59.4 187.2L57.6 185.4L55.8 189L52.2 187.2L50.4 185.4L46.8 187.2L45 187.2L43.2 185.4L39.6 185.4L37.8 183.6L37.8 181.8L34.2 181.8L34.2 180L34.2 176.4L30.6 176.4L32.4 174.6L32.4 171L34.2 169.2L32.4 167.4L30.6 165.6L30.6 163.8L32.4 163.8L30.6 162L32.4 160.2L34.2 158.4L30.6 156.6L32.4 154.8L34.2 154.8L32.4 153L34.2 151.2L36 149.4L37.8 149.4L39.6 149.4L43.2 147.6L45 147.6L46.8 145.8L48.6 144L48.6 140.4L50.4 140.4L54 140.4L55.8 140.4L57.6 138.6L59.4 138.6L63 140.4L64.8 140.4L66.6 140.4L68.4 142.2L72 140.4L73.8 140.4L77.4 142.2L79.2 142.2L79.2 145.8L82.8 144L84.6 145.8L82.8 149.4L86.4 149.4L88.2 149.4L90 151.2L88.2 153L91.8 153L91.8 154.8L90 156.6L90 158.4L93.6 160.2L95.4 162ZM410.4 147.6L408.6 149.4L406.8 151.2L410.4 153L406.8 154.8L406.8 156.6L406.8 158.4L405 158.4L406.8 162L406.8 165.6L405 165.6L403.2 167.4L401.4 167.4L401.4 171L397.8 169.2L396 171L394.2 171L394.2 172.8L392.4 174.6L390.6 174.6L388.8 174.6L387 174.6L385.2 174.6L383.4 172.8L381.6 172.8L379.8 171L378 171L376.2 171L374.4 171L372.6 169.2L372.6 167.4L370.8 167.4L369 165.6L370.8 162L367.2 162L369 158.4L365.4 158.4L363.6 158.4L365.4 154.8L363.6 154.8L365.4 153L363.6 151.2L365.4 149.4L365.4 147.6L365.4 145.8L367.2 145.8L363.6 144L361.8 140.4L363.6 140.4L360 136.8L361.8 135L361.8 133.2L363.6 131.4L365.4 131.4L367.2 129.6L369 129.6L369 126L369 124.2L372.6 126L374.4 124.2L376.2 124.2L378 122.4L379.8 124.2L381.6 124.2L383.4 124.2L385.2 124.2L387 124.2L388.8 124.2L390.6 124.2L392.4 124.2L392.4 126L394.2 126L394.2 129.6L396 129.6L397.8 129.6L399.6 129.6L401.4 129.6L403.2 131.4L405 131.4L406.8 133.2L408.6 135L408.6 136.8L406.8 138.6L408.6 140.4L406.8 142.2L408.6 144L408.6 145.8ZM414 250.2L414 252L410.4 253.8L412.2 257.4L410.4 257.4L408.6 259.2L405 261L405 262.8L406.8 264.6L406.8 266.4L401.4 266.4L405 271.8L403.2 273.6L403.2 275.4L399.6 277.2L397.8 277.2L396 280.8L394.2 280.8L390.6 280.8L388.8 284.4L387 284.4L383.4 284.4L381.6 284.4L378 280.8L374.4 284.4L372.6 284.4L370.8 280.8L367.2 280.8L365.4 279L363.6 279L360 277.2L356.4 279L356.4 277.2L352.8 275.4L352.8 271.8L349.2 271.8L349.2 268.2L347.4 268.2L347.4 264.6L343.8 264.6L343.8 261L342 259.2L342 257.4L340.2 255.6L340.2 253.8L345.6 250.2L343.8 248.4L343.8 246.6L343.8 244.8L345.6 243L345.6 239.4L347.4 239.4L345.6 235.8L349.2 234L351 234L352.8 232.2L356.4 232.2L358.2 230.4L358.2 226.8L360 226.8L363.6 226.8L363.6 225L365.4 221.4L367.2 221.4L370.8 223.2L372.6 221.4L376.2 221.4L378 221.4L379.8 221.4L383.4 217.8L387 217.8L388.8 219.6L390.6 219.6L392.4 221.4L397.8 219.6L397.8 223.2L401.4 223.2L405 223.2L406.8 225L410.4 226.8L410.4 228.6L414 230.4L415.8 232.2L415.8 234L414 237.6L414 239.4L414 243L414 244.8L412.2 246.6L410.4 248.4ZM131.4 280.8L131.4 284.4L131.4 286.2L129.6 288L129.6 289.8L127.8 289.8L127.8 291.6L126 293.4L126 295.2L122.4 295.2L122.4 297L122.4 298.8L120.6 298.8L118.8 298.8L117 300.6L117 302.4L115.2 302.4L113.4 304.2L113.4 306L111.6 309.6L109.8 311.4L108 307.8L106.2 311.4L104.4 313.2L102.6 313.2L100.8 309.6L99 309.6L97.2 309.6L95.4 307.8L93.6 307.8L93.6 304.2L91.8 304.2L90 304.2L88.2 302.4L86.4 300.6L84.6 300.6L86.4 297L84.6 295.2L82.8 295.2L82.8 291.6L82.8 289.8L81 289.8L81 288L81 284.4L81 282.6L82.8 280.8L82.8 279L82.8 277.2L82.8 275.4L84.6 275.4L84.6 273.6L84.6 271.8L84.6 270L86.4 268.2L86.4 266.4L90 266.4L90 264.6L90 262.8L91.8 261L93.6 262.8L93.6 261L93.6 255.6L95.4 255.6L97.2 253.8L99 253.8L100.8 252L102.6 250.2L104.4 253.8L106.2 252L108 253.8L109.8 255.6L111.6 253.8L113.4 253.8L115.2 255.6L115.2 259.2L117 259.2L118.8 259.2L118.8 262.8L120.6 262.8L122.4 262.8L124.2 264.6L126 266.4L127.8 266.4L129.6 268.2L127.8 270L129.6 271.8L131.4 273.6L129.6 275.4L131.4 277.2L131.4 279ZM81 340.2L82.8 342L82.8 343.8L79.2 343.8L79.2 345.6L77.4 347.4L79.2 349.2L81 351L81 352.8L82.8 356.4L82.8 360L81 360L79.2 363.6L75.6 361.8L75.6 363.6L73.8 365.4L72 365.4L70.2 367.2L68.4 369L64.8 369L63 369L61.2 369L59.4 370.8L57.6 369L55.8 367.2L54 365.4L50.4 367.2L50.4 365.4L48.6 363.6L46.8 363.6L45 361.8L43.2 360L43.2 358.2L41.4 356.4L41.4 354.6L39.6 354.6L37.8 352.8L36 351L34.2 349.2L32.4 349.2L32.4 347.4L32.4 345.6L34.2 342L34.2 340.2L32.4 340.2L34.2 338.4L32.4 336.6L36 334.8L34.2 333L32.4 329.4L30.6 327.6L34.2 327.6L32.4 324L36 324L36 320.4L36 318.6L37.8 316.8L39.6 316.8L43.2 316.8L43.2 313.2L45 311.4L46.8 311.4L48.6 311.4L52.2 313.2L54 313.2L55.8 313.2L57.6 313.2L59.4 315L61.2 311.4L63 315L64.8 311.4L66.6 311.4L68.4 315L70.2 316.8L72 316.8L73.8 316.8L75.6 318.6L75.6 320.4L77.4 322.2L77.4 324L81 324L82.8 324L82.8 327.6L82.8 329.4L82.8 331.2L81 333L84.6 334.8L82.8 336.6L82.8 338.4ZM176.4 347.4L174.6 349.2L174.6 352.8L172.8 354.6L169.2 356.4L169.2 358.2L167.4 360L165.6 361.8L167.4 363.6L165.6 365.4L165.6 369L165.6 370.8L163.8 372.6L163.8 376.2L162 378L160.2 378L158.4 379.8L154.8 379.8L154.8 383.4L151.2 381.6L149.4 381.6L147.6 388.8L145.8 388.8L142.2 387L140.4 387L138.6 387L136.8 385.2L133.2 383.4L131.4 383.4L131.4 378L127.8 378L129.6 372.6L126 372.6L126 369L124.2 369L124.2 367.2L124.2 365.4L124.2 361.8L122.4 360L118.8 360L117 358.2L117 356.4L113.4 354.6L113.4 352.8L113.4 349.2L115.2 347.4L113.4 345.6L115.2 342L115.2 340.2L115.2 338.4L115.2 336.6L115.2 333L117 331.2L117 327.6L117 325.8L118.8 324L120.6 322.2L122.4 318.6L122.4 316.8L127.8 320.4L127.8 315L129.6 313.2L131.4 313.2L133.2 311.4L136.8 316.8L138.6 311.4L140.4 313.2L142.2 315L145.8 316.8L147.6 311.4L149.4 313.2L151.2 313.2L153 313.2L154.8 315L156.6 316.8L158.4 316.8L160.2 320.4L162 322.2L162 325.8L163.8 325.8L165.6 325.8L165.6 329.4L171 327.6L174.6 329.4L174.6 333L174.6 334.8L174.6 338.4L176.4 340.2L176.4 342L172.8 345.6ZM480.6 363.6L482.4 365.4L482.4 367.2L482.4 369L480.6 370.8L478.8 372.6L477 374.4L473.4 374.4L475.2 376.2L473.4 376.2L473.4 379.8L469.8 378L469.8 381.6L468 381.6L466.2 379.8L466.2 383.4L464.4 383.4L462.6 383.4L460.8 381.6L459 383.4L457.2 383.4L455.4 383.4L453.6 381.6L450 383.4L448.2 381.6L446.4 383.4L444.6 381.6L441 383.4L441 381.6L437.4 383.4L435.6 383.4L433.8 381.6L433.8 379.8L432 378L430.2 376.2L430.2 374.4L430.2 372.6L426.6 370.8L426.6 369L424.8 367.2L428.4 365.4L426.6 363.6L426.6 361.8L428.4 361.8L432 360L430.2 358.2L432 356.4L432 354.6L433.8 354.6L437.4 354.6L435.6 352.8L437.4 352.8L439.2 351L441 351L442.8 351L444.6 349.2L444.6 347.4L444.6 345.6L446.4 345.6L448.2 345.6L448.2 343.8L450 343.8L451.8 343.8L453.6 345.6L455.4 343.8L457.2 345.6L459 343.8L460.8 343.8L464.4 342L466.2 342L466.2 343.8L469.8 342L471.6 343.8L471.6 345.6L475.2 345.6L477 347.4L477 349.2L478.8 349.2L478.8 351L478.8 352.8L478.8 354.6L477 356.4L478.8 358.2L478.8 360L478.8 361.8ZM226.8 235.8L228.6 237.6L228.6 239.4L225 241.2L226.8 243L226.8 244.8L225 246.6L223.2 248.4L221.4 248.4L221.4 252L219.6 252L219.6 253.8L216 253.8L214.2 253.8L214.2 255.6L212.4 257.4L210.6 257.4L210.6 259.2L208.8 261L207 261L205.2 261L201.6 259.2L201.6 261L199.8 261L198 261L196.2 261L194.4 261L190.8 261L190.8 259.2L189 257.4L187.2 257.4L187.2 253.8L185.4 253.8L183.6 253.8L183.6 252L183.6 248.4L180 250.2L180 248.4L178.2 246.6L176.4 246.6L174.6 244.8L174.6 243L174.6 241.2L176.4 239.4L172.8 237.6L169.2 235.8L169.2 234L167.4 232.2L171 230.4L169.2 226.8L171 226.8L174.6 225L174.6 223.2L178.2 223.2L178.2 221.4L178.2 219.6L181.8 219.6L181.8 216L183.6 216L185.4 216L187.2 216L189 216L190.8 216L192.6 214.2L194.4 214.2L196.2 214.2L198 212.4L199.8 214.2L201.6 210.6L203.4 212.4L205.2 210.6L205.2 212.4L208.8 212.4L210.6 212.4L212.4 212.4L214.2 212.4L214.2 216L217.8 214.2L217.8 216L219.6 217.8L221.4 219.6L221.4 221.4L221.4 223.2L221.4 225L225 225L225 226.8L228.6 228.6L228.6 230.4L228.6 232.2L225 234ZM133.2 118.8L133.2 120.6L135 120.6L135 122.4L136.8 124.2L135 126L135 127.8L131.4 127.8L133.2 129.6L131.4 129.6L131.4 131.4L127.8 129.6L126 129.6L127.8 131.4L126 133.2L124.2 131.4L122.4 133.2L122.4 135L120.6 136.8L118.8 136.8L118.8 138.6L117 140.4L115.2 138.6L113.4 140.4L111.6 140.4L109.8 140.4L109.8 136.8L108 138.6L106.2 136.8L104.4 136.8L100.8 136.8L100.8 135L100.8 133.2L99 133.2L99 131.4L99 129.6L99 127.8L99 126L100.8 124.2L99 124.2L99 122.4L99 120.6L99 118.8L100.8 118.8L100.8 117L99 115.2L100.8 115.2L99 113.4L99 111.6L99 109.8L100.8 109.8L100.8 106.2L102.6 106.2L104.4 106.2L106.2 104.4L108 102.6L108 100.8L109.8 100.8L111.6 100.8L111.6 97.2L113.4 99L115.2 97.2L117 99L118.8 99L120.6 99L120.6 100.8L122.4 100.8L124.2 99L126 100.8L126 102.6L127.8 102.6L129.6 102.6L129.6 106.2L131.4 106.2L133.2 108L131.4 109.8L133.2 109.8L135 111.6L133.2 113.4L135 113.4L133.2 115.2L133.2 117L131.4 118.8ZM16.2 264.6L16.2 266.4L16.2 268.2L16.2 270L16.2 271.8L14.4 271.8L14.4 273.6L14.4 277.2L12.6 275.4L12.6 277.2L12.6 279L10.8 279L10.8 280.8L9 280.8L7.2 282.6L5.4 282.6L5.4 284.4L3.6 284.4L3.6 286.2L1.8 284.4L1.8 286.2L0 282.6L0 284.4L-1.8 282.6L-3.6 280.8L-5.4 280.8L-7.2 279L-7.2 277.2L-9 277.2L-10.8 277.2L-10.8 275.4L-12.6 273.6L-12.6 271.8L-12.6 270L-12.6 268.2L-12.6 266.4L-12.6 264.6L-12.6 262.8L-12.6 261L-12.6 259.2L-12.6 257.4L-12.6 255.6L-10.8 253.8L-9 252L-7.2 250.2L-5.4 250.2L-3.6 248.4L-3.6 246.6L-1.8 246.6L-1.8 244.8L0 243L0 241.2L1.8 241.2L3.6 239.4L3.6 243L5.4 241.2L5.4 244.8L7.2 243L7.2 244.8L9 244.8L9 246.6L10.8 246.6L10.8 248.4L12.6 248.4L12.6 250.2L14.4 250.2L14.4 252L14.4 253.8L14.4 255.6L14.4 257.4L14.4 259.2L16.2 259.2L16.2 261L16.2 262.8ZM14.4 361.8L16.2 363.6L14.4 365.4L16.2 367.2L16.2 369L16.2 370.8L14.4 372.6L14.4 376.2L14.4 378L12.6 381.6L12.6 383.4L10.8 383.4L10.8 385.2L10.8 387L9 388.8L7.2 385.2L5.4 388.8L5.4 387L3.6 387L1.8 387L0 387L0 388.8L-1.8 388.8L-3.6 387L-3.6 385.2L-5.4 385.2L-7.2 383.4L-7.2 381.6L-7.2 379.8L-7.2 378L-7.2 376.2L-9 374.4L-7.2 370.8L-9 370.8L-9 369L-10.8 367.2L-12.6 365.4L-14.4 363.6L-14.4 361.8L-14.4 360L-14.4 358.2L-14.4 356.4L-12.6 354.6L-12.6 352.8L-10.8 351L-10.8 349.2L-10.8 345.6L-7.2 347.4L-9 343.8L-9 342L-7.2 342L-7.2 340.2L-5.4 340.2L-3.6 340.2L-1.8 338.4L0 336.6L1.8 338.4L1.8 334.8L3.6 336.6L5.4 336.6L7.2 336.6L9 334.8L9 338.4L12.6 336.6L12.6 340.2L12.6 342L12.6 343.8L12.6 345.6L12.6 349.2L12.6 351L14.4 352.8L14.4 354.6L14.4 356.4L16.2 358.2L16.2 360ZM198 172.8L199.8 171L205.2 171L203.4 167.4L205.2 162L207 158.4L212.4 154.8L214.2 154.8L216 153L219.6 154.8L223.2 153L228.6 154.8L228.6 147.6L234 149.4L235.8 145.8L241.2 149.4L243 144L246.6 140.4L250.2 140.4L253.8 140.4L257.4 140.4L261 142.2L262.8 142.2L264.6 135L268.2 133.2L270 131.4L271.8 129.6L273.6 126L275.4 122.4L277.2 120.6L279 127.8L284.4 120.6L288 118.8L286.2 127.8L289.8 127.8L293.4 127.8L295.2 129.6L297 133.2L297 136.8L300.6 136.8L304.2 138.6L306 138.6L307.8 144L309.6 145.8L311.4 149.4L307.8 156.6L311.4 156.6L318.6 154.8L318.6 158.4L320.4 160.2L318.6 163.8L329.4 160.2L331.2 162L331.2 163.8L333 165.6L329.4 169.2L333 169.2L334.8 171L331.2 174.6L331.2 176.4L331.2 178.2L327.6 181.8L322.2 187.2L324 189L324 192.6L327.6 196.2L324 199.8L316.8 201.6L318.6 205.2L318.6 208.8L320.4 212.4L315 214.2L313.2 216L315 219.6L309.6 219.6L311.4 225L307.8 228.6L304.2 230.4L306 235.8L302.4 237.6L302.4 243L300.6 244.8L297 244.8L291.6 243L293.4 246.6L289.8 243L288 248.4L284.4 252L282.6 255.6L282.6 259.2L279 257.4L277.2 259.2L275.4 261L271.8 257.4L270 257.4L266.4 257.4L262.8 259.2L261 259.2L257.4 259.2L255.6 253.8L252 259.2L250.2 259.2L248.4 252L243 257.4L239.4 259.2L239.4 257.4L234 259.2L234 255.6L230.4 257.4L226.8 261L225 261L221.4 261L221.4 259.2L216 259.2L212.4 259.2L208.8 257.4L208.8 252L198 255.6L194.4 255.6L192.6 252L189 248.4L189 243L187.2 239.4L190.8 232.2L183.6 230.4L187.2 226.8L187.2 223.2L192.6 219.6L190.8 217.8L199.8 212.4L196.2 212.4L198 210.6L201.6 208.8L203.4 203.4L201.6 199.8L205.2 196.2L201.6 192.6L201.6 189L203.4 187.2L196.2 183.6L192.6 180L194.4 178.2L194.4 176.4L190.8 172.8Z"/>
<path fill="#f0a020" d="M358.2 27L358.2 28.8L356.4 28.8L358.2 30.6L358.2 32.4L354.6 30.6L354.6 32.4L358.2 34.2L356.4 36L354.6 36L356.4 36L352.8 36L352.8 37.8L351 34.2L351 37.8L349.2 37.8L349.2 39.6L347.4 37.8L345.6 39.6L345.6 37.8L343.8 39.6L343.8 36L342 37.8L340.2 39.6L338.4 39.6L338.4 37.8L336.6 37.8L336.6 36L333 37.8L331.2 37.8L331.2 36L329.4 36L327.6 36L327.6 34.2L327.6 32.4L329.4 30.6L331.2 28.8L333 27L334.8 25.2L333 25.2L331.2 23.4L334.8 23.4L333 21.6L334.8 21.6L334.8 19.8L334.8 18L336.6 18L338.4 18L340.2 16.2L342 16.2L342 14.4L343.8 14.4L345.6 12.6L347.4 14.4L349.2 14.4L349.2 16.2L352.8 14.4L354.6 12.6L354.6 14.4L356.4 14.4L360 14.4L360 16.2L361.8 16.2L360 18L361.8 19.8L360 21.6L358.2 21.6L361.8 21.6L360 23.4L358.2 25.2L356.4 25.2ZM273.6 86.4L271.8 88.2L273.6 88.2L273.6 90L273.6 91.8L270 91.8L271.8 93.6L266.4 91.8L268.2 95.4L266.4 95.4L266.4 97.2L264.6 97.2L264.6 99L262.8 100.8L261 99L259.2 99L257.4 97.2L257.4 100.8L255.6 99L255.6 95.4L253.8 99L253.8 95.4L252 97.2L250.2 97.2L248.4 97.2L246.6 97.2L244.8 97.2L243 97.2L241.2 97.2L239.4 95.4L239.4 93.6L241.2 91.8L239.4 91.8L239.4 90L239.4 88.2L235.8 86.4L239.4 86.4L235.8 84.6L234 82.8L235.8 81L237.6 81L239.4 79.2L237.6 77.4L237.6 75.6L239.4 73.8L241.2 73.8L243 73.8L244.8 73.8L246.6 75.6L248.4 73.8L250.2 75.6L250.2 73.8L252 72L252 73.8L253.8 73.8L255.6 77.4L255.6 75.6L257.4 75.6L257.4 77.4L259.2 73.8L261 73.8L262.8 70.2L264.6 72L266.4 70.2L266.4 72L268.2 72L270 72L271.8 73.8L273.6 73.8L273.6 75.6L273.6 77.4L273.6 79.2L271.8 81L271.8 82.8L273.6 82.8L271.8 84.6ZM196.2 115.2L194.4 117L189 118.8L194.4 120.6L194.4 122.4L196.2 124.2L196.2 126L194.4 127.8L194.4 129.6L194.4 131.4L194.4 135L190.8 133.2L189 135L187.2 135L187.2 138.6L185.4 140.4L180 136.8L180 138.6L180 144L178.2 142.2L174.6 136.8L172.8 140.4L171 135L169.2 136.8L169.2 135L167.4 135L165.6 135L163.8 135L163.8 133.2L162 135L162 127.8L160.2 131.4L160.2 127.8L156.6 129.6L154.8 127.8L153 127.8L153 126L149.4 126L149.4 124.2L153 120.6L149.4 120.6L147.6 118.8L147.6 117L149.4 115.2L144 113.4L145.8 111.6L142.2 108L145.8 106.2L144 104.4L147.6 104.4L145.8 100.8L149.4 100.8L147.6 97.2L147.6 95.4L151.2 95.4L153 93.6L156.6 95.4L156.6 93.6L158.4 91.8L162 97.2L163.8 93.6L163.8 91.8L167.4 99L167.4 93.6L169.2 91.8L171 93.6L172.8 97.2L174.6 97.2L174.6 99L176.4 99L178.2 100.8L180 99L183.6 97.2L185.4 97.2L187.2 99L187.2 102.6L185.4 106.2L190.8 104.4L192.6 104.4L190.8 108L194.4 108L190.8 109.8L189 111.6L194.4 113.4L192.6 115.2ZM77.4 163.8L79.2 163.8L82.8 165.6L81 165.6L81 167.4L82.8 167.4L81 169.2L82.8 171L81 171L79.2 171L75.6 171L73.8 171L72 171L72 172.8L70.2 172.8L70.2 174.6L68.4 176.4L68.4 178.2L66.6 178.2L64.8 174.6L63 178.2L61.2 178.2L59.4 176.4L59.4 178.2L57.6 178.2L55.8 176.4L54 176.4L54 174.6L50.4 176.4L50.4 174.6L48.6 174.6L48.6 172.8L46.8 172.8L48.6 171L45 171L43.2 171L43.2 169.2L41.4 169.2L43.2 167.4L45 165.6L46.8 163.8L45 163.8L41.4 162L39.6 160.2L41.4 160.2L41.4 158.4L43.2 158.4L46.8 158.4L45 156.6L43.2 154.8L45 154.8L45 153L46.8 153L48.6 153L48.6 151.2L50.4 151.2L52.2 151.2L52.2 147.6L54 149.4L55.8 149.4L57.6 147.6L57.6 145.8L59.4 149.4L61.2 145.8L63 145.8L64.8 147.6L66.6 149.4L66.6 153L68.4 153L68.4 154.8L72 153L73.8 153L73.8 154.8L77.4 153L75.6 156.6L73.8 158.4L77.4 156.6L77.4 158.4L79.2 158.4L75.6 160.2L81 160.2L79.2 162L81 162ZM401.4 149.4L401.4 151.2L399.6 151.2L397.8 151.2L399.6 153L397.8 153L397.8 154.8L396 154.8L394.2 154.8L392.4 154.8L394.2 156.6L394.2 158.4L392.4 158.4L392.4 160.2L392.4 162L390.6 160.2L388.8 160.2L387 158.4L387 162L385.2 162L385.2 163.8L383.4 165.6L381.6 163.8L379.8 163.8L378 163.8L378 162L376.2 162L374.4 162L372.6 160.2L372.6 158.4L374.4 154.8L374.4 153L376.2 153L376.2 151.2L378 151.2L374.4 151.2L372.6 149.4L374.4 147.6L376.2 145.8L374.4 145.8L376.2 145.8L378 145.8L376.2 144L374.4 140.4L376.2 140.4L378 140.4L376.2 138.6L379.8 138.6L379.8 136.8L381.6 138.6L381.6 136.8L383.4 135L385.2 136.8L385.2 135L387 138.6L387 136.8L388.8 136.8L390.6 136.8L392.4 136.8L394.2 135L396 136.8L394.2 138.6L397.8 136.8L397.8 140.4L399.6 138.6L397.8 142.2L399.6 142.2L401.4 142.2L403.2 142.2L401.4 144L401.4 145.8L399.6 147.6ZM408.6 250.2L405 252L405 253.8L399.6 253.8L397.8 255.6L397.8 257.4L394.2 257.4L390.6 257.4L396 262.8L394.2 262.8L394.2 264.6L390.6 262.8L388.8 261L390.6 266.4L388.8 268.2L387 266.4L385.2 266.4L385.2 270L383.4 271.8L381.6 268.2L381.6 271.8L379.8 271.8L378 273.6L376.2 268.2L374.4 270L370.8 275.4L369 273.6L367.2 273.6L367.2 271.8L361.8 273.6L361.8 271.8L365.4 264.6L363.6 264.6L360 264.6L365.4 259.2L360 262.8L356.4 262.8L354.6 261L354.6 259.2L356.4 257.4L356.4 255.6L356.4 253.8L358.2 252L356.4 250.2L360 248.4L360 246.6L363.6 246.6L365.4 244.8L365.4 243L365.4 241.2L367.2 241.2L367.2 239.4L365.4 237.6L367.2 237.6L365.4 234L367.2 234L369 232.2L369 228.6L369 226.8L372.6 230.4L374.4 228.6L376.2 234L378 228.6L379.8 226.8L381.6 228.6L381.6 230.4L383.4 232.2L387 226.8L388.8 226.8L388.8 228.6L392.4 226.8L392.4 230.4L392.4 234L396 232.2L394.2 235.8L396 235.8L399.6 235.8L399.6 237.6L397.8 239.4L401.4 239.4L401.4 241.2L401.4 243L405 243L405 244.8L406.8 246.6L405 248.4ZM117 280.8L118.8 282.6L117 282.6L118.8 284.4L117 284.4L117 286.2L115.2 286.2L115.2 288L113.4 286.2L115.2 289.8L117 291.6L115.2 291.6L113.4 291.6L113.4 293.4L111.6 293.4L111.6 295.2L111.6 298.8L109.8 298.8L108 298.8L106.2 298.8L106.2 297L104.4 298.8L104.4 293.4L102.6 297L100.8 297L100.8 295.2L99 293.4L99 291.6L97.2 295.2L97.2 293.4L95.4 293.4L95.4 289.8L93.6 291.6L91.8 291.6L93.6 289.8L93.6 288L93.6 286.2L91.8 286.2L93.6 284.4L93.6 282.6L90 282.6L91.8 280.8L90 280.8L93.6 279L91.8 277.2L93.6 277.2L93.6 275.4L95.4 275.4L93.6 273.6L95.4 271.8L97.2 271.8L97.2 270L97.2 268.2L97.2 266.4L99 264.6L100.8 262.8L102.6 264.6L102.6 262.8L104.4 264.6L106.2 264.6L108 262.8L108 266.4L109.8 264.6L111.6 264.6L113.4 264.6L113.4 266.4L113.4 268.2L115.2 268.2L115.2 271.8L115.2 273.6L117 273.6L117 275.4L117 277.2L115.2 277.2L113.4 279L115.2 279L117 280.8ZM70.2 338.4L73.8 340.2L72 342L70.2 342L70.2 343.8L72 343.8L70.2 345.6L70.2 347.4L68.4 347.4L72 351L72 352.8L70.2 352.8L68.4 354.6L66.6 356.4L64.8 354.6L63 352.8L63 356.4L61.2 356.4L59.4 354.6L59.4 356.4L57.6 360L55.8 358.2L55.8 356.4L54 358.2L52.2 356.4L52.2 354.6L50.4 354.6L50.4 352.8L50.4 351L48.6 352.8L46.8 352.8L45 351L46.8 349.2L46.8 347.4L45 347.4L45 345.6L45 343.8L43.2 343.8L45 342L45 340.2L43.2 340.2L45 338.4L46.8 336.6L48.6 336.6L50.4 336.6L46.8 334.8L46.8 333L43.2 331.2L45 331.2L45 329.4L43.2 327.6L45 325.8L46.8 325.8L45 322.2L46.8 324L48.6 320.4L50.4 318.6L52.2 320.4L54 322.2L55.8 320.4L57.6 324L57.6 322.2L59.4 324L61.2 322.2L61.2 324L61.2 327.6L63 324L64.8 325.8L66.6 325.8L64.8 329.4L68.4 325.8L66.6 329.4L68.4 329.4L70.2 329.4L73.8 329.4L72 331.2L75.6 329.4L77.4 331.2L75.6 333L77.4 333L73.8 336.6L70.2 338.4ZM165.6 347.4L165.6 349.2L165.6 351L167.4 352.8L165.6 354.6L169.2 356.4L169.2 358.2L165.6 360L165.6 361.8L163.8 361.8L165.6 365.4L158.4 361.8L162 367.2L160.2 369L154.8 365.4L154.8 367.2L154.8 370.8L153 369L149.4 367.2L149.4 369L147.6 369L145.8 365.4L144 367.2L142.2 365.4L140.4 363.6L140.4 361.8L138.6 363.6L136.8 365.4L136.8 361.8L135 361.8L135 360L131.4 361.8L129.6 363.6L129.6 361.8L127.8 361.8L126 360L126 358.2L124.2 358.2L122.4 356.4L126 354.6L122.4 352.8L122.4 351L118.8 351L122.4 349.2L120.6 347.4L118.8 345.6L120.6 343.8L122.4 342L120.6 340.2L124.2 340.2L120.6 336.6L122.4 334.8L124.2 334.8L126 333L126 331.2L126 329.4L127.8 327.6L129.6 327.6L131.4 327.6L135 331.2L133.2 325.8L136.8 327.6L138.6 325.8L140.4 324L142.2 325.8L142.2 329.4L144 324L145.8 324L147.6 327.6L149.4 325.8L151.2 329.4L151.2 333L153 331.2L154.8 331.2L156.6 331.2L158.4 333L158.4 334.8L160.2 336.6L162 336.6L163.8 336.6L162 340.2L163.8 340.2L162 343.8L165.6 343.8L163.8 345.6ZM464.4 365.4L464.4 367.2L466.2 369L464.4 369L464.4 370.8L462.6 370.8L462.6 372.6L460.8 370.8L460.8 372.6L460.8 374.4L459 376.2L459 378L457.2 376.2L457.2 381.6L455.4 381.6L455.4 383.4L453.6 383.4L451.8 381.6L451.8 383.4L451.8 378L448.2 381.6L448.2 379.8L448.2 378L448.2 376.2L446.4 376.2L446.4 374.4L444.6 374.4L448.2 370.8L446.4 370.8L444.6 370.8L442.8 370.8L442.8 369L444.6 367.2L444.6 365.4L442.8 365.4L444.6 363.6L442.8 363.6L444.6 361.8L442.8 361.8L444.6 361.8L442.8 360L442.8 358.2L442.8 356.4L444.6 356.4L442.8 352.8L444.6 352.8L446.4 352.8L448.2 354.6L450 356.4L450 351L451.8 351L451.8 352.8L451.8 347.4L453.6 352.8L455.4 351L457.2 351L457.2 352.8L459 352.8L460.8 354.6L459 356.4L462.6 352.8L462.6 356.4L464.4 354.6L464.4 356.4L464.4 358.2L466.2 358.2L468 358.2L468 360L466.2 361.8L466.2 363.6ZM120.6 120.6L118.8 122.4L117 122.4L118.8 124.2L117 124.2L117 126L115.2 126L115.2 127.8L113.4 127.8L113.4 129.6L113.4 131.4L111.6 131.4L109.8 131.4L109.8 133.2L109.8 131.4L108 131.4L108 129.6L106.2 129.6L106.2 131.4L106.2 129.6L104.4 129.6L102.6 129.6L102.6 127.8L100.8 129.6L100.8 127.8L99 127.8L97.2 126L99 124.2L97.2 124.2L97.2 122.4L95.4 120.6L97.2 120.6L95.4 118.8L95.4 117L99 117L97.2 117L99 115.2L99 113.4L100.8 113.4L100.8 111.6L102.6 111.6L104.4 111.6L104.4 109.8L106.2 111.6L108 111.6L109.8 111.6L111.6 111.6L113.4 113.4L113.4 111.6L115.2 111.6L117 111.6L117 113.4L118.8 115.2L118.8 117L118.8 118.8L120.6 118.8L120.6 120.6ZM228.6 171L234 169.2L239.4 169.2L241.2 165.6L244.8 165.6L248.4 163.8L252 162L257.4 162L262.8 158.4L268.2 154.8L270 154.8L273.6 149.4L277.2 147.6L279 156.6L282.6 156.6L284.4 160.2L288 158.4L288 162L289.8 163.8L289.8 167.4L289.8 172.8L295.2 172.8L297 174.6L300.6 178.2L298.8 180L304.2 181.8L307.8 183.6L307.8 185.4L304.2 189L304.2 194.4L304.2 198L304.2 201.6L302.4 205.2L302.4 208.8L298.8 210.6L295.2 212.4L291.6 214.2L291.6 217.8L288 221.4L286.2 225L280.8 223.2L277.2 226.8L271.8 228.6L268.2 226.8L262.8 228.6L259.2 225L253.8 225L250.2 226.8L246.6 225L243 223.2L243 217.8L237.6 219.6L235.8 216L234 214.2L234 210.6L232.2 208.8L232.2 205.2L226.8 203.4L228.6 198L228.6 194.4L230.4 190.8L228.6 187.2L230.4 183.6L228.6 181.8L230.4 178.2L230.4 174.6ZM194.4 221.4L196.2 219.6L199.8 219.6L201.6 219.6L205.2 219.6L207 221.4L210.6 221.4L212.4 225L214.2 226.8L217.8 228.6L217.8 232.2L219.6 235.8L221.4 239.4L219.6 241.2L216 244.8L212.4 246.6L210.6 250.2L207 248.4L205.2 250.2L201.6 250.2L199.8 246.6L196.2 244.8L194.4 243L190.8 239.4L192.6 235.8L190.8 230.4L194.4 226.8Z"/>
<path fill="#c8463a" d="M262.8 86.4L262.8 88.2L261 90L259.2 90L259.2 91.8L257.4 91.8L255.6 91.8L253.8 90L253.8 88.2L253.8 86.4L252 86.4L252 84.6L253.8 84.6L255.6 84.6L255.6 82.8L257.4 82.8L257.4 81L259.2 81L261 81L261 82.8L262.8 82.8L261 84.6L262.8 84.6L262.8 86.4ZM388.8 250.2L394.2 252L394.2 253.8L392.4 255.6L392.4 257.4L390.6 257.4L390.6 259.2L387 259.2L385.2 259.2L385.2 261L383.4 261L381.6 261L379.8 266.4L378 262.8L376.2 262.8L374.4 261L372.6 261L374.4 257.4L369 259.2L369 257.4L367.2 257.4L367.2 255.6L369 253.8L365.4 252L365.4 250.2L365.4 248.4L367.2 248.4L365.4 246.6L369 244.8L367.2 241.2L369 241.2L374.4 244.8L376.2 244.8L376.2 243L378 243L378 241.2L379.8 239.4L381.6 239.4L383.4 239.4L385.2 237.6L387 239.4L388.8 239.4L388.8 241.2L390.6 243L392.4 243L388.8 246.6L397.8 244.8L392.4 248.4L396 248.4ZM151.2 347.4L153 349.2L149.4 349.2L153 351L151.2 351L149.4 351L149.4 352.8L149.4 354.6L147.6 354.6L145.8 354.6L144 354.6L142.2 354.6L140.4 352.8L142.2 349.2L138.6 351L136.8 351L138.6 349.2L138.6 347.4L142.2 347.4L140.4 345.6L138.6 343.8L140.4 343.8L138.6 340.2L142.2 342L142.2 340.2L144 340.2L144 338.4L145.8 340.2L147.6 342L149.4 342L149.4 343.8L151.2 343.8L153 345.6L154.8 345.6ZM189 120.6L189 122.4L187.2 124.2L185.4 124.2L187.2 126L185.4 127.8L183.6 127.8L183.6 129.6L181.8 129.6L180 129.6L178.2 129.6L176.4 127.8L174.6 127.8L174.6 126L172.8 129.6L172.8 127.8L169.2 129.6L169.2 127.8L167.4 127.8L165.6 127.8L163.8 127.8L162 127.8L162 126L162 124.2L162 122.4L162 120.6L160.2 118.8L165.6 118.8L163.8 117L165.6 117L167.4 115.2L169.2 115.2L169.2 113.4L171 115.2L171 113.4L172.8 113.4L174.6 115.2L176.4 115.2L178.2 111.6L180 111.6L181.8 111.6L183.6 113.4L181.8 115.2L185.4 115.2L187.2 117L187.2 118.8L189 118.8ZM73.8 156.6L72 156.6L72 158.4L70.2 160.2L68.4 160.2L68.4 158.4L66.6 160.2L64.8 160.2L63 162L63 160.2L61.2 160.2L61.2 158.4L59.4 158.4L61.2 156.6L61.2 154.8L59.4 154.8L61.2 153L61.2 151.2L63 151.2L64.8 151.2L64.8 153L66.6 151.2L66.6 153L68.4 151.2L70.2 153L72 153L70.2 153L70.2 154.8L72 154.8ZM252 178.2L257.4 178.2L259.2 174.6L262.8 174.6L266.4 171L270 172.8L271.8 171L275.4 169.2L277.2 171L279 171L280.8 174.6L282.6 180L284.4 183.6L288 185.4L288 189L291.6 190.8L291.6 194.4L291.6 199.8L291.6 203.4L288 205.2L288 208.8L284.4 210.6L282.6 212.4L279 212.4L275.4 214.2L271.8 214.2L268.2 214.2L264.6 214.2L262.8 214.2L259.2 212.4L255.6 210.6L253.8 208.8L252 205.2L248.4 203.4L250.2 198L248.4 194.4L246.6 190.8L250.2 187.2L252 183.6ZM201.6 228.6L203.4 228.6L205.2 228.6L207 230.4L208.8 234L207 235.8L207 239.4L203.4 239.4L201.6 239.4L199.8 235.8L198 234L199.8 232.2Z"/>
<use href="#rdg" fill="none" stroke="#fff" stroke-opacity="0.13" stroke-width="1.1" stroke-linejoin="round"/>
<path fill="#d1d0d5" d="M0 0L205.4 0L204 15L202.8 32.7L208 44L197.8 52.9L190.2 60.4L182.7 66.7L170 71.8L155 76.8L137.4 83L122.3 89.4L109.7 95.7L99.6 103.2L98.3 113.3L100.9 126L102 131L94.5 136L87 141L75.6 141.7L47.2 141.7L28.3 138.6L12.6 132.3L0 122.8Z"/><text x="147" y="24" font-size="5" fill="#b5b5ba" text-anchor="middle" font-family="Liberation Sans">English</text><text x="147" y="30" font-size="5" fill="#b5b5ba" text-anchor="middle" font-family="Liberation Sans">Channel</text>
<defs><linearGradient id="mg" x1="0" y1="0" x2="1" y2="1"><stop offset="0" stop-color="#48a8f2"/><stop offset=".45" stop-color="#4ab4e6"/><stop offset=".6" stop-color="#3fc384"/><stop offset="1" stop-color="#36b866"/></linearGradient></defs>
<circle cx="344.6" cy="27.8" r="5" fill="url(#mg)" stroke="#3a8a9a" stroke-opacity=".35" stroke-width=".6"/><circle cx="344.6" cy="27.8" r="1.8" fill="#c8f4ff" opacity=".75"/>
<circle cx="257.5" cy="79.5" r="5" fill="url(#mg)" stroke="#3a8a9a" stroke-opacity=".35" stroke-width=".6"/><circle cx="257.5" cy="79.5" r="1.8" fill="#c8f4ff" opacity=".75"/>
<circle cx="171.4" cy="124.7" r="5" fill="url(#mg)" stroke="#3a8a9a" stroke-opacity=".35" stroke-width=".6"/><circle cx="171.4" cy="124.7" r="1.8" fill="#c8f4ff" opacity=".75"/>
<circle cx="104.6" cy="123.4" r="5" fill="url(#mg)" stroke="#3a8a9a" stroke-opacity=".35" stroke-width=".6"/><circle cx="104.6" cy="123.4" r="1.8" fill="#c8f4ff" opacity=".75"/>
<circle cx="67.7" cy="154.3" r="5" fill="url(#mg)" stroke="#3a8a9a" stroke-opacity=".35" stroke-width=".6"/><circle cx="67.7" cy="154.3" r="1.8" fill="#c8f4ff" opacity=".75"/>
<circle cx="385.8" cy="152.7" r="5" fill="url(#mg)" stroke="#3a8a9a" stroke-opacity=".35" stroke-width=".6"/><circle cx="385.8" cy="152.7" r="1.8" fill="#c8f4ff" opacity=".75"/>
<circle cx="203.4" cy="234.7" r="5" fill="url(#mg)" stroke="#3a8a9a" stroke-opacity=".35" stroke-width=".6"/><circle cx="203.4" cy="234.7" r="1.8" fill="#c8f4ff" opacity=".75"/>
<circle cx="382.6" cy="251.8" r="5" fill="url(#mg)" stroke="#3a8a9a" stroke-opacity=".35" stroke-width=".6"/><circle cx="382.6" cy="251.8" r="1.8" fill="#c8f4ff" opacity=".75"/>
<circle cx="106.5" cy="284.9" r="5" fill="url(#mg)" stroke="#3a8a9a" stroke-opacity=".35" stroke-width=".6"/><circle cx="106.5" cy="284.9" r="1.8" fill="#c8f4ff" opacity=".75"/>
<circle cx="55.5" cy="339" r="5" fill="url(#mg)" stroke="#3a8a9a" stroke-opacity=".35" stroke-width=".6"/><circle cx="55.5" cy="339" r="1.8" fill="#c8f4ff" opacity=".75"/>
<circle cx="143.3" cy="342.2" r="5" fill="url(#mg)" stroke="#3a8a9a" stroke-opacity=".35" stroke-width=".6"/><circle cx="143.3" cy="342.2" r="1.8" fill="#c8f4ff" opacity=".75"/>
<circle cx="145.5" cy="348.5" r="5" fill="url(#mg)" stroke="#3a8a9a" stroke-opacity=".35" stroke-width=".6"/><circle cx="145.5" cy="348.5" r="1.8" fill="#c8f4ff" opacity=".75"/>
<circle cx="454" cy="353.6" r="5" fill="url(#mg)" stroke="#3a8a9a" stroke-opacity=".35" stroke-width=".6"/><circle cx="454" cy="353.6" r="1.8" fill="#c8f4ff" opacity=".75"/>
<circle cx="255" cy="178" r="5" fill="url(#mg)" stroke="#3a8a9a" stroke-opacity=".35" stroke-width=".6"/><circle cx="255" cy="178" r="1.8" fill="#c8f4ff" opacity=".75"/>
<circle cx="261" cy="181" r="5" fill="url(#mg)" stroke="#3a8a9a" stroke-opacity=".35" stroke-width=".6"/><circle cx="261" cy="181" r="1.8" fill="#c8f4ff" opacity=".75"/>
<circle cx="265" cy="186" r="5" fill="url(#mg)" stroke="#3a8a9a" stroke-opacity=".35" stroke-width=".6"/><circle cx="265" cy="186" r="1.8" fill="#c8f4ff" opacity=".75"/>
<circle cx="258" cy="189" r="5" fill="url(#mg)" stroke="#3a8a9a" stroke-opacity=".35" stroke-width=".6"/><circle cx="258" cy="189" r="1.8" fill="#c8f4ff" opacity=".75"/>
<circle cx="253" cy="192" r="5" fill="url(#mg)" stroke="#3a8a9a" stroke-opacity=".35" stroke-width=".6"/><circle cx="253" cy="192" r="1.8" fill="#c8f4ff" opacity=".75"/>
<circle cx="267" cy="191" r="5" fill="url(#mg)" stroke="#3a8a9a" stroke-opacity=".35" stroke-width=".6"/><circle cx="267" cy="191" r="1.8" fill="#c8f4ff" opacity=".75"/>
<circle cx="261" cy="196" r="5" fill="url(#mg)" stroke="#3a8a9a" stroke-opacity=".35" stroke-width=".6"/><circle cx="261" cy="196" r="1.8" fill="#c8f4ff" opacity=".75"/>
<circle cx="255" cy="199" r="5" fill="url(#mg)" stroke="#3a8a9a" stroke-opacity=".35" stroke-width=".6"/><circle cx="255" cy="199" r="1.8" fill="#c8f4ff" opacity=".75"/>
<circle cx="247" cy="171.7" r="5" fill="url(#mg)" stroke="#3a8a9a" stroke-opacity=".35" stroke-width=".6"/><circle cx="247" cy="171.7" r="1.8" fill="#c8f4ff" opacity=".75"/>
<circle cx="238.7" cy="186.8" r="5" fill="url(#mg)" stroke="#3a8a9a" stroke-opacity=".35" stroke-width=".6"/><circle cx="238.7" cy="186.8" r="1.8" fill="#c8f4ff" opacity=".75"/>
<circle cx="247.5" cy="186.8" r="5" fill="url(#mg)" stroke="#3a8a9a" stroke-opacity=".35" stroke-width=".6"/><circle cx="247.5" cy="186.8" r="1.8" fill="#c8f4ff" opacity=".75"/>
<circle cx="257.6" cy="180.5" r="5" fill="url(#mg)" stroke="#3a8a9a" stroke-opacity=".35" stroke-width=".6"/><circle cx="257.6" cy="180.5" r="1.8" fill="#c8f4ff" opacity=".75"/>
<circle cx="260" cy="186.8" r="5" fill="url(#mg)" stroke="#3a8a9a" stroke-opacity=".35" stroke-width=".6"/><circle cx="260" cy="186.8" r="1.8" fill="#c8f4ff" opacity=".75"/>
<circle cx="265" cy="189.3" r="5" fill="url(#mg)" stroke="#3a8a9a" stroke-opacity=".35" stroke-width=".6"/><circle cx="265" cy="189.3" r="1.8" fill="#c8f4ff" opacity=".75"/>
<circle cx="252.6" cy="195.6" r="5" fill="url(#mg)" stroke="#3a8a9a" stroke-opacity=".35" stroke-width=".6"/><circle cx="252.6" cy="195.6" r="1.8" fill="#c8f4ff" opacity=".75"/>
<circle cx="245" cy="198" r="5" fill="url(#mg)" stroke="#3a8a9a" stroke-opacity=".35" stroke-width=".6"/><circle cx="245" cy="198" r="1.8" fill="#c8f4ff" opacity=".75"/>
<circle cx="240" cy="203.2" r="5" fill="url(#mg)" stroke="#3a8a9a" stroke-opacity=".35" stroke-width=".6"/><circle cx="240" cy="203.2" r="1.8" fill="#c8f4ff" opacity=".75"/>
<circle cx="260" cy="204.5" r="5" fill="url(#mg)" stroke="#3a8a9a" stroke-opacity=".35" stroke-width=".6"/><circle cx="260" cy="204.5" r="1.8" fill="#c8f4ff" opacity=".75"/>
<circle cx="274" cy="193" r="5" fill="url(#mg)" stroke="#3a8a9a" stroke-opacity=".35" stroke-width=".6"/><circle cx="274" cy="193" r="1.8" fill="#c8f4ff" opacity=".75"/>
<circle cx="282.8" cy="195.6" r="5" fill="url(#mg)" stroke="#3a8a9a" stroke-opacity=".35" stroke-width=".6"/><circle cx="282.8" cy="195.6" r="1.8" fill="#c8f4ff" opacity=".75"/>
<circle cx="292.9" cy="194.4" r="5" fill="url(#mg)" stroke="#3a8a9a" stroke-opacity=".35" stroke-width=".6"/><circle cx="292.9" cy="194.4" r="1.8" fill="#c8f4ff" opacity=".75"/>
<circle cx="272.7" cy="202" r="5" fill="url(#mg)" stroke="#3a8a9a" stroke-opacity=".35" stroke-width=".6"/><circle cx="272.7" cy="202" r="1.8" fill="#c8f4ff" opacity=".75"/>
<circle cx="250" cy="210.8" r="5" fill="url(#mg)" stroke="#3a8a9a" stroke-opacity=".35" stroke-width=".6"/><circle cx="250" cy="210.8" r="1.8" fill="#c8f4ff" opacity=".75"/>
<circle cx="262.6" cy="217" r="5" fill="url(#mg)" stroke="#3a8a9a" stroke-opacity=".35" stroke-width=".6"/><circle cx="262.6" cy="217" r="1.8" fill="#c8f4ff" opacity=".75"/>
<circle cx="276.5" cy="217" r="5" fill="url(#mg)" stroke="#3a8a9a" stroke-opacity=".35" stroke-width=".6"/><circle cx="276.5" cy="217" r="1.8" fill="#c8f4ff" opacity=".75"/>
<circle cx="285.3" cy="225.9" r="5" fill="url(#mg)" stroke="#3a8a9a" stroke-opacity=".35" stroke-width=".6"/><circle cx="285.3" cy="225.9" r="1.8" fill="#c8f4ff" opacity=".75"/>
</svg>
  <!-- search bar -->
  <div class="a" style="left:451px;top:4px;width:149px;height:22px;background:#fff;border-radius:11px;box-shadow:0 1px 3px rgba(0,0,0,.3)">
    <svg class="a" style="left:6px;top:6px" width="10" height="10"><circle cx="4" cy="4" r="3" fill="none" stroke="#333" stroke-width="1.3"/><line x1="6.2" y1="6.2" x2="9" y2="9" stroke="#333" stroke-width="1.5"/></svg>
    <div class="lg" style="left:23px;top:5.5px;font-size:7px;color:#aaa">Rechercher</div>
    <div class="a" style="left:23px;top:16px;width:99px;height:1px;background:#c4c4c4"></div>
    <svg class="a" style="left:129px;top:6px" width="10" height="10"><circle cx="5" cy="5" r="3.6" fill="none" stroke="#333" stroke-width="1.1"/><circle cx="5" cy="5" r="1.6" fill="#333"/></svg>
  </div>
  <!-- legend -->
  <div class="a" style="left:451px;top:31px;width:150px;height:318px;background:#fff;border-radius:7px 7px 7px 7px;box-shadow:0 1px 3px rgba(0,0,0,.25)">
    <svg class="a" style="left:5px;top:4px" width="14" height="14"><path d="M4.5 3L3 7M9.5 3L11 7" stroke="#333" stroke-width="1"/><circle cx="3.8" cy="9.5" r="2.6" fill="none" stroke="#333" stroke-width="1"/><circle cx="10.2" cy="9.5" r="2.6" fill="none" stroke="#333" stroke-width="1"/><path d="M6 9.5L8 9.5" stroke="#333" stroke-width="1"/><path d="M4.5 4.5Q7 1 9.5 4.5Z" fill="#3cbf72"/></svg>
    <div class="lg" style="left:23px;top:7px;font-size:8.2px;color:#444">Légende</div>
    <div class="a" style="left:0;right:0;top:22px;height:1px;background:#e6e6e6"></div>
    <div class="lg" style="left:6px;top:30px">Mon Réseau</div>
    <svg class="a" style="left:8px;top:50px" width="11" height="11"><defs><linearGradient id="mg2" x1="0" y1="0" x2="1" y2="1"><stop offset="0" stop-color="#48a8f2"/><stop offset=".45" stop-color="#4ab4e6"/><stop offset=".6" stop-color="#3fc384"/><stop offset="1" stop-color="#36b866"/></linearGradient></defs><circle cx="5.5" cy="5.5" r="5" fill="url(#mg2)"/><circle cx="5.5" cy="5.5" r="1.8" fill="#c8f4ff" opacity=".75"/></svg>
    <div class="lg" style="left:27px;top:49px;font-size:7.2px">Mon Réseau</div>
    <div class="lg" style="left:6px;top:76px">Zone Primaire (0 à 20min)</div>
    <div class="sw" style="left:8px;top:94px;background:#c6282b"></div>
    <div class="lg" style="left:24px;top:94px;font-size:7.2px">Zone Primaire (0 à 20min)</div>
    <div class="lg" style="left:6px;top:115px">Zone Secondaire (20 à 30min)</div>
    <div class="sw" style="left:8px;top:132px;background:#f39414"></div>
    <div class="lg" style="left:24px;top:132px;font-size:7.2px">Zone Secondaire (20 à 30min)</div>
    <div class="lg" style="left:6px;top:153px">Zone Tertiaire (30 à 40min)</div>
    <div class="sw" style="left:8px;top:170px;background:#f7cd2f"></div>
    <div class="lg" style="left:24px;top:170px;font-size:7.2px">Zone Tertiaire (30 à 40min)</div>
    <div class="lg" style="left:6px;top:190px">Potentiel de Marché</div>
    <div class="sw" style="left:8px;top:208.0px;height:7px;background:#b3d68f"></div><div class="lg" style="left:24px;top:206.5px;font-size:7px">[ 3,003,565 - 5,447,347 ]</div>
<div class="sw" style="left:8px;top:219.6px;height:7px;background:#a6d07f"></div><div class="lg" style="left:24px;top:218.1px;font-size:7px">[ 5,447,347 - 7,891,129 ]</div>
<div class="sw" style="left:8px;top:231.2px;height:7px;background:#9ccb73"></div><div class="lg" style="left:24px;top:229.7px;font-size:7px">[ 7,891,129 - 10,334,911 ]</div>
<div class="sw" style="left:8px;top:242.8px;height:7px;background:#8fc466"></div><div class="lg" style="left:24px;top:241.3px;font-size:7px">[ 10,334,911 - 12,778,693 ]</div>
<div class="sw" style="left:8px;top:254.4px;height:7px;background:#86bf5b"></div><div class="lg" style="left:24px;top:252.9px;font-size:7px">[ 12,778,693 - 15,222,474 ]</div>
<div class="sw" style="left:8px;top:266.0px;height:7px;background:#79b64f"></div><div class="lg" style="left:24px;top:264.5px;font-size:7px">[ 15,222,474 - 17,666,256 ]</div>
<div class="sw" style="left:8px;top:277.6px;height:7px;background:#6aa845"></div><div class="lg" style="left:24px;top:276.1px;font-size:7px">[ 17,666,256 - 20,110,038 ]</div>
<div class="sw" style="left:8px;top:289.2px;height:7px;background:#5d9a3d"></div><div class="lg" style="left:24px;top:287.7px;font-size:7px">[ 20,110,038 - 22,553,820 ]</div>
<div class="sw" style="left:8px;top:300.8px;height:7px;background:#4f8a35"></div><div class="lg" style="left:24px;top:299.3px;font-size:7px">[ 22,553,820 - 24,997,602 ]</div>
  </div>
  <!-- buttons -->
  <div class="btn" style="left:584px;top:274px;height:17px"><svg width="17" height="17"><g fill="#333"><circle cx="6.5" cy="8.5" r="1.2"/><circle cx="10.5" cy="6" r="1.2"/><circle cx="10.5" cy="11" r="1.2"/></g><path d="M6.5 8.5L10.5 6M6.5 8.5L10.5 11" stroke="#333" stroke-width=".8"/></svg></div>
  <div class="btn" style="left:584px;top:296px;height:17px;font-size:8px;line-height:17px">?</div>
  <div class="btn" style="left:584px;top:318px;height:17px;font-size:7px;line-height:17px;font-weight:normal">3D</div>
  <div class="btn" style="left:584px;top:341px;height:32px;font-size:11px;line-height:15px">+<br>&minus;</div>
  <div class="a" style="left:553px;top:379px;width:47px;height:9px;background:rgba(255,255,255,.75);border:1px solid #888;border-top:none;font-size:6px;color:#333;padding-left:3px;line-height:8px">50 km</div>
  <div class="a" style="left:601px;top:0;width:4px;height:391px;background:rgba(235,235,235,.6)"></div>
  <div class="a" style="left:602px;top:190px;width:3px;height:45px;background:#2060d0"></div>
</div>
</body></html>
